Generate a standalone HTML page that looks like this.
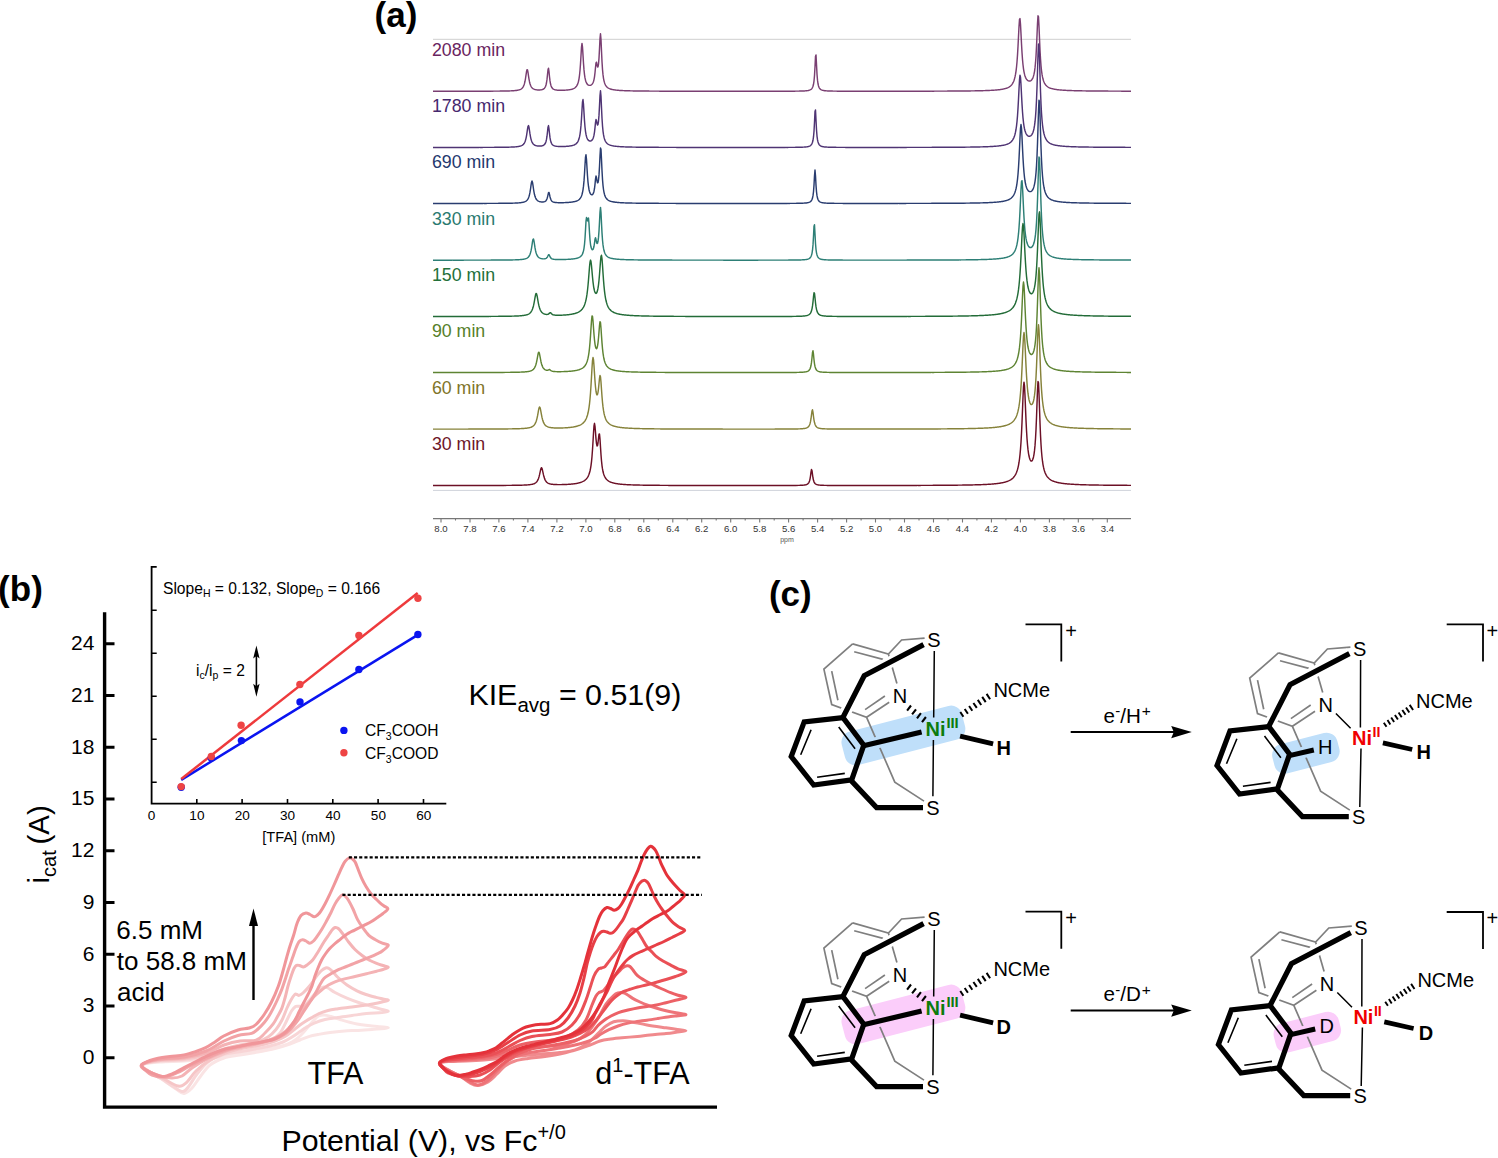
<!DOCTYPE html>
<html><head><meta charset="utf-8"><style>
html,body{margin:0;padding:0;background:#fff;}
svg{display:block;}
</style></head><body>
<svg width="1498" height="1158" viewBox="0 0 1498 1158">
<rect width="1498" height="1158" fill="#fff"/>
<text x="374.6" y="27.4" style="font-family:'Liberation Sans', sans-serif;font-weight:bold;font-size:35px">(a)</text>
<line x1="433" y1="39.3" x2="1131" y2="39.3" stroke="#cfcfcf" stroke-width="1"/>
<line x1="433" y1="490.4" x2="1131" y2="490.4" stroke="#cfd3da" stroke-width="1"/>
<path d="M433.0 91.26 L433.5 91.26 L434.0 91.26 L434.5 91.26 L435.0 91.26 L435.5 91.26 L436.0 91.26 L436.5 91.26 L437.0 91.26 L437.5 91.26 L438.0 91.26 L438.5 91.26 L439.0 91.26 L439.5 91.26 L440.0 91.26 L440.5 91.26 L441.0 91.26 L441.5 91.25 L442.0 91.25 L442.5 91.25 L443.0 91.25 L443.5 91.25 L444.0 91.25 L444.5 91.25 L445.0 91.25 L445.5 91.25 L446.0 91.25 L446.5 91.25 L447.0 91.25 L447.5 91.25 L448.0 91.25 L448.5 91.25 L449.0 91.25 L449.5 91.25 L450.0 91.25 L450.5 91.25 L451.0 91.25 L451.5 91.25 L452.0 91.25 L452.5 91.25 L453.0 91.25 L453.5 91.24 L454.0 91.24 L454.5 91.24 L455.0 91.24 L455.5 91.24 L456.0 91.24 L456.5 91.24 L457.0 91.24 L457.5 91.24 L458.0 91.24 L458.5 91.24 L459.0 91.24 L459.5 91.24 L460.0 91.24 L460.5 91.24 L461.0 91.24 L461.5 91.24 L462.0 91.24 L462.5 91.23 L463.0 91.23 L463.5 91.23 L464.0 91.23 L464.5 91.23 L465.0 91.23 L465.5 91.23 L466.0 91.23 L466.5 91.23 L467.0 91.23 L467.5 91.23 L468.0 91.23 L468.5 91.23 L469.0 91.22 L469.5 91.22 L470.0 91.22 L470.5 91.22 L471.0 91.22 L471.5 91.22 L472.0 91.22 L472.5 91.22 L473.0 91.22 L473.5 91.22 L474.0 91.22 L474.5 91.21 L475.0 91.21 L475.5 91.21 L476.0 91.21 L476.5 91.21 L477.0 91.21 L477.5 91.21 L478.0 91.21 L478.5 91.20 L479.0 91.20 L479.5 91.20 L480.0 91.20 L480.5 91.20 L481.0 91.20 L481.5 91.20 L482.0 91.20 L482.5 91.19 L483.0 91.19 L483.5 91.19 L484.0 91.19 L484.5 91.19 L485.0 91.19 L485.5 91.18 L486.0 91.18 L486.5 91.18 L487.0 91.18 L487.5 91.18 L488.0 91.17 L488.5 91.17 L489.0 91.17 L489.5 91.17 L490.0 91.16 L490.5 91.16 L491.0 91.16 L491.5 91.16 L492.0 91.15 L492.5 91.15 L493.0 91.15 L493.5 91.14 L494.0 91.14 L494.5 91.14 L495.0 91.13 L495.5 91.13 L496.0 91.13 L496.5 91.12 L497.0 91.12 L497.5 91.12 L498.0 91.11 L498.5 91.11 L499.0 91.10 L499.5 91.10 L500.0 91.09 L500.5 91.09 L501.0 91.08 L501.5 91.07 L502.0 91.07 L502.5 91.06 L503.0 91.05 L503.5 91.05 L504.0 91.04 L504.5 91.03 L505.0 91.02 L505.5 91.01 L506.0 91.00 L506.5 90.99 L507.0 90.98 L507.5 90.97 L508.0 90.95 L508.5 90.94 L509.0 90.92 L509.5 90.91 L510.0 90.89 L510.5 90.87 L511.0 90.85 L511.5 90.83 L512.0 90.80 L512.5 90.77 L513.0 90.75 L513.5 90.71 L514.0 90.68 L514.5 90.64 L515.0 90.59 L515.5 90.54 L516.0 90.48 L516.5 90.42 L517.0 90.34 L517.5 90.26 L518.0 90.16 L518.5 90.05 L519.0 89.92 L519.5 89.76 L520.0 89.58 L520.5 89.35 L521.0 89.08 L521.5 88.74 L522.0 88.32 L522.5 87.79 L523.0 87.10 L523.5 86.20 L524.0 85.01 L524.5 83.42 L525.0 81.28 L525.5 78.51 L526.0 75.15 L526.5 71.77 L527.0 69.62 L527.5 69.87 L528.0 72.38 L528.5 75.81 L529.0 79.06 L529.5 81.70 L530.0 83.70 L530.5 85.18 L531.0 86.29 L531.5 87.13 L532.0 87.76 L532.5 88.26 L533.0 88.64 L533.5 88.94 L534.0 89.18 L534.5 89.38 L535.0 89.53 L535.5 89.66 L536.0 89.76 L536.5 89.84 L537.0 89.90 L537.5 89.94 L538.0 89.97 L538.5 89.99 L539.0 89.99 L539.5 89.97 L540.0 89.95 L540.5 89.90 L541.0 89.84 L541.5 89.75 L542.0 89.63 L542.5 89.48 L543.0 89.27 L543.5 89.00 L544.0 88.64 L544.5 88.15 L545.0 87.45 L545.5 86.46 L546.0 84.99 L546.5 82.76 L547.0 79.39 L547.5 74.66 L548.0 69.72 L548.5 68.12 L549.0 71.54 L549.5 76.70 L550.0 80.91 L550.5 83.78 L551.0 85.67 L551.5 86.93 L552.0 87.79 L552.5 88.40 L553.0 88.84 L553.5 89.17 L554.0 89.42 L554.5 89.61 L555.0 89.76 L555.5 89.88 L556.0 89.98 L556.5 90.05 L557.0 90.11 L557.5 90.16 L558.0 90.20 L558.5 90.23 L559.0 90.26 L559.5 90.27 L560.0 90.29 L560.5 90.29 L561.0 90.29 L561.5 90.29 L562.0 90.29 L562.5 90.28 L563.0 90.27 L563.5 90.25 L564.0 90.23 L564.5 90.21 L565.0 90.18 L565.5 90.15 L566.0 90.12 L566.5 90.08 L567.0 90.04 L567.5 89.99 L568.0 89.94 L568.5 89.88 L569.0 89.81 L569.5 89.74 L570.0 89.65 L570.5 89.56 L571.0 89.45 L571.5 89.33 L572.0 89.19 L572.5 89.04 L573.0 88.86 L573.5 88.65 L574.0 88.40 L574.5 88.11 L575.0 87.77 L575.5 87.35 L576.0 86.84 L576.5 86.21 L577.0 85.42 L577.5 84.39 L578.0 83.05 L578.5 81.25 L579.0 78.79 L579.5 75.35 L580.0 70.52 L580.5 63.85 L581.0 55.43 L581.5 47.15 L582.0 43.40 L582.5 47.01 L583.0 55.14 L583.5 63.41 L584.0 69.93 L584.5 74.61 L585.0 77.89 L585.5 80.19 L586.0 81.82 L586.5 82.99 L587.0 83.83 L587.5 84.43 L588.0 84.85 L588.5 85.13 L589.0 85.30 L589.5 85.38 L590.0 85.36 L590.5 85.26 L591.0 85.06 L591.5 84.75 L592.0 84.30 L592.5 83.67 L593.0 82.77 L593.5 81.49 L594.0 79.62 L594.5 76.84 L595.0 72.76 L595.5 67.46 L596.0 62.84 L596.5 62.17 L597.0 64.75 L597.5 66.94 L598.0 66.89 L598.5 64.08 L599.0 58.11 L599.5 48.87 L600.0 38.49 L600.5 33.70 L601.0 39.50 L601.5 50.99 L602.0 61.58 L602.5 69.33 L603.0 74.64 L603.5 78.28 L604.0 80.84 L604.5 82.68 L605.0 84.05 L605.5 85.09 L606.0 85.90 L606.5 86.55 L607.0 87.08 L607.5 87.51 L608.0 87.87 L608.5 88.18 L609.0 88.44 L609.5 88.66 L610.0 88.86 L610.5 89.03 L611.0 89.19 L611.5 89.32 L612.0 89.45 L612.5 89.56 L613.0 89.65 L613.5 89.75 L614.0 89.83 L614.5 89.90 L615.0 89.97 L615.5 90.04 L616.0 90.10 L616.5 90.15 L617.0 90.20 L617.5 90.25 L618.0 90.29 L618.5 90.33 L619.0 90.37 L619.5 90.41 L620.0 90.44 L620.5 90.47 L621.0 90.50 L621.5 90.53 L622.0 90.56 L622.5 90.58 L623.0 90.61 L623.5 90.63 L624.0 90.65 L624.5 90.67 L625.0 90.69 L625.5 90.71 L626.0 90.73 L626.5 90.74 L627.0 90.76 L627.5 90.78 L628.0 90.79 L628.5 90.81 L629.0 90.82 L629.5 90.83 L630.0 90.84 L630.5 90.86 L631.0 90.87 L631.5 90.88 L632.0 90.89 L632.5 90.90 L633.0 90.91 L633.5 90.92 L634.0 90.93 L634.5 90.93 L635.0 90.94 L635.5 90.95 L636.0 90.96 L636.5 90.97 L637.0 90.97 L637.5 90.98 L638.0 90.99 L638.5 90.99 L639.0 91.00 L639.5 91.01 L640.0 91.01 L640.5 91.02 L641.0 91.02 L641.5 91.03 L642.0 91.03 L642.5 91.04 L643.0 91.04 L643.5 91.05 L644.0 91.05 L644.5 91.06 L645.0 91.06 L645.5 91.07 L646.0 91.07 L646.5 91.07 L647.0 91.08 L647.5 91.08 L648.0 91.09 L648.5 91.09 L649.0 91.09 L649.5 91.10 L650.0 91.10 L650.5 91.10 L651.0 91.11 L651.5 91.11 L652.0 91.11 L652.5 91.11 L653.0 91.12 L653.5 91.12 L654.0 91.12 L654.5 91.13 L655.0 91.13 L655.5 91.13 L656.0 91.13 L656.5 91.14 L657.0 91.14 L657.5 91.14 L658.0 91.14 L658.5 91.14 L659.0 91.15 L659.5 91.15 L660.0 91.15 L660.5 91.15 L661.0 91.15 L661.5 91.16 L662.0 91.16 L662.5 91.16 L663.0 91.16 L663.5 91.16 L664.0 91.16 L664.5 91.17 L665.0 91.17 L665.5 91.17 L666.0 91.17 L666.5 91.17 L667.0 91.17 L667.5 91.18 L668.0 91.18 L668.5 91.18 L669.0 91.18 L669.5 91.18 L670.0 91.18 L670.5 91.18 L671.0 91.18 L671.5 91.19 L672.0 91.19 L672.5 91.19 L673.0 91.19 L673.5 91.19 L674.0 91.19 L674.5 91.19 L675.0 91.19 L675.5 91.19 L676.0 91.20 L676.5 91.20 L677.0 91.20 L677.5 91.20 L678.0 91.20 L678.5 91.20 L679.0 91.20 L679.5 91.20 L680.0 91.20 L680.5 91.20 L681.0 91.21 L681.5 91.21 L682.0 91.21 L682.5 91.21 L683.0 91.21 L683.5 91.21 L684.0 91.21 L684.5 91.21 L685.0 91.21 L685.5 91.21 L686.0 91.21 L686.5 91.21 L687.0 91.21 L687.5 91.22 L688.0 91.22 L688.5 91.22 L689.0 91.22 L689.5 91.22 L690.0 91.22 L690.5 91.22 L691.0 91.22 L691.5 91.22 L692.0 91.22 L692.5 91.22 L693.0 91.22 L693.5 91.22 L694.0 91.22 L694.5 91.22 L695.0 91.22 L695.5 91.22 L696.0 91.23 L696.5 91.23 L697.0 91.23 L697.5 91.23 L698.0 91.23 L698.5 91.23 L699.0 91.23 L699.5 91.23 L700.0 91.23 L700.5 91.23 L701.0 91.23 L701.5 91.23 L702.0 91.23 L702.5 91.23 L703.0 91.23 L703.5 91.23 L704.0 91.23 L704.5 91.23 L705.0 91.23 L705.5 91.23 L706.0 91.23 L706.5 91.23 L707.0 91.23 L707.5 91.23 L708.0 91.24 L708.5 91.24 L709.0 91.24 L709.5 91.24 L710.0 91.24 L710.5 91.24 L711.0 91.24 L711.5 91.24 L712.0 91.24 L712.5 91.24 L713.0 91.24 L713.5 91.24 L714.0 91.24 L714.5 91.24 L715.0 91.24 L715.5 91.24 L716.0 91.24 L716.5 91.24 L717.0 91.24 L717.5 91.24 L718.0 91.24 L718.5 91.24 L719.0 91.24 L719.5 91.24 L720.0 91.24 L720.5 91.24 L721.0 91.24 L721.5 91.24 L722.0 91.24 L722.5 91.24 L723.0 91.24 L723.5 91.24 L724.0 91.24 L724.5 91.24 L725.0 91.24 L725.5 91.24 L726.0 91.24 L726.5 91.24 L727.0 91.24 L727.5 91.24 L728.0 91.24 L728.5 91.24 L729.0 91.24 L729.5 91.24 L730.0 91.24 L730.5 91.24 L731.0 91.25 L731.5 91.25 L732.0 91.25 L732.5 91.25 L733.0 91.25 L733.5 91.25 L734.0 91.25 L734.5 91.25 L735.0 91.25 L735.5 91.25 L736.0 91.25 L736.5 91.25 L737.0 91.25 L737.5 91.25 L738.0 91.25 L738.5 91.25 L739.0 91.25 L739.5 91.25 L740.0 91.25 L740.5 91.25 L741.0 91.25 L741.5 91.25 L742.0 91.25 L742.5 91.25 L743.0 91.25 L743.5 91.25 L744.0 91.25 L744.5 91.25 L745.0 91.25 L745.5 91.25 L746.0 91.25 L746.5 91.25 L747.0 91.25 L747.5 91.25 L748.0 91.25 L748.5 91.25 L749.0 91.25 L749.5 91.25 L750.0 91.25 L750.5 91.25 L751.0 91.25 L751.5 91.25 L752.0 91.25 L752.5 91.25 L753.0 91.25 L753.5 91.25 L754.0 91.25 L754.5 91.25 L755.0 91.25 L755.5 91.25 L756.0 91.25 L756.5 91.25 L757.0 91.25 L757.5 91.24 L758.0 91.24 L758.5 91.24 L759.0 91.24 L759.5 91.24 L760.0 91.24 L760.5 91.24 L761.0 91.24 L761.5 91.24 L762.0 91.24 L762.5 91.24 L763.0 91.24 L763.5 91.24 L764.0 91.24 L764.5 91.24 L765.0 91.24 L765.5 91.24 L766.0 91.24 L766.5 91.24 L767.0 91.24 L767.5 91.24 L768.0 91.24 L768.5 91.24 L769.0 91.24 L769.5 91.24 L770.0 91.24 L770.5 91.24 L771.0 91.24 L771.5 91.24 L772.0 91.24 L772.5 91.24 L773.0 91.24 L773.5 91.23 L774.0 91.23 L774.5 91.23 L775.0 91.23 L775.5 91.23 L776.0 91.23 L776.5 91.23 L777.0 91.23 L777.5 91.23 L778.0 91.23 L778.5 91.23 L779.0 91.23 L779.5 91.23 L780.0 91.22 L780.5 91.22 L781.0 91.22 L781.5 91.22 L782.0 91.22 L782.5 91.22 L783.0 91.22 L783.5 91.22 L784.0 91.22 L784.5 91.21 L785.0 91.21 L785.5 91.21 L786.0 91.21 L786.5 91.21 L787.0 91.21 L787.5 91.20 L788.0 91.20 L788.5 91.20 L789.0 91.20 L789.5 91.19 L790.0 91.19 L790.5 91.19 L791.0 91.19 L791.5 91.18 L792.0 91.18 L792.5 91.18 L793.0 91.17 L793.5 91.17 L794.0 91.16 L794.5 91.16 L795.0 91.16 L795.5 91.15 L796.0 91.14 L796.5 91.14 L797.0 91.13 L797.5 91.12 L798.0 91.12 L798.5 91.11 L799.0 91.10 L799.5 91.09 L800.0 91.08 L800.5 91.07 L801.0 91.05 L801.5 91.04 L802.0 91.02 L802.5 91.00 L803.0 90.98 L803.5 90.96 L804.0 90.94 L804.5 90.91 L805.0 90.87 L805.5 90.84 L806.0 90.79 L806.5 90.74 L807.0 90.68 L807.5 90.61 L808.0 90.53 L808.5 90.43 L809.0 90.30 L809.5 90.15 L810.0 89.95 L810.5 89.71 L811.0 89.38 L811.5 88.95 L812.0 88.35 L812.5 87.50 L813.0 86.24 L813.5 84.27 L814.0 81.05 L814.5 75.59 L815.0 66.69 L815.5 56.30 L816.0 54.90 L816.5 64.53 L817.0 74.11 L817.5 80.17 L818.0 83.75 L818.5 85.91 L819.0 87.29 L819.5 88.21 L820.0 88.85 L820.5 89.31 L821.0 89.65 L821.5 89.91 L822.0 90.11 L822.5 90.27 L823.0 90.40 L823.5 90.51 L824.0 90.59 L824.5 90.67 L825.0 90.73 L825.5 90.78 L826.0 90.82 L826.5 90.86 L827.0 90.90 L827.5 90.93 L828.0 90.95 L828.5 90.98 L829.0 91.00 L829.5 91.01 L830.0 91.03 L830.5 91.05 L831.0 91.06 L831.5 91.07 L832.0 91.08 L832.5 91.09 L833.0 91.10 L833.5 91.11 L834.0 91.12 L834.5 91.12 L835.0 91.13 L835.5 91.14 L836.0 91.14 L836.5 91.15 L837.0 91.15 L837.5 91.16 L838.0 91.16 L838.5 91.17 L839.0 91.17 L839.5 91.17 L840.0 91.18 L840.5 91.18 L841.0 91.18 L841.5 91.18 L842.0 91.19 L842.5 91.19 L843.0 91.19 L843.5 91.19 L844.0 91.19 L844.5 91.20 L845.0 91.20 L845.5 91.20 L846.0 91.20 L846.5 91.20 L847.0 91.20 L847.5 91.21 L848.0 91.21 L848.5 91.21 L849.0 91.21 L849.5 91.21 L850.0 91.21 L850.5 91.21 L851.0 91.21 L851.5 91.21 L852.0 91.21 L852.5 91.21 L853.0 91.22 L853.5 91.22 L854.0 91.22 L854.5 91.22 L855.0 91.22 L855.5 91.22 L856.0 91.22 L856.5 91.22 L857.0 91.22 L857.5 91.22 L858.0 91.22 L858.5 91.22 L859.0 91.22 L859.5 91.22 L860.0 91.22 L860.5 91.22 L861.0 91.22 L861.5 91.22 L862.0 91.22 L862.5 91.22 L863.0 91.22 L863.5 91.22 L864.0 91.22 L864.5 91.22 L865.0 91.22 L865.5 91.22 L866.0 91.22 L866.5 91.22 L867.0 91.22 L867.5 91.22 L868.0 91.22 L868.5 91.22 L869.0 91.22 L869.5 91.22 L870.0 91.22 L870.5 91.22 L871.0 91.22 L871.5 91.22 L872.0 91.22 L872.5 91.22 L873.0 91.22 L873.5 91.22 L874.0 91.22 L874.5 91.22 L875.0 91.22 L875.5 91.22 L876.0 91.22 L876.5 91.22 L877.0 91.22 L877.5 91.22 L878.0 91.22 L878.5 91.22 L879.0 91.22 L879.5 91.22 L880.0 91.22 L880.5 91.22 L881.0 91.22 L881.5 91.22 L882.0 91.22 L882.5 91.22 L883.0 91.22 L883.5 91.22 L884.0 91.22 L884.5 91.22 L885.0 91.22 L885.5 91.22 L886.0 91.22 L886.5 91.22 L887.0 91.22 L887.5 91.22 L888.0 91.22 L888.5 91.22 L889.0 91.22 L889.5 91.22 L890.0 91.22 L890.5 91.22 L891.0 91.22 L891.5 91.22 L892.0 91.22 L892.5 91.22 L893.0 91.21 L893.5 91.21 L894.0 91.21 L894.5 91.21 L895.0 91.21 L895.5 91.21 L896.0 91.21 L896.5 91.21 L897.0 91.21 L897.5 91.21 L898.0 91.21 L898.5 91.21 L899.0 91.21 L899.5 91.21 L900.0 91.21 L900.5 91.21 L901.0 91.21 L901.5 91.21 L902.0 91.21 L902.5 91.21 L903.0 91.21 L903.5 91.20 L904.0 91.20 L904.5 91.20 L905.0 91.20 L905.5 91.20 L906.0 91.20 L906.5 91.20 L907.0 91.20 L907.5 91.20 L908.0 91.20 L908.5 91.20 L909.0 91.20 L909.5 91.20 L910.0 91.20 L910.5 91.20 L911.0 91.19 L911.5 91.19 L912.0 91.19 L912.5 91.19 L913.0 91.19 L913.5 91.19 L914.0 91.19 L914.5 91.19 L915.0 91.19 L915.5 91.19 L916.0 91.19 L916.5 91.19 L917.0 91.19 L917.5 91.18 L918.0 91.18 L918.5 91.18 L919.0 91.18 L919.5 91.18 L920.0 91.18 L920.5 91.18 L921.0 91.18 L921.5 91.18 L922.0 91.18 L922.5 91.17 L923.0 91.17 L923.5 91.17 L924.0 91.17 L924.5 91.17 L925.0 91.17 L925.5 91.17 L926.0 91.17 L926.5 91.17 L927.0 91.16 L927.5 91.16 L928.0 91.16 L928.5 91.16 L929.0 91.16 L929.5 91.16 L930.0 91.16 L930.5 91.16 L931.0 91.15 L931.5 91.15 L932.0 91.15 L932.5 91.15 L933.0 91.15 L933.5 91.15 L934.0 91.15 L934.5 91.14 L935.0 91.14 L935.5 91.14 L936.0 91.14 L936.5 91.14 L937.0 91.14 L937.5 91.14 L938.0 91.13 L938.5 91.13 L939.0 91.13 L939.5 91.13 L940.0 91.13 L940.5 91.12 L941.0 91.12 L941.5 91.12 L942.0 91.12 L942.5 91.12 L943.0 91.11 L943.5 91.11 L944.0 91.11 L944.5 91.11 L945.0 91.11 L945.5 91.10 L946.0 91.10 L946.5 91.10 L947.0 91.10 L947.5 91.09 L948.0 91.09 L948.5 91.09 L949.0 91.09 L949.5 91.08 L950.0 91.08 L950.5 91.08 L951.0 91.08 L951.5 91.07 L952.0 91.07 L952.5 91.07 L953.0 91.07 L953.5 91.06 L954.0 91.06 L954.5 91.06 L955.0 91.05 L955.5 91.05 L956.0 91.05 L956.5 91.04 L957.0 91.04 L957.5 91.04 L958.0 91.03 L958.5 91.03 L959.0 91.02 L959.5 91.02 L960.0 91.02 L960.5 91.01 L961.0 91.01 L961.5 91.00 L962.0 91.00 L962.5 91.00 L963.0 90.99 L963.5 90.99 L964.0 90.98 L964.5 90.98 L965.0 90.97 L965.5 90.97 L966.0 90.96 L966.5 90.96 L967.0 90.95 L967.5 90.94 L968.0 90.94 L968.5 90.93 L969.0 90.93 L969.5 90.92 L970.0 90.91 L970.5 90.91 L971.0 90.90 L971.5 90.89 L972.0 90.89 L972.5 90.88 L973.0 90.87 L973.5 90.86 L974.0 90.86 L974.5 90.85 L975.0 90.84 L975.5 90.83 L976.0 90.82 L976.5 90.81 L977.0 90.80 L977.5 90.79 L978.0 90.78 L978.5 90.77 L979.0 90.76 L979.5 90.75 L980.0 90.74 L980.5 90.73 L981.0 90.71 L981.5 90.70 L982.0 90.69 L982.5 90.68 L983.0 90.66 L983.5 90.65 L984.0 90.63 L984.5 90.62 L985.0 90.60 L985.5 90.58 L986.0 90.57 L986.5 90.55 L987.0 90.53 L987.5 90.51 L988.0 90.49 L988.5 90.47 L989.0 90.45 L989.5 90.43 L990.0 90.40 L990.5 90.38 L991.0 90.35 L991.5 90.33 L992.0 90.30 L992.5 90.27 L993.0 90.24 L993.5 90.21 L994.0 90.17 L994.5 90.14 L995.0 90.10 L995.5 90.06 L996.0 90.02 L996.5 89.98 L997.0 89.93 L997.5 89.88 L998.0 89.83 L998.5 89.78 L999.0 89.72 L999.5 89.66 L1000.0 89.60 L1000.5 89.53 L1001.0 89.46 L1001.5 89.38 L1002.0 89.30 L1002.5 89.21 L1003.0 89.12 L1003.5 89.01 L1004.0 88.90 L1004.5 88.78 L1005.0 88.66 L1005.5 88.51 L1006.0 88.36 L1006.5 88.19 L1007.0 88.01 L1007.5 87.81 L1008.0 87.58 L1008.5 87.33 L1009.0 87.05 L1009.5 86.73 L1010.0 86.38 L1010.5 85.97 L1011.0 85.51 L1011.5 84.97 L1012.0 84.34 L1012.5 83.61 L1013.0 82.73 L1013.5 81.69 L1014.0 80.42 L1014.5 78.86 L1015.0 76.91 L1015.5 74.46 L1016.0 71.32 L1016.5 67.26 L1017.0 61.98 L1017.5 55.16 L1018.0 46.57 L1018.5 36.51 L1019.0 26.46 L1019.5 19.45 L1020.0 18.62 L1020.5 24.36 L1021.0 33.84 L1021.5 43.83 L1022.0 52.52 L1022.5 59.44 L1023.0 64.76 L1023.5 68.79 L1024.0 71.84 L1024.5 74.17 L1025.0 75.96 L1025.5 77.33 L1026.0 78.40 L1026.5 79.22 L1027.0 79.85 L1027.5 80.33 L1028.0 80.67 L1028.5 80.90 L1029.0 81.03 L1029.5 81.06 L1030.0 80.99 L1030.5 80.81 L1031.0 80.52 L1031.5 80.09 L1032.0 79.49 L1032.5 78.68 L1033.0 77.59 L1033.5 76.13 L1034.0 74.17 L1034.5 71.53 L1035.0 67.91 L1035.5 62.94 L1036.0 56.10 L1036.5 46.91 L1037.0 35.44 L1037.5 23.52 L1038.0 15.74 L1038.5 16.85 L1039.0 26.18 L1039.5 38.56 L1040.0 49.91 L1040.5 58.87 L1041.0 65.56 L1041.5 70.50 L1042.0 74.16 L1042.5 76.93 L1043.0 79.05 L1043.5 80.71 L1044.0 82.03 L1044.5 83.10 L1045.0 83.97 L1045.5 84.70 L1046.0 85.31 L1046.5 85.83 L1047.0 86.28 L1047.5 86.66 L1048.0 87.00 L1048.5 87.30 L1049.0 87.56 L1049.5 87.80 L1050.0 88.01 L1050.5 88.20 L1051.0 88.37 L1051.5 88.53 L1052.0 88.67 L1052.5 88.80 L1053.0 88.92 L1053.5 89.03 L1054.0 89.13 L1054.5 89.23 L1055.0 89.32 L1055.5 89.40 L1056.0 89.48 L1056.5 89.55 L1057.0 89.62 L1057.5 89.68 L1058.0 89.74 L1058.5 89.79 L1059.0 89.85 L1059.5 89.90 L1060.0 89.94 L1060.5 89.99 L1061.0 90.03 L1061.5 90.07 L1062.0 90.11 L1062.5 90.15 L1063.0 90.18 L1063.5 90.22 L1064.0 90.25 L1064.5 90.28 L1065.0 90.31 L1065.5 90.33 L1066.0 90.36 L1066.5 90.39 L1067.0 90.41 L1067.5 90.43 L1068.0 90.46 L1068.5 90.48 L1069.0 90.50 L1069.5 90.52 L1070.0 90.54 L1070.5 90.56 L1071.0 90.57 L1071.5 90.59 L1072.0 90.61 L1072.5 90.62 L1073.0 90.64 L1073.5 90.65 L1074.0 90.67 L1074.5 90.68 L1075.0 90.69 L1075.5 90.71 L1076.0 90.72 L1076.5 90.73 L1077.0 90.74 L1077.5 90.76 L1078.0 90.77 L1078.5 90.78 L1079.0 90.79 L1079.5 90.80 L1080.0 90.81 L1080.5 90.82 L1081.0 90.83 L1081.5 90.84 L1082.0 90.84 L1082.5 90.85 L1083.0 90.86 L1083.5 90.87 L1084.0 90.88 L1084.5 90.88 L1085.0 90.89 L1085.5 90.90 L1086.0 90.91 L1086.5 90.91 L1087.0 90.92 L1087.5 90.93 L1088.0 90.93 L1088.5 90.94 L1089.0 90.94 L1089.5 90.95 L1090.0 90.95 L1090.5 90.96 L1091.0 90.97 L1091.5 90.97 L1092.0 90.98 L1092.5 90.98 L1093.0 90.99 L1093.5 90.99 L1094.0 91.00 L1094.5 91.00 L1095.0 91.00 L1095.5 91.01 L1096.0 91.01 L1096.5 91.02 L1097.0 91.02 L1097.5 91.03 L1098.0 91.03 L1098.5 91.03 L1099.0 91.04 L1099.5 91.04 L1100.0 91.04 L1100.5 91.05 L1101.0 91.05 L1101.5 91.05 L1102.0 91.06 L1102.5 91.06 L1103.0 91.06 L1103.5 91.07 L1104.0 91.07 L1104.5 91.07 L1105.0 91.08 L1105.5 91.08 L1106.0 91.08 L1106.5 91.08 L1107.0 91.09 L1107.5 91.09 L1108.0 91.09 L1108.5 91.10 L1109.0 91.10 L1109.5 91.10 L1110.0 91.10 L1110.5 91.11 L1111.0 91.11 L1111.5 91.11 L1112.0 91.11 L1112.5 91.11 L1113.0 91.12 L1113.5 91.12 L1114.0 91.12 L1114.5 91.12 L1115.0 91.12 L1115.5 91.13 L1116.0 91.13 L1116.5 91.13 L1117.0 91.13 L1117.5 91.13 L1118.0 91.14 L1118.5 91.14 L1119.0 91.14 L1119.5 91.14 L1120.0 91.14 L1120.5 91.14 L1121.0 91.15 L1121.5 91.15 L1122.0 91.15 L1122.5 91.15 L1123.0 91.15 L1123.5 91.15 L1124.0 91.16 L1124.5 91.16 L1125.0 91.16 L1125.5 91.16 L1126.0 91.16 L1126.5 91.16 L1127.0 91.16 L1127.5 91.17 L1128.0 91.17 L1128.5 91.17 L1129.0 91.17 L1129.5 91.17 L1130.0 91.17 L1130.5 91.17 L1131.0 91.17" fill="none" stroke="#7a3f72" stroke-width="1.45" stroke-linejoin="round"/>
<text x="431.9" y="55.8" style="font-family:'Liberation Sans', sans-serif;font-size:17.8px" fill="#6a2560">2080 min</text>
<path d="M433.0 147.46 L433.5 147.46 L434.0 147.46 L434.5 147.46 L435.0 147.46 L435.5 147.46 L436.0 147.46 L436.5 147.46 L437.0 147.46 L437.5 147.46 L438.0 147.46 L438.5 147.46 L439.0 147.46 L439.5 147.46 L440.0 147.46 L440.5 147.46 L441.0 147.46 L441.5 147.46 L442.0 147.45 L442.5 147.45 L443.0 147.45 L443.5 147.45 L444.0 147.45 L444.5 147.45 L445.0 147.45 L445.5 147.45 L446.0 147.45 L446.5 147.45 L447.0 147.45 L447.5 147.45 L448.0 147.45 L448.5 147.45 L449.0 147.45 L449.5 147.45 L450.0 147.45 L450.5 147.45 L451.0 147.45 L451.5 147.45 L452.0 147.45 L452.5 147.45 L453.0 147.45 L453.5 147.45 L454.0 147.44 L454.5 147.44 L455.0 147.44 L455.5 147.44 L456.0 147.44 L456.5 147.44 L457.0 147.44 L457.5 147.44 L458.0 147.44 L458.5 147.44 L459.0 147.44 L459.5 147.44 L460.0 147.44 L460.5 147.44 L461.0 147.44 L461.5 147.44 L462.0 147.44 L462.5 147.44 L463.0 147.43 L463.5 147.43 L464.0 147.43 L464.5 147.43 L465.0 147.43 L465.5 147.43 L466.0 147.43 L466.5 147.43 L467.0 147.43 L467.5 147.43 L468.0 147.43 L468.5 147.43 L469.0 147.43 L469.5 147.43 L470.0 147.42 L470.5 147.42 L471.0 147.42 L471.5 147.42 L472.0 147.42 L472.5 147.42 L473.0 147.42 L473.5 147.42 L474.0 147.42 L474.5 147.42 L475.0 147.41 L475.5 147.41 L476.0 147.41 L476.5 147.41 L477.0 147.41 L477.5 147.41 L478.0 147.41 L478.5 147.41 L479.0 147.41 L479.5 147.40 L480.0 147.40 L480.5 147.40 L481.0 147.40 L481.5 147.40 L482.0 147.40 L482.5 147.40 L483.0 147.39 L483.5 147.39 L484.0 147.39 L484.5 147.39 L485.0 147.39 L485.5 147.39 L486.0 147.38 L486.5 147.38 L487.0 147.38 L487.5 147.38 L488.0 147.38 L488.5 147.38 L489.0 147.37 L489.5 147.37 L490.0 147.37 L490.5 147.37 L491.0 147.36 L491.5 147.36 L492.0 147.36 L492.5 147.36 L493.0 147.35 L493.5 147.35 L494.0 147.35 L494.5 147.34 L495.0 147.34 L495.5 147.34 L496.0 147.33 L496.5 147.33 L497.0 147.33 L497.5 147.32 L498.0 147.32 L498.5 147.32 L499.0 147.31 L499.5 147.31 L500.0 147.30 L500.5 147.30 L501.0 147.29 L501.5 147.29 L502.0 147.28 L502.5 147.27 L503.0 147.27 L503.5 147.26 L504.0 147.25 L504.5 147.25 L505.0 147.24 L505.5 147.23 L506.0 147.22 L506.5 147.21 L507.0 147.20 L507.5 147.19 L508.0 147.18 L508.5 147.17 L509.0 147.16 L509.5 147.14 L510.0 147.13 L510.5 147.11 L511.0 147.09 L511.5 147.07 L512.0 147.05 L512.5 147.03 L513.0 147.01 L513.5 146.98 L514.0 146.95 L514.5 146.92 L515.0 146.89 L515.5 146.85 L516.0 146.80 L516.5 146.76 L517.0 146.70 L517.5 146.64 L518.0 146.57 L518.5 146.49 L519.0 146.40 L519.5 146.29 L520.0 146.17 L520.5 146.02 L521.0 145.84 L521.5 145.64 L522.0 145.38 L522.5 145.07 L523.0 144.69 L523.5 144.20 L524.0 143.58 L524.5 142.77 L525.0 141.70 L525.5 140.27 L526.0 138.37 L526.5 135.84 L527.0 132.67 L527.5 129.18 L528.0 126.34 L528.5 125.55 L529.0 127.29 L529.5 130.53 L530.0 133.96 L530.5 136.87 L531.0 139.12 L531.5 140.80 L532.0 142.05 L532.5 142.99 L533.0 143.70 L533.5 144.24 L534.0 144.66 L534.5 144.99 L535.0 145.26 L535.5 145.47 L536.0 145.63 L536.5 145.77 L537.0 145.87 L537.5 145.95 L538.0 146.01 L538.5 146.05 L539.0 146.08 L539.5 146.08 L540.0 146.07 L540.5 146.05 L541.0 146.00 L541.5 145.92 L542.0 145.82 L542.5 145.69 L543.0 145.50 L543.5 145.25 L544.0 144.92 L544.5 144.46 L545.0 143.81 L545.5 142.88 L546.0 141.49 L546.5 139.40 L547.0 136.22 L547.5 131.77 L548.0 127.12 L548.5 125.61 L549.0 128.84 L549.5 133.70 L550.0 137.67 L550.5 140.37 L551.0 142.15 L551.5 143.34 L552.0 144.16 L552.5 144.73 L553.0 145.15 L553.5 145.46 L554.0 145.70 L554.5 145.88 L555.0 146.02 L555.5 146.13 L556.0 146.22 L556.5 146.30 L557.0 146.36 L557.5 146.40 L558.0 146.44 L558.5 146.47 L559.0 146.49 L559.5 146.51 L560.0 146.52 L560.5 146.53 L561.0 146.53 L561.5 146.53 L562.0 146.53 L562.5 146.52 L563.0 146.51 L563.5 146.49 L564.0 146.48 L564.5 146.46 L565.0 146.43 L565.5 146.41 L566.0 146.38 L566.5 146.34 L567.0 146.31 L567.5 146.27 L568.0 146.22 L568.5 146.17 L569.0 146.11 L569.5 146.05 L570.0 145.98 L570.5 145.90 L571.0 145.81 L571.5 145.71 L572.0 145.60 L572.5 145.47 L573.0 145.33 L573.5 145.17 L574.0 144.98 L574.5 144.76 L575.0 144.50 L575.5 144.20 L576.0 143.84 L576.5 143.40 L577.0 142.86 L577.5 142.20 L578.0 141.36 L578.5 140.27 L579.0 138.84 L579.5 136.92 L580.0 134.28 L580.5 130.60 L581.0 125.41 L581.5 118.34 L582.0 109.68 L582.5 101.89 L583.0 99.54 L583.5 104.43 L584.0 112.88 L584.5 120.88 L585.0 127.00 L585.5 131.35 L586.0 134.39 L586.5 136.52 L587.0 138.03 L587.5 139.10 L588.0 139.86 L588.5 140.39 L589.0 140.74 L589.5 140.96 L590.0 141.04 L590.5 141.01 L591.0 140.87 L591.5 140.60 L592.0 140.16 L592.5 139.52 L593.0 138.58 L593.5 137.20 L594.0 135.15 L594.5 132.08 L595.0 127.70 L595.5 122.59 L596.0 119.50 L596.5 120.60 L597.0 123.48 L597.5 125.11 L598.0 124.48 L598.5 121.31 L599.0 115.16 L599.5 105.86 L600.0 95.51 L600.5 90.70 L601.0 96.39 L601.5 107.72 L602.0 118.17 L602.5 125.81 L603.0 131.05 L603.5 134.64 L604.0 137.16 L604.5 138.98 L605.0 140.33 L605.5 141.36 L606.0 142.16 L606.5 142.80 L607.0 143.32 L607.5 143.74 L608.0 144.10 L608.5 144.40 L609.0 144.66 L609.5 144.88 L610.0 145.08 L610.5 145.25 L611.0 145.40 L611.5 145.54 L612.0 145.66 L612.5 145.77 L613.0 145.86 L613.5 145.95 L614.0 146.04 L614.5 146.11 L615.0 146.18 L615.5 146.24 L616.0 146.30 L616.5 146.35 L617.0 146.40 L617.5 146.45 L618.0 146.50 L618.5 146.54 L619.0 146.57 L619.5 146.61 L620.0 146.64 L620.5 146.68 L621.0 146.71 L621.5 146.73 L622.0 146.76 L622.5 146.79 L623.0 146.81 L623.5 146.83 L624.0 146.85 L624.5 146.87 L625.0 146.89 L625.5 146.91 L626.0 146.93 L626.5 146.95 L627.0 146.96 L627.5 146.98 L628.0 146.99 L628.5 147.01 L629.0 147.02 L629.5 147.03 L630.0 147.04 L630.5 147.06 L631.0 147.07 L631.5 147.08 L632.0 147.09 L632.5 147.10 L633.0 147.11 L633.5 147.12 L634.0 147.13 L634.5 147.14 L635.0 147.14 L635.5 147.15 L636.0 147.16 L636.5 147.17 L637.0 147.17 L637.5 147.18 L638.0 147.19 L638.5 147.19 L639.0 147.20 L639.5 147.21 L640.0 147.21 L640.5 147.22 L641.0 147.22 L641.5 147.23 L642.0 147.23 L642.5 147.24 L643.0 147.24 L643.5 147.25 L644.0 147.25 L644.5 147.26 L645.0 147.26 L645.5 147.27 L646.0 147.27 L646.5 147.27 L647.0 147.28 L647.5 147.28 L648.0 147.29 L648.5 147.29 L649.0 147.29 L649.5 147.30 L650.0 147.30 L650.5 147.30 L651.0 147.31 L651.5 147.31 L652.0 147.31 L652.5 147.31 L653.0 147.32 L653.5 147.32 L654.0 147.32 L654.5 147.33 L655.0 147.33 L655.5 147.33 L656.0 147.33 L656.5 147.33 L657.0 147.34 L657.5 147.34 L658.0 147.34 L658.5 147.34 L659.0 147.35 L659.5 147.35 L660.0 147.35 L660.5 147.35 L661.0 147.35 L661.5 147.36 L662.0 147.36 L662.5 147.36 L663.0 147.36 L663.5 147.36 L664.0 147.36 L664.5 147.37 L665.0 147.37 L665.5 147.37 L666.0 147.37 L666.5 147.37 L667.0 147.37 L667.5 147.37 L668.0 147.38 L668.5 147.38 L669.0 147.38 L669.5 147.38 L670.0 147.38 L670.5 147.38 L671.0 147.38 L671.5 147.39 L672.0 147.39 L672.5 147.39 L673.0 147.39 L673.5 147.39 L674.0 147.39 L674.5 147.39 L675.0 147.39 L675.5 147.39 L676.0 147.40 L676.5 147.40 L677.0 147.40 L677.5 147.40 L678.0 147.40 L678.5 147.40 L679.0 147.40 L679.5 147.40 L680.0 147.40 L680.5 147.40 L681.0 147.40 L681.5 147.41 L682.0 147.41 L682.5 147.41 L683.0 147.41 L683.5 147.41 L684.0 147.41 L684.5 147.41 L685.0 147.41 L685.5 147.41 L686.0 147.41 L686.5 147.41 L687.0 147.41 L687.5 147.41 L688.0 147.42 L688.5 147.42 L689.0 147.42 L689.5 147.42 L690.0 147.42 L690.5 147.42 L691.0 147.42 L691.5 147.42 L692.0 147.42 L692.5 147.42 L693.0 147.42 L693.5 147.42 L694.0 147.42 L694.5 147.42 L695.0 147.42 L695.5 147.42 L696.0 147.42 L696.5 147.42 L697.0 147.43 L697.5 147.43 L698.0 147.43 L698.5 147.43 L699.0 147.43 L699.5 147.43 L700.0 147.43 L700.5 147.43 L701.0 147.43 L701.5 147.43 L702.0 147.43 L702.5 147.43 L703.0 147.43 L703.5 147.43 L704.0 147.43 L704.5 147.43 L705.0 147.43 L705.5 147.43 L706.0 147.43 L706.5 147.43 L707.0 147.43 L707.5 147.43 L708.0 147.43 L708.5 147.43 L709.0 147.43 L709.5 147.44 L710.0 147.44 L710.5 147.44 L711.0 147.44 L711.5 147.44 L712.0 147.44 L712.5 147.44 L713.0 147.44 L713.5 147.44 L714.0 147.44 L714.5 147.44 L715.0 147.44 L715.5 147.44 L716.0 147.44 L716.5 147.44 L717.0 147.44 L717.5 147.44 L718.0 147.44 L718.5 147.44 L719.0 147.44 L719.5 147.44 L720.0 147.44 L720.5 147.44 L721.0 147.44 L721.5 147.44 L722.0 147.44 L722.5 147.44 L723.0 147.44 L723.5 147.44 L724.0 147.44 L724.5 147.44 L725.0 147.44 L725.5 147.44 L726.0 147.44 L726.5 147.44 L727.0 147.44 L727.5 147.44 L728.0 147.44 L728.5 147.44 L729.0 147.44 L729.5 147.44 L730.0 147.44 L730.5 147.44 L731.0 147.44 L731.5 147.44 L732.0 147.44 L732.5 147.44 L733.0 147.44 L733.5 147.44 L734.0 147.44 L734.5 147.44 L735.0 147.44 L735.5 147.44 L736.0 147.44 L736.5 147.44 L737.0 147.44 L737.5 147.45 L738.0 147.45 L738.5 147.45 L739.0 147.45 L739.5 147.45 L740.0 147.45 L740.5 147.45 L741.0 147.45 L741.5 147.45 L742.0 147.45 L742.5 147.45 L743.0 147.45 L743.5 147.45 L744.0 147.45 L744.5 147.45 L745.0 147.45 L745.5 147.45 L746.0 147.45 L746.5 147.45 L747.0 147.45 L747.5 147.45 L748.0 147.45 L748.5 147.45 L749.0 147.45 L749.5 147.44 L750.0 147.44 L750.5 147.44 L751.0 147.44 L751.5 147.44 L752.0 147.44 L752.5 147.44 L753.0 147.44 L753.5 147.44 L754.0 147.44 L754.5 147.44 L755.0 147.44 L755.5 147.44 L756.0 147.44 L756.5 147.44 L757.0 147.44 L757.5 147.44 L758.0 147.44 L758.5 147.44 L759.0 147.44 L759.5 147.44 L760.0 147.44 L760.5 147.44 L761.0 147.44 L761.5 147.44 L762.0 147.44 L762.5 147.44 L763.0 147.44 L763.5 147.44 L764.0 147.44 L764.5 147.44 L765.0 147.44 L765.5 147.44 L766.0 147.44 L766.5 147.44 L767.0 147.44 L767.5 147.44 L768.0 147.44 L768.5 147.44 L769.0 147.44 L769.5 147.44 L770.0 147.44 L770.5 147.44 L771.0 147.43 L771.5 147.43 L772.0 147.43 L772.5 147.43 L773.0 147.43 L773.5 147.43 L774.0 147.43 L774.5 147.43 L775.0 147.43 L775.5 147.43 L776.0 147.43 L776.5 147.43 L777.0 147.43 L777.5 147.43 L778.0 147.43 L778.5 147.42 L779.0 147.42 L779.5 147.42 L780.0 147.42 L780.5 147.42 L781.0 147.42 L781.5 147.42 L782.0 147.42 L782.5 147.42 L783.0 147.41 L783.5 147.41 L784.0 147.41 L784.5 147.41 L785.0 147.41 L785.5 147.41 L786.0 147.40 L786.5 147.40 L787.0 147.40 L787.5 147.40 L788.0 147.40 L788.5 147.39 L789.0 147.39 L789.5 147.39 L790.0 147.39 L790.5 147.38 L791.0 147.38 L791.5 147.38 L792.0 147.37 L792.5 147.37 L793.0 147.36 L793.5 147.36 L794.0 147.36 L794.5 147.35 L795.0 147.35 L795.5 147.34 L796.0 147.33 L796.5 147.33 L797.0 147.32 L797.5 147.31 L798.0 147.30 L798.5 147.29 L799.0 147.28 L799.5 147.27 L800.0 147.26 L800.5 147.25 L801.0 147.23 L801.5 147.21 L802.0 147.20 L802.5 147.17 L803.0 147.15 L803.5 147.12 L804.0 147.10 L804.5 147.06 L805.0 147.02 L805.5 146.98 L806.0 146.92 L806.5 146.86 L807.0 146.79 L807.5 146.70 L808.0 146.60 L808.5 146.47 L809.0 146.31 L809.5 146.12 L810.0 145.86 L810.5 145.53 L811.0 145.08 L811.5 144.47 L812.0 143.59 L812.5 142.29 L813.0 140.26 L813.5 136.95 L814.0 131.33 L814.5 122.17 L815.0 111.48 L815.5 110.04 L816.0 119.94 L816.5 129.81 L817.0 136.05 L817.5 139.72 L818.0 141.95 L818.5 143.37 L819.0 144.32 L819.5 144.97 L820.0 145.45 L820.5 145.80 L821.0 146.07 L821.5 146.28 L822.0 146.44 L822.5 146.57 L823.0 146.68 L823.5 146.77 L824.0 146.85 L824.5 146.91 L825.0 146.96 L825.5 147.01 L826.0 147.05 L826.5 147.08 L827.0 147.12 L827.5 147.14 L828.0 147.17 L828.5 147.19 L829.0 147.21 L829.5 147.22 L830.0 147.24 L830.5 147.25 L831.0 147.26 L831.5 147.28 L832.0 147.29 L832.5 147.30 L833.0 147.30 L833.5 147.31 L834.0 147.32 L834.5 147.33 L835.0 147.33 L835.5 147.34 L836.0 147.34 L836.5 147.35 L837.0 147.35 L837.5 147.36 L838.0 147.36 L838.5 147.36 L839.0 147.37 L839.5 147.37 L840.0 147.37 L840.5 147.38 L841.0 147.38 L841.5 147.38 L842.0 147.38 L842.5 147.39 L843.0 147.39 L843.5 147.39 L844.0 147.39 L844.5 147.39 L845.0 147.40 L845.5 147.40 L846.0 147.40 L846.5 147.40 L847.0 147.40 L847.5 147.40 L848.0 147.40 L848.5 147.41 L849.0 147.41 L849.5 147.41 L850.0 147.41 L850.5 147.41 L851.0 147.41 L851.5 147.41 L852.0 147.41 L852.5 147.41 L853.0 147.41 L853.5 147.41 L854.0 147.41 L854.5 147.41 L855.0 147.42 L855.5 147.42 L856.0 147.42 L856.5 147.42 L857.0 147.42 L857.5 147.42 L858.0 147.42 L858.5 147.42 L859.0 147.42 L859.5 147.42 L860.0 147.42 L860.5 147.42 L861.0 147.42 L861.5 147.42 L862.0 147.42 L862.5 147.42 L863.0 147.42 L863.5 147.42 L864.0 147.42 L864.5 147.42 L865.0 147.42 L865.5 147.42 L866.0 147.42 L866.5 147.42 L867.0 147.42 L867.5 147.42 L868.0 147.42 L868.5 147.42 L869.0 147.42 L869.5 147.42 L870.0 147.42 L870.5 147.42 L871.0 147.42 L871.5 147.42 L872.0 147.42 L872.5 147.42 L873.0 147.42 L873.5 147.42 L874.0 147.42 L874.5 147.42 L875.0 147.42 L875.5 147.42 L876.0 147.42 L876.5 147.42 L877.0 147.42 L877.5 147.42 L878.0 147.42 L878.5 147.42 L879.0 147.42 L879.5 147.42 L880.0 147.42 L880.5 147.42 L881.0 147.42 L881.5 147.42 L882.0 147.42 L882.5 147.42 L883.0 147.42 L883.5 147.42 L884.0 147.42 L884.5 147.42 L885.0 147.42 L885.5 147.42 L886.0 147.42 L886.5 147.42 L887.0 147.41 L887.5 147.41 L888.0 147.41 L888.5 147.41 L889.0 147.41 L889.5 147.41 L890.0 147.41 L890.5 147.41 L891.0 147.41 L891.5 147.41 L892.0 147.41 L892.5 147.41 L893.0 147.41 L893.5 147.41 L894.0 147.41 L894.5 147.41 L895.0 147.41 L895.5 147.41 L896.0 147.41 L896.5 147.41 L897.0 147.41 L897.5 147.41 L898.0 147.41 L898.5 147.41 L899.0 147.40 L899.5 147.40 L900.0 147.40 L900.5 147.40 L901.0 147.40 L901.5 147.40 L902.0 147.40 L902.5 147.40 L903.0 147.40 L903.5 147.40 L904.0 147.40 L904.5 147.40 L905.0 147.40 L905.5 147.40 L906.0 147.40 L906.5 147.40 L907.0 147.39 L907.5 147.39 L908.0 147.39 L908.5 147.39 L909.0 147.39 L909.5 147.39 L910.0 147.39 L910.5 147.39 L911.0 147.39 L911.5 147.39 L912.0 147.39 L912.5 147.39 L913.0 147.39 L913.5 147.39 L914.0 147.38 L914.5 147.38 L915.0 147.38 L915.5 147.38 L916.0 147.38 L916.5 147.38 L917.0 147.38 L917.5 147.38 L918.0 147.38 L918.5 147.38 L919.0 147.38 L919.5 147.37 L920.0 147.37 L920.5 147.37 L921.0 147.37 L921.5 147.37 L922.0 147.37 L922.5 147.37 L923.0 147.37 L923.5 147.37 L924.0 147.36 L924.5 147.36 L925.0 147.36 L925.5 147.36 L926.0 147.36 L926.5 147.36 L927.0 147.36 L927.5 147.36 L928.0 147.36 L928.5 147.35 L929.0 147.35 L929.5 147.35 L930.0 147.35 L930.5 147.35 L931.0 147.35 L931.5 147.35 L932.0 147.34 L932.5 147.34 L933.0 147.34 L933.5 147.34 L934.0 147.34 L934.5 147.34 L935.0 147.34 L935.5 147.33 L936.0 147.33 L936.5 147.33 L937.0 147.33 L937.5 147.33 L938.0 147.32 L938.5 147.32 L939.0 147.32 L939.5 147.32 L940.0 147.32 L940.5 147.32 L941.0 147.31 L941.5 147.31 L942.0 147.31 L942.5 147.31 L943.0 147.31 L943.5 147.30 L944.0 147.30 L944.5 147.30 L945.0 147.30 L945.5 147.29 L946.0 147.29 L946.5 147.29 L947.0 147.29 L947.5 147.28 L948.0 147.28 L948.5 147.28 L949.0 147.28 L949.5 147.27 L950.0 147.27 L950.5 147.27 L951.0 147.27 L951.5 147.26 L952.0 147.26 L952.5 147.26 L953.0 147.25 L953.5 147.25 L954.0 147.25 L954.5 147.24 L955.0 147.24 L955.5 147.24 L956.0 147.23 L956.5 147.23 L957.0 147.23 L957.5 147.22 L958.0 147.22 L958.5 147.22 L959.0 147.21 L959.5 147.21 L960.0 147.20 L960.5 147.20 L961.0 147.19 L961.5 147.19 L962.0 147.19 L962.5 147.18 L963.0 147.18 L963.5 147.17 L964.0 147.17 L964.5 147.16 L965.0 147.16 L965.5 147.15 L966.0 147.15 L966.5 147.14 L967.0 147.13 L967.5 147.13 L968.0 147.12 L968.5 147.12 L969.0 147.11 L969.5 147.10 L970.0 147.10 L970.5 147.09 L971.0 147.08 L971.5 147.08 L972.0 147.07 L972.5 147.06 L973.0 147.05 L973.5 147.04 L974.0 147.04 L974.5 147.03 L975.0 147.02 L975.5 147.01 L976.0 147.00 L976.5 146.99 L977.0 146.98 L977.5 146.97 L978.0 146.96 L978.5 146.95 L979.0 146.94 L979.5 146.93 L980.0 146.92 L980.5 146.90 L981.0 146.89 L981.5 146.88 L982.0 146.87 L982.5 146.85 L983.0 146.84 L983.5 146.82 L984.0 146.81 L984.5 146.79 L985.0 146.78 L985.5 146.76 L986.0 146.74 L986.5 146.72 L987.0 146.70 L987.5 146.68 L988.0 146.66 L988.5 146.64 L989.0 146.62 L989.5 146.60 L990.0 146.57 L990.5 146.55 L991.0 146.52 L991.5 146.50 L992.0 146.47 L992.5 146.44 L993.0 146.41 L993.5 146.38 L994.0 146.34 L994.5 146.31 L995.0 146.27 L995.5 146.23 L996.0 146.19 L996.5 146.15 L997.0 146.10 L997.5 146.06 L998.0 146.00 L998.5 145.95 L999.0 145.90 L999.5 145.84 L1000.0 145.77 L1000.5 145.71 L1001.0 145.64 L1001.5 145.56 L1002.0 145.48 L1002.5 145.39 L1003.0 145.30 L1003.5 145.20 L1004.0 145.09 L1004.5 144.98 L1005.0 144.85 L1005.5 144.72 L1006.0 144.57 L1006.5 144.41 L1007.0 144.23 L1007.5 144.04 L1008.0 143.83 L1008.5 143.59 L1009.0 143.32 L1009.5 143.03 L1010.0 142.70 L1010.5 142.32 L1011.0 141.89 L1011.5 141.40 L1012.0 140.83 L1012.5 140.17 L1013.0 139.39 L1013.5 138.45 L1014.0 137.33 L1014.5 135.97 L1015.0 134.28 L1015.5 132.17 L1016.0 129.50 L1016.5 126.06 L1017.0 121.61 L1017.5 115.83 L1018.0 108.40 L1018.5 99.27 L1019.0 89.08 L1019.5 79.93 L1020.0 75.17 L1020.5 77.10 L1021.0 84.63 L1021.5 94.47 L1022.0 103.90 L1022.5 111.76 L1023.0 117.89 L1023.5 122.56 L1024.0 126.08 L1024.5 128.75 L1025.0 130.78 L1025.5 132.33 L1026.0 133.52 L1026.5 134.42 L1027.0 135.10 L1027.5 135.60 L1028.0 135.96 L1028.5 136.18 L1029.0 136.29 L1029.5 136.28 L1030.0 136.16 L1030.5 135.93 L1031.0 135.56 L1031.5 135.04 L1032.0 134.34 L1032.5 133.41 L1033.0 132.19 L1033.5 130.60 L1034.0 128.49 L1034.5 125.70 L1035.0 121.95 L1035.5 116.86 L1036.0 109.89 L1036.5 100.33 L1037.0 87.51 L1037.5 71.52 L1038.0 54.91 L1038.5 44.06 L1039.0 45.54 L1039.5 58.44 L1040.0 75.58 L1040.5 91.29 L1041.0 103.68 L1041.5 112.93 L1042.0 119.74 L1042.5 124.79 L1043.0 128.59 L1043.5 131.50 L1044.0 133.76 L1044.5 135.56 L1045.0 137.01 L1045.5 138.19 L1046.0 139.17 L1046.5 139.99 L1047.0 140.68 L1047.5 141.27 L1048.0 141.78 L1048.5 142.23 L1049.0 142.62 L1049.5 142.96 L1050.0 143.27 L1050.5 143.54 L1051.0 143.78 L1051.5 144.00 L1052.0 144.20 L1052.5 144.38 L1053.0 144.55 L1053.5 144.70 L1054.0 144.83 L1054.5 144.96 L1055.0 145.08 L1055.5 145.19 L1056.0 145.29 L1056.5 145.38 L1057.0 145.47 L1057.5 145.55 L1058.0 145.63 L1058.5 145.70 L1059.0 145.77 L1059.5 145.84 L1060.0 145.90 L1060.5 145.95 L1061.0 146.01 L1061.5 146.06 L1062.0 146.10 L1062.5 146.15 L1063.0 146.19 L1063.5 146.23 L1064.0 146.27 L1064.5 146.31 L1065.0 146.35 L1065.5 146.38 L1066.0 146.41 L1066.5 146.44 L1067.0 146.47 L1067.5 146.50 L1068.0 146.53 L1068.5 146.55 L1069.0 146.58 L1069.5 146.60 L1070.0 146.63 L1070.5 146.65 L1071.0 146.67 L1071.5 146.69 L1072.0 146.71 L1072.5 146.73 L1073.0 146.75 L1073.5 146.76 L1074.0 146.78 L1074.5 146.80 L1075.0 146.81 L1075.5 146.83 L1076.0 146.84 L1076.5 146.86 L1077.0 146.87 L1077.5 146.88 L1078.0 146.90 L1078.5 146.91 L1079.0 146.92 L1079.5 146.93 L1080.0 146.94 L1080.5 146.96 L1081.0 146.97 L1081.5 146.98 L1082.0 146.99 L1082.5 147.00 L1083.0 147.01 L1083.5 147.02 L1084.0 147.02 L1084.5 147.03 L1085.0 147.04 L1085.5 147.05 L1086.0 147.06 L1086.5 147.07 L1087.0 147.07 L1087.5 147.08 L1088.0 147.09 L1088.5 147.09 L1089.0 147.10 L1089.5 147.11 L1090.0 147.11 L1090.5 147.12 L1091.0 147.13 L1091.5 147.13 L1092.0 147.14 L1092.5 147.14 L1093.0 147.15 L1093.5 147.16 L1094.0 147.16 L1094.5 147.17 L1095.0 147.17 L1095.5 147.18 L1096.0 147.18 L1096.5 147.19 L1097.0 147.19 L1097.5 147.20 L1098.0 147.20 L1098.5 147.20 L1099.0 147.21 L1099.5 147.21 L1100.0 147.22 L1100.5 147.22 L1101.0 147.22 L1101.5 147.23 L1102.0 147.23 L1102.5 147.24 L1103.0 147.24 L1103.5 147.24 L1104.0 147.25 L1104.5 147.25 L1105.0 147.25 L1105.5 147.26 L1106.0 147.26 L1106.5 147.26 L1107.0 147.27 L1107.5 147.27 L1108.0 147.27 L1108.5 147.27 L1109.0 147.28 L1109.5 147.28 L1110.0 147.28 L1110.5 147.28 L1111.0 147.29 L1111.5 147.29 L1112.0 147.29 L1112.5 147.30 L1113.0 147.30 L1113.5 147.30 L1114.0 147.30 L1114.5 147.30 L1115.0 147.31 L1115.5 147.31 L1116.0 147.31 L1116.5 147.31 L1117.0 147.32 L1117.5 147.32 L1118.0 147.32 L1118.5 147.32 L1119.0 147.32 L1119.5 147.33 L1120.0 147.33 L1120.5 147.33 L1121.0 147.33 L1121.5 147.33 L1122.0 147.33 L1122.5 147.34 L1123.0 147.34 L1123.5 147.34 L1124.0 147.34 L1124.5 147.34 L1125.0 147.34 L1125.5 147.35 L1126.0 147.35 L1126.5 147.35 L1127.0 147.35 L1127.5 147.35 L1128.0 147.35 L1128.5 147.36 L1129.0 147.36 L1129.5 147.36 L1130.0 147.36 L1130.5 147.36 L1131.0 147.36" fill="none" stroke="#4f3474" stroke-width="1.45" stroke-linejoin="round"/>
<text x="431.9" y="112.1" style="font-family:'Liberation Sans', sans-serif;font-size:17.8px" fill="#45286e">1780 min</text>
<path d="M433.0 203.46 L433.5 203.46 L434.0 203.46 L434.5 203.46 L435.0 203.46 L435.5 203.46 L436.0 203.46 L436.5 203.46 L437.0 203.46 L437.5 203.46 L438.0 203.46 L438.5 203.46 L439.0 203.46 L439.5 203.46 L440.0 203.46 L440.5 203.46 L441.0 203.46 L441.5 203.46 L442.0 203.46 L442.5 203.46 L443.0 203.46 L443.5 203.46 L444.0 203.46 L444.5 203.46 L445.0 203.46 L445.5 203.46 L446.0 203.46 L446.5 203.45 L447.0 203.45 L447.5 203.45 L448.0 203.45 L448.5 203.45 L449.0 203.45 L449.5 203.45 L450.0 203.45 L450.5 203.45 L451.0 203.45 L451.5 203.45 L452.0 203.45 L452.5 203.45 L453.0 203.45 L453.5 203.45 L454.0 203.45 L454.5 203.45 L455.0 203.45 L455.5 203.45 L456.0 203.45 L456.5 203.45 L457.0 203.45 L457.5 203.45 L458.0 203.45 L458.5 203.44 L459.0 203.44 L459.5 203.44 L460.0 203.44 L460.5 203.44 L461.0 203.44 L461.5 203.44 L462.0 203.44 L462.5 203.44 L463.0 203.44 L463.5 203.44 L464.0 203.44 L464.5 203.44 L465.0 203.44 L465.5 203.44 L466.0 203.44 L466.5 203.44 L467.0 203.44 L467.5 203.43 L468.0 203.43 L468.5 203.43 L469.0 203.43 L469.5 203.43 L470.0 203.43 L470.5 203.43 L471.0 203.43 L471.5 203.43 L472.0 203.43 L472.5 203.43 L473.0 203.43 L473.5 203.43 L474.0 203.42 L474.5 203.42 L475.0 203.42 L475.5 203.42 L476.0 203.42 L476.5 203.42 L477.0 203.42 L477.5 203.42 L478.0 203.42 L478.5 203.42 L479.0 203.42 L479.5 203.41 L480.0 203.41 L480.5 203.41 L481.0 203.41 L481.5 203.41 L482.0 203.41 L482.5 203.41 L483.0 203.41 L483.5 203.40 L484.0 203.40 L484.5 203.40 L485.0 203.40 L485.5 203.40 L486.0 203.40 L486.5 203.40 L487.0 203.39 L487.5 203.39 L488.0 203.39 L488.5 203.39 L489.0 203.39 L489.5 203.39 L490.0 203.38 L490.5 203.38 L491.0 203.38 L491.5 203.38 L492.0 203.38 L492.5 203.37 L493.0 203.37 L493.5 203.37 L494.0 203.37 L494.5 203.37 L495.0 203.36 L495.5 203.36 L496.0 203.36 L496.5 203.36 L497.0 203.35 L497.5 203.35 L498.0 203.35 L498.5 203.34 L499.0 203.34 L499.5 203.34 L500.0 203.33 L500.5 203.33 L501.0 203.33 L501.5 203.32 L502.0 203.32 L502.5 203.31 L503.0 203.31 L503.5 203.30 L504.0 203.30 L504.5 203.29 L505.0 203.29 L505.5 203.28 L506.0 203.28 L506.5 203.27 L507.0 203.26 L507.5 203.26 L508.0 203.25 L508.5 203.24 L509.0 203.23 L509.5 203.22 L510.0 203.22 L510.5 203.21 L511.0 203.20 L511.5 203.18 L512.0 203.17 L512.5 203.16 L513.0 203.15 L513.5 203.13 L514.0 203.11 L514.5 203.10 L515.0 203.08 L515.5 203.06 L516.0 203.04 L516.5 203.01 L517.0 202.99 L517.5 202.96 L518.0 202.93 L518.5 202.89 L519.0 202.85 L519.5 202.81 L520.0 202.76 L520.5 202.71 L521.0 202.65 L521.5 202.58 L522.0 202.50 L522.5 202.41 L523.0 202.30 L523.5 202.18 L524.0 202.03 L524.5 201.86 L525.0 201.65 L525.5 201.41 L526.0 201.10 L526.5 200.72 L527.0 200.25 L527.5 199.64 L528.0 198.86 L528.5 197.83 L529.0 196.45 L529.5 194.61 L530.0 192.16 L530.5 189.04 L531.0 185.47 L531.5 182.32 L532.0 181.00 L532.5 182.30 L533.0 185.44 L533.5 188.99 L534.0 192.10 L534.5 194.54 L535.0 196.37 L535.5 197.72 L536.0 198.74 L536.5 199.51 L537.0 200.09 L537.5 200.55 L538.0 200.90 L538.5 201.18 L539.0 201.41 L539.5 201.58 L540.0 201.72 L540.5 201.83 L541.0 201.90 L541.5 201.96 L542.0 201.99 L542.5 201.99 L543.0 201.97 L543.5 201.91 L544.0 201.82 L544.5 201.67 L545.0 201.46 L545.5 201.13 L546.0 200.65 L546.5 199.93 L547.0 198.81 L547.5 197.11 L548.0 194.81 L548.5 192.66 L549.0 192.42 L549.5 194.35 L550.0 196.75 L550.5 198.60 L551.0 199.85 L551.5 200.67 L552.0 201.22 L552.5 201.60 L553.0 201.87 L553.5 202.07 L554.0 202.22 L554.5 202.33 L555.0 202.42 L555.5 202.49 L556.0 202.54 L556.5 202.58 L557.0 202.61 L557.5 202.64 L558.0 202.66 L558.5 202.68 L559.0 202.69 L559.5 202.69 L560.0 202.70 L560.5 202.70 L561.0 202.70 L561.5 202.69 L562.0 202.69 L562.5 202.68 L563.0 202.67 L563.5 202.66 L564.0 202.64 L564.5 202.62 L565.0 202.61 L565.5 202.59 L566.0 202.56 L566.5 202.54 L567.0 202.51 L567.5 202.48 L568.0 202.45 L568.5 202.41 L569.0 202.37 L569.5 202.33 L570.0 202.28 L570.5 202.23 L571.0 202.18 L571.5 202.12 L572.0 202.05 L572.5 201.98 L573.0 201.90 L573.5 201.81 L574.0 201.71 L574.5 201.61 L575.0 201.48 L575.5 201.35 L576.0 201.19 L576.5 201.02 L577.0 200.82 L577.5 200.58 L578.0 200.31 L578.5 200.00 L579.0 199.62 L579.5 199.16 L580.0 198.61 L580.5 197.92 L581.0 197.06 L581.5 195.95 L582.0 194.49 L582.5 192.54 L583.0 189.86 L583.5 186.13 L584.0 180.89 L584.5 173.74 L585.0 165.01 L585.5 157.14 L586.0 154.74 L586.5 159.62 L587.0 168.07 L587.5 176.07 L588.0 182.17 L588.5 186.49 L589.0 189.47 L589.5 191.53 L590.0 192.93 L590.5 193.87 L591.0 194.45 L591.5 194.75 L592.0 194.78 L592.5 194.53 L593.0 193.96 L593.5 192.93 L594.0 191.23 L594.5 188.49 L595.0 184.33 L595.5 179.16 L596.0 176.00 L596.5 177.55 L597.0 180.91 L597.5 182.85 L598.0 182.59 L598.5 180.04 L599.0 174.88 L599.5 166.64 L600.0 156.11 L600.5 148.07 L601.0 149.53 L601.5 159.46 L602.0 170.63 L602.5 179.33 L603.0 185.37 L603.5 189.50 L604.0 192.36 L604.5 194.41 L605.0 195.91 L605.5 197.04 L606.0 197.91 L606.5 198.60 L607.0 199.16 L607.5 199.61 L608.0 199.99 L608.5 200.31 L609.0 200.58 L609.5 200.82 L610.0 201.02 L610.5 201.20 L611.0 201.36 L611.5 201.50 L612.0 201.62 L612.5 201.73 L613.0 201.83 L613.5 201.93 L614.0 202.01 L614.5 202.09 L615.0 202.16 L615.5 202.22 L616.0 202.28 L616.5 202.34 L617.0 202.39 L617.5 202.44 L618.0 202.48 L618.5 202.53 L619.0 202.56 L619.5 202.60 L620.0 202.64 L620.5 202.67 L621.0 202.70 L621.5 202.73 L622.0 202.75 L622.5 202.78 L623.0 202.80 L623.5 202.83 L624.0 202.85 L624.5 202.87 L625.0 202.89 L625.5 202.91 L626.0 202.93 L626.5 202.94 L627.0 202.96 L627.5 202.97 L628.0 202.99 L628.5 203.00 L629.0 203.02 L629.5 203.03 L630.0 203.04 L630.5 203.05 L631.0 203.07 L631.5 203.08 L632.0 203.09 L632.5 203.10 L633.0 203.11 L633.5 203.12 L634.0 203.13 L634.5 203.13 L635.0 203.14 L635.5 203.15 L636.0 203.16 L636.5 203.17 L637.0 203.17 L637.5 203.18 L638.0 203.19 L638.5 203.19 L639.0 203.20 L639.5 203.21 L640.0 203.21 L640.5 203.22 L641.0 203.22 L641.5 203.23 L642.0 203.23 L642.5 203.24 L643.0 203.24 L643.5 203.25 L644.0 203.25 L644.5 203.26 L645.0 203.26 L645.5 203.27 L646.0 203.27 L646.5 203.27 L647.0 203.28 L647.5 203.28 L648.0 203.29 L648.5 203.29 L649.0 203.29 L649.5 203.30 L650.0 203.30 L650.5 203.30 L651.0 203.31 L651.5 203.31 L652.0 203.31 L652.5 203.31 L653.0 203.32 L653.5 203.32 L654.0 203.32 L654.5 203.33 L655.0 203.33 L655.5 203.33 L656.0 203.33 L656.5 203.34 L657.0 203.34 L657.5 203.34 L658.0 203.34 L658.5 203.34 L659.0 203.35 L659.5 203.35 L660.0 203.35 L660.5 203.35 L661.0 203.35 L661.5 203.36 L662.0 203.36 L662.5 203.36 L663.0 203.36 L663.5 203.36 L664.0 203.37 L664.5 203.37 L665.0 203.37 L665.5 203.37 L666.0 203.37 L666.5 203.37 L667.0 203.37 L667.5 203.38 L668.0 203.38 L668.5 203.38 L669.0 203.38 L669.5 203.38 L670.0 203.38 L670.5 203.38 L671.0 203.39 L671.5 203.39 L672.0 203.39 L672.5 203.39 L673.0 203.39 L673.5 203.39 L674.0 203.39 L674.5 203.39 L675.0 203.39 L675.5 203.40 L676.0 203.40 L676.5 203.40 L677.0 203.40 L677.5 203.40 L678.0 203.40 L678.5 203.40 L679.0 203.40 L679.5 203.40 L680.0 203.40 L680.5 203.40 L681.0 203.41 L681.5 203.41 L682.0 203.41 L682.5 203.41 L683.0 203.41 L683.5 203.41 L684.0 203.41 L684.5 203.41 L685.0 203.41 L685.5 203.41 L686.0 203.41 L686.5 203.41 L687.0 203.41 L687.5 203.42 L688.0 203.42 L688.5 203.42 L689.0 203.42 L689.5 203.42 L690.0 203.42 L690.5 203.42 L691.0 203.42 L691.5 203.42 L692.0 203.42 L692.5 203.42 L693.0 203.42 L693.5 203.42 L694.0 203.42 L694.5 203.42 L695.0 203.42 L695.5 203.42 L696.0 203.43 L696.5 203.43 L697.0 203.43 L697.5 203.43 L698.0 203.43 L698.5 203.43 L699.0 203.43 L699.5 203.43 L700.0 203.43 L700.5 203.43 L701.0 203.43 L701.5 203.43 L702.0 203.43 L702.5 203.43 L703.0 203.43 L703.5 203.43 L704.0 203.43 L704.5 203.43 L705.0 203.43 L705.5 203.43 L706.0 203.43 L706.5 203.43 L707.0 203.43 L707.5 203.43 L708.0 203.44 L708.5 203.44 L709.0 203.44 L709.5 203.44 L710.0 203.44 L710.5 203.44 L711.0 203.44 L711.5 203.44 L712.0 203.44 L712.5 203.44 L713.0 203.44 L713.5 203.44 L714.0 203.44 L714.5 203.44 L715.0 203.44 L715.5 203.44 L716.0 203.44 L716.5 203.44 L717.0 203.44 L717.5 203.44 L718.0 203.44 L718.5 203.44 L719.0 203.44 L719.5 203.44 L720.0 203.44 L720.5 203.44 L721.0 203.44 L721.5 203.44 L722.0 203.44 L722.5 203.44 L723.0 203.44 L723.5 203.44 L724.0 203.44 L724.5 203.44 L725.0 203.44 L725.5 203.44 L726.0 203.44 L726.5 203.44 L727.0 203.44 L727.5 203.44 L728.0 203.44 L728.5 203.44 L729.0 203.44 L729.5 203.44 L730.0 203.44 L730.5 203.44 L731.0 203.45 L731.5 203.45 L732.0 203.45 L732.5 203.45 L733.0 203.45 L733.5 203.45 L734.0 203.45 L734.5 203.45 L735.0 203.45 L735.5 203.45 L736.0 203.45 L736.5 203.45 L737.0 203.45 L737.5 203.45 L738.0 203.45 L738.5 203.45 L739.0 203.45 L739.5 203.45 L740.0 203.45 L740.5 203.45 L741.0 203.45 L741.5 203.45 L742.0 203.45 L742.5 203.45 L743.0 203.45 L743.5 203.45 L744.0 203.45 L744.5 203.45 L745.0 203.45 L745.5 203.45 L746.0 203.45 L746.5 203.45 L747.0 203.45 L747.5 203.45 L748.0 203.45 L748.5 203.45 L749.0 203.45 L749.5 203.45 L750.0 203.45 L750.5 203.45 L751.0 203.45 L751.5 203.45 L752.0 203.45 L752.5 203.45 L753.0 203.45 L753.5 203.45 L754.0 203.45 L754.5 203.45 L755.0 203.45 L755.5 203.45 L756.0 203.45 L756.5 203.45 L757.0 203.45 L757.5 203.45 L758.0 203.44 L758.5 203.44 L759.0 203.44 L759.5 203.44 L760.0 203.44 L760.5 203.44 L761.0 203.44 L761.5 203.44 L762.0 203.44 L762.5 203.44 L763.0 203.44 L763.5 203.44 L764.0 203.44 L764.5 203.44 L765.0 203.44 L765.5 203.44 L766.0 203.44 L766.5 203.44 L767.0 203.44 L767.5 203.44 L768.0 203.44 L768.5 203.44 L769.0 203.44 L769.5 203.44 L770.0 203.44 L770.5 203.44 L771.0 203.44 L771.5 203.44 L772.0 203.44 L772.5 203.44 L773.0 203.44 L773.5 203.44 L774.0 203.43 L774.5 203.43 L775.0 203.43 L775.5 203.43 L776.0 203.43 L776.5 203.43 L777.0 203.43 L777.5 203.43 L778.0 203.43 L778.5 203.43 L779.0 203.43 L779.5 203.43 L780.0 203.43 L780.5 203.42 L781.0 203.42 L781.5 203.42 L782.0 203.42 L782.5 203.42 L783.0 203.42 L783.5 203.42 L784.0 203.42 L784.5 203.42 L785.0 203.41 L785.5 203.41 L786.0 203.41 L786.5 203.41 L787.0 203.41 L787.5 203.41 L788.0 203.40 L788.5 203.40 L789.0 203.40 L789.5 203.40 L790.0 203.39 L790.5 203.39 L791.0 203.39 L791.5 203.39 L792.0 203.38 L792.5 203.38 L793.0 203.38 L793.5 203.37 L794.0 203.37 L794.5 203.36 L795.0 203.36 L795.5 203.35 L796.0 203.35 L796.5 203.34 L797.0 203.33 L797.5 203.33 L798.0 203.32 L798.5 203.31 L799.0 203.30 L799.5 203.29 L800.0 203.28 L800.5 203.27 L801.0 203.25 L801.5 203.24 L802.0 203.22 L802.5 203.20 L803.0 203.18 L803.5 203.15 L804.0 203.13 L804.5 203.09 L805.0 203.06 L805.5 203.01 L806.0 202.97 L806.5 202.91 L807.0 202.84 L807.5 202.75 L808.0 202.65 L808.5 202.53 L809.0 202.37 L809.5 202.17 L810.0 201.91 L810.5 201.57 L811.0 201.10 L811.5 200.45 L812.0 199.49 L812.5 198.03 L813.0 195.69 L813.5 191.76 L814.0 185.14 L814.5 175.73 L815.0 170.00 L815.5 175.73 L816.0 185.14 L816.5 191.76 L817.0 195.69 L817.5 198.03 L818.0 199.49 L818.5 200.45 L819.0 201.10 L819.5 201.57 L820.0 201.91 L820.5 202.17 L821.0 202.37 L821.5 202.52 L822.0 202.65 L822.5 202.75 L823.0 202.83 L823.5 202.90 L824.0 202.96 L824.5 203.01 L825.0 203.05 L825.5 203.09 L826.0 203.12 L826.5 203.15 L827.0 203.17 L827.5 203.20 L828.0 203.22 L828.5 203.23 L829.0 203.25 L829.5 203.26 L830.0 203.27 L830.5 203.29 L831.0 203.30 L831.5 203.30 L832.0 203.31 L832.5 203.32 L833.0 203.33 L833.5 203.33 L834.0 203.34 L834.5 203.35 L835.0 203.35 L835.5 203.36 L836.0 203.36 L836.5 203.36 L837.0 203.37 L837.5 203.37 L838.0 203.37 L838.5 203.38 L839.0 203.38 L839.5 203.38 L840.0 203.39 L840.5 203.39 L841.0 203.39 L841.5 203.39 L842.0 203.39 L842.5 203.40 L843.0 203.40 L843.5 203.40 L844.0 203.40 L844.5 203.40 L845.0 203.40 L845.5 203.40 L846.0 203.41 L846.5 203.41 L847.0 203.41 L847.5 203.41 L848.0 203.41 L848.5 203.41 L849.0 203.41 L849.5 203.41 L850.0 203.41 L850.5 203.41 L851.0 203.41 L851.5 203.42 L852.0 203.42 L852.5 203.42 L853.0 203.42 L853.5 203.42 L854.0 203.42 L854.5 203.42 L855.0 203.42 L855.5 203.42 L856.0 203.42 L856.5 203.42 L857.0 203.42 L857.5 203.42 L858.0 203.42 L858.5 203.42 L859.0 203.42 L859.5 203.42 L860.0 203.42 L860.5 203.42 L861.0 203.42 L861.5 203.42 L862.0 203.42 L862.5 203.42 L863.0 203.42 L863.5 203.42 L864.0 203.42 L864.5 203.42 L865.0 203.42 L865.5 203.42 L866.0 203.42 L866.5 203.42 L867.0 203.42 L867.5 203.42 L868.0 203.42 L868.5 203.42 L869.0 203.42 L869.5 203.42 L870.0 203.42 L870.5 203.42 L871.0 203.42 L871.5 203.42 L872.0 203.42 L872.5 203.42 L873.0 203.42 L873.5 203.42 L874.0 203.42 L874.5 203.42 L875.0 203.42 L875.5 203.42 L876.0 203.42 L876.5 203.42 L877.0 203.42 L877.5 203.42 L878.0 203.42 L878.5 203.42 L879.0 203.42 L879.5 203.42 L880.0 203.42 L880.5 203.42 L881.0 203.42 L881.5 203.42 L882.0 203.42 L882.5 203.42 L883.0 203.42 L883.5 203.42 L884.0 203.42 L884.5 203.42 L885.0 203.42 L885.5 203.42 L886.0 203.42 L886.5 203.42 L887.0 203.41 L887.5 203.41 L888.0 203.41 L888.5 203.41 L889.0 203.41 L889.5 203.41 L890.0 203.41 L890.5 203.41 L891.0 203.41 L891.5 203.41 L892.0 203.41 L892.5 203.41 L893.0 203.41 L893.5 203.41 L894.0 203.41 L894.5 203.41 L895.0 203.41 L895.5 203.41 L896.0 203.41 L896.5 203.41 L897.0 203.41 L897.5 203.41 L898.0 203.41 L898.5 203.40 L899.0 203.40 L899.5 203.40 L900.0 203.40 L900.5 203.40 L901.0 203.40 L901.5 203.40 L902.0 203.40 L902.5 203.40 L903.0 203.40 L903.5 203.40 L904.0 203.40 L904.5 203.40 L905.0 203.40 L905.5 203.40 L906.0 203.40 L906.5 203.39 L907.0 203.39 L907.5 203.39 L908.0 203.39 L908.5 203.39 L909.0 203.39 L909.5 203.39 L910.0 203.39 L910.5 203.39 L911.0 203.39 L911.5 203.39 L912.0 203.39 L912.5 203.39 L913.0 203.39 L913.5 203.38 L914.0 203.38 L914.5 203.38 L915.0 203.38 L915.5 203.38 L916.0 203.38 L916.5 203.38 L917.0 203.38 L917.5 203.38 L918.0 203.38 L918.5 203.38 L919.0 203.37 L919.5 203.37 L920.0 203.37 L920.5 203.37 L921.0 203.37 L921.5 203.37 L922.0 203.37 L922.5 203.37 L923.0 203.37 L923.5 203.36 L924.0 203.36 L924.5 203.36 L925.0 203.36 L925.5 203.36 L926.0 203.36 L926.5 203.36 L927.0 203.36 L927.5 203.35 L928.0 203.35 L928.5 203.35 L929.0 203.35 L929.5 203.35 L930.0 203.35 L930.5 203.35 L931.0 203.35 L931.5 203.34 L932.0 203.34 L932.5 203.34 L933.0 203.34 L933.5 203.34 L934.0 203.34 L934.5 203.33 L935.0 203.33 L935.5 203.33 L936.0 203.33 L936.5 203.33 L937.0 203.33 L937.5 203.32 L938.0 203.32 L938.5 203.32 L939.0 203.32 L939.5 203.32 L940.0 203.31 L940.5 203.31 L941.0 203.31 L941.5 203.31 L942.0 203.31 L942.5 203.30 L943.0 203.30 L943.5 203.30 L944.0 203.30 L944.5 203.30 L945.0 203.29 L945.5 203.29 L946.0 203.29 L946.5 203.29 L947.0 203.28 L947.5 203.28 L948.0 203.28 L948.5 203.28 L949.0 203.27 L949.5 203.27 L950.0 203.27 L950.5 203.27 L951.0 203.26 L951.5 203.26 L952.0 203.26 L952.5 203.25 L953.0 203.25 L953.5 203.25 L954.0 203.24 L954.5 203.24 L955.0 203.24 L955.5 203.23 L956.0 203.23 L956.5 203.23 L957.0 203.22 L957.5 203.22 L958.0 203.22 L958.5 203.21 L959.0 203.21 L959.5 203.20 L960.0 203.20 L960.5 203.19 L961.0 203.19 L961.5 203.19 L962.0 203.18 L962.5 203.18 L963.0 203.17 L963.5 203.17 L964.0 203.16 L964.5 203.16 L965.0 203.15 L965.5 203.15 L966.0 203.14 L966.5 203.13 L967.0 203.13 L967.5 203.12 L968.0 203.12 L968.5 203.11 L969.0 203.10 L969.5 203.10 L970.0 203.09 L970.5 203.08 L971.0 203.08 L971.5 203.07 L972.0 203.06 L972.5 203.05 L973.0 203.05 L973.5 203.04 L974.0 203.03 L974.5 203.02 L975.0 203.01 L975.5 203.00 L976.0 202.99 L976.5 202.99 L977.0 202.98 L977.5 202.97 L978.0 202.95 L978.5 202.94 L979.0 202.93 L979.5 202.92 L980.0 202.91 L980.5 202.90 L981.0 202.89 L981.5 202.87 L982.0 202.86 L982.5 202.85 L983.0 202.83 L983.5 202.82 L984.0 202.80 L984.5 202.78 L985.0 202.77 L985.5 202.75 L986.0 202.73 L986.5 202.72 L987.0 202.70 L987.5 202.68 L988.0 202.66 L988.5 202.64 L989.0 202.61 L989.5 202.59 L990.0 202.57 L990.5 202.54 L991.0 202.52 L991.5 202.49 L992.0 202.46 L992.5 202.43 L993.0 202.40 L993.5 202.37 L994.0 202.34 L994.5 202.30 L995.0 202.27 L995.5 202.23 L996.0 202.19 L996.5 202.15 L997.0 202.10 L997.5 202.05 L998.0 202.01 L998.5 201.95 L999.0 201.90 L999.5 201.84 L1000.0 201.78 L1000.5 201.71 L1001.0 201.65 L1001.5 201.57 L1002.0 201.49 L1002.5 201.41 L1003.0 201.32 L1003.5 201.23 L1004.0 201.13 L1004.5 201.02 L1005.0 200.90 L1005.5 200.77 L1006.0 200.63 L1006.5 200.48 L1007.0 200.32 L1007.5 200.14 L1008.0 199.95 L1008.5 199.73 L1009.0 199.50 L1009.5 199.24 L1010.0 198.94 L1010.5 198.61 L1011.0 198.24 L1011.5 197.83 L1012.0 197.35 L1012.5 196.80 L1013.0 196.16 L1013.5 195.41 L1014.0 194.53 L1014.5 193.48 L1015.0 192.21 L1015.5 190.65 L1016.0 188.73 L1016.5 186.33 L1017.0 183.26 L1017.5 179.32 L1018.0 174.20 L1018.5 167.56 L1019.0 159.08 L1019.5 148.79 L1020.0 137.66 L1020.5 128.33 L1021.0 124.50 L1021.5 128.05 L1022.0 137.10 L1022.5 147.94 L1023.0 157.96 L1023.5 166.16 L1024.0 172.52 L1024.5 177.35 L1025.0 181.00 L1025.5 183.78 L1026.0 185.89 L1026.5 187.51 L1027.0 188.75 L1027.5 189.70 L1028.0 190.42 L1028.5 190.95 L1029.0 191.32 L1029.5 191.54 L1030.0 191.64 L1030.5 191.61 L1031.0 191.44 L1031.5 191.14 L1032.0 190.68 L1032.5 190.02 L1033.0 189.14 L1033.5 187.96 L1034.0 186.40 L1034.5 184.33 L1035.0 181.56 L1035.5 177.84 L1036.0 172.78 L1036.5 165.83 L1037.0 156.30 L1037.5 143.52 L1038.0 127.56 L1038.5 110.98 L1039.0 100.15 L1039.5 101.64 L1040.0 114.52 L1040.5 131.65 L1041.0 147.34 L1041.5 159.71 L1042.0 168.95 L1042.5 175.75 L1043.0 180.80 L1043.5 184.59 L1044.0 187.50 L1044.5 189.76 L1045.0 191.56 L1045.5 193.01 L1046.0 194.19 L1046.5 195.16 L1047.0 195.98 L1047.5 196.68 L1048.0 197.27 L1048.5 197.78 L1049.0 198.22 L1049.5 198.61 L1050.0 198.96 L1050.5 199.26 L1051.0 199.53 L1051.5 199.78 L1052.0 199.99 L1052.5 200.19 L1053.0 200.37 L1053.5 200.54 L1054.0 200.69 L1054.5 200.83 L1055.0 200.96 L1055.5 201.07 L1056.0 201.18 L1056.5 201.28 L1057.0 201.38 L1057.5 201.47 L1058.0 201.55 L1058.5 201.63 L1059.0 201.70 L1059.5 201.76 L1060.0 201.83 L1060.5 201.89 L1061.0 201.95 L1061.5 202.00 L1062.0 202.05 L1062.5 202.10 L1063.0 202.14 L1063.5 202.19 L1064.0 202.23 L1064.5 202.27 L1065.0 202.30 L1065.5 202.34 L1066.0 202.37 L1066.5 202.41 L1067.0 202.44 L1067.5 202.47 L1068.0 202.49 L1068.5 202.52 L1069.0 202.55 L1069.5 202.57 L1070.0 202.60 L1070.5 202.62 L1071.0 202.64 L1071.5 202.66 L1072.0 202.68 L1072.5 202.70 L1073.0 202.72 L1073.5 202.74 L1074.0 202.76 L1074.5 202.77 L1075.0 202.79 L1075.5 202.81 L1076.0 202.82 L1076.5 202.84 L1077.0 202.85 L1077.5 202.87 L1078.0 202.88 L1078.5 202.89 L1079.0 202.90 L1079.5 202.92 L1080.0 202.93 L1080.5 202.94 L1081.0 202.95 L1081.5 202.96 L1082.0 202.97 L1082.5 202.98 L1083.0 202.99 L1083.5 203.00 L1084.0 203.01 L1084.5 203.02 L1085.0 203.03 L1085.5 203.04 L1086.0 203.05 L1086.5 203.05 L1087.0 203.06 L1087.5 203.07 L1088.0 203.08 L1088.5 203.08 L1089.0 203.09 L1089.5 203.10 L1090.0 203.10 L1090.5 203.11 L1091.0 203.12 L1091.5 203.12 L1092.0 203.13 L1092.5 203.14 L1093.0 203.14 L1093.5 203.15 L1094.0 203.15 L1094.5 203.16 L1095.0 203.16 L1095.5 203.17 L1096.0 203.17 L1096.5 203.18 L1097.0 203.18 L1097.5 203.19 L1098.0 203.19 L1098.5 203.20 L1099.0 203.20 L1099.5 203.20 L1100.0 203.21 L1100.5 203.21 L1101.0 203.22 L1101.5 203.22 L1102.0 203.22 L1102.5 203.23 L1103.0 203.23 L1103.5 203.24 L1104.0 203.24 L1104.5 203.24 L1105.0 203.25 L1105.5 203.25 L1106.0 203.25 L1106.5 203.26 L1107.0 203.26 L1107.5 203.26 L1108.0 203.27 L1108.5 203.27 L1109.0 203.27 L1109.5 203.27 L1110.0 203.28 L1110.5 203.28 L1111.0 203.28 L1111.5 203.28 L1112.0 203.29 L1112.5 203.29 L1113.0 203.29 L1113.5 203.30 L1114.0 203.30 L1114.5 203.30 L1115.0 203.30 L1115.5 203.30 L1116.0 203.31 L1116.5 203.31 L1117.0 203.31 L1117.5 203.31 L1118.0 203.32 L1118.5 203.32 L1119.0 203.32 L1119.5 203.32 L1120.0 203.32 L1120.5 203.33 L1121.0 203.33 L1121.5 203.33 L1122.0 203.33 L1122.5 203.33 L1123.0 203.33 L1123.5 203.34 L1124.0 203.34 L1124.5 203.34 L1125.0 203.34 L1125.5 203.34 L1126.0 203.34 L1126.5 203.35 L1127.0 203.35 L1127.5 203.35 L1128.0 203.35 L1128.5 203.35 L1129.0 203.35 L1129.5 203.36 L1130.0 203.36 L1130.5 203.36 L1131.0 203.36" fill="none" stroke="#2a3d70" stroke-width="1.45" stroke-linejoin="round"/>
<text x="431.9" y="168.4" style="font-family:'Liberation Sans', sans-serif;font-size:17.8px" fill="#24386e">690 min</text>
<path d="M433.0 260.17 L433.5 260.17 L434.0 260.17 L434.5 260.17 L435.0 260.17 L435.5 260.16 L436.0 260.16 L436.5 260.16 L437.0 260.16 L437.5 260.16 L438.0 260.16 L438.5 260.16 L439.0 260.16 L439.5 260.16 L440.0 260.16 L440.5 260.16 L441.0 260.16 L441.5 260.16 L442.0 260.16 L442.5 260.16 L443.0 260.16 L443.5 260.16 L444.0 260.16 L444.5 260.16 L445.0 260.16 L445.5 260.16 L446.0 260.16 L446.5 260.16 L447.0 260.16 L447.5 260.16 L448.0 260.16 L448.5 260.16 L449.0 260.16 L449.5 260.16 L450.0 260.16 L450.5 260.16 L451.0 260.16 L451.5 260.16 L452.0 260.16 L452.5 260.15 L453.0 260.15 L453.5 260.15 L454.0 260.15 L454.5 260.15 L455.0 260.15 L455.5 260.15 L456.0 260.15 L456.5 260.15 L457.0 260.15 L457.5 260.15 L458.0 260.15 L458.5 260.15 L459.0 260.15 L459.5 260.15 L460.0 260.15 L460.5 260.15 L461.0 260.15 L461.5 260.15 L462.0 260.15 L462.5 260.15 L463.0 260.15 L463.5 260.15 L464.0 260.14 L464.5 260.14 L465.0 260.14 L465.5 260.14 L466.0 260.14 L466.5 260.14 L467.0 260.14 L467.5 260.14 L468.0 260.14 L468.5 260.14 L469.0 260.14 L469.5 260.14 L470.0 260.14 L470.5 260.14 L471.0 260.14 L471.5 260.14 L472.0 260.14 L472.5 260.13 L473.0 260.13 L473.5 260.13 L474.0 260.13 L474.5 260.13 L475.0 260.13 L475.5 260.13 L476.0 260.13 L476.5 260.13 L477.0 260.13 L477.5 260.13 L478.0 260.13 L478.5 260.13 L479.0 260.12 L479.5 260.12 L480.0 260.12 L480.5 260.12 L481.0 260.12 L481.5 260.12 L482.0 260.12 L482.5 260.12 L483.0 260.12 L483.5 260.12 L484.0 260.11 L484.5 260.11 L485.0 260.11 L485.5 260.11 L486.0 260.11 L486.5 260.11 L487.0 260.11 L487.5 260.11 L488.0 260.10 L488.5 260.10 L489.0 260.10 L489.5 260.10 L490.0 260.10 L490.5 260.10 L491.0 260.09 L491.5 260.09 L492.0 260.09 L492.5 260.09 L493.0 260.09 L493.5 260.09 L494.0 260.08 L494.5 260.08 L495.0 260.08 L495.5 260.08 L496.0 260.08 L496.5 260.07 L497.0 260.07 L497.5 260.07 L498.0 260.07 L498.5 260.06 L499.0 260.06 L499.5 260.06 L500.0 260.05 L500.5 260.05 L501.0 260.05 L501.5 260.04 L502.0 260.04 L502.5 260.04 L503.0 260.03 L503.5 260.03 L504.0 260.03 L504.5 260.02 L505.0 260.02 L505.5 260.01 L506.0 260.01 L506.5 260.00 L507.0 260.00 L507.5 259.99 L508.0 259.99 L508.5 259.98 L509.0 259.97 L509.5 259.97 L510.0 259.96 L510.5 259.95 L511.0 259.94 L511.5 259.93 L512.0 259.92 L512.5 259.91 L513.0 259.90 L513.5 259.89 L514.0 259.88 L514.5 259.86 L515.0 259.85 L515.5 259.84 L516.0 259.82 L516.5 259.80 L517.0 259.78 L517.5 259.76 L518.0 259.74 L518.5 259.71 L519.0 259.68 L519.5 259.65 L520.0 259.62 L520.5 259.58 L521.0 259.54 L521.5 259.49 L522.0 259.43 L522.5 259.37 L523.0 259.30 L523.5 259.22 L524.0 259.13 L524.5 259.03 L525.0 258.90 L525.5 258.75 L526.0 258.58 L526.5 258.37 L527.0 258.11 L527.5 257.80 L528.0 257.41 L528.5 256.91 L529.0 256.27 L529.5 255.44 L530.0 254.34 L530.5 252.87 L531.0 250.90 L531.5 248.31 L532.0 245.11 L532.5 241.73 L533.0 239.27 L533.5 239.01 L534.0 241.11 L534.5 244.40 L535.0 247.68 L535.5 250.39 L536.0 252.46 L536.5 254.01 L537.0 255.17 L537.5 256.03 L538.0 256.69 L538.5 257.20 L539.0 257.59 L539.5 257.90 L540.0 258.15 L540.5 258.35 L541.0 258.51 L541.5 258.63 L542.0 258.73 L542.5 258.80 L543.0 258.85 L543.5 258.87 L544.0 258.87 L544.5 258.84 L545.0 258.76 L545.5 258.64 L546.0 258.43 L546.5 258.11 L547.0 257.60 L547.5 256.81 L548.0 255.72 L548.5 254.71 L549.0 254.61 L549.5 255.54 L550.0 256.69 L550.5 257.58 L551.0 258.18 L551.5 258.57 L552.0 258.84 L552.5 259.02 L553.0 259.16 L553.5 259.25 L554.0 259.33 L554.5 259.38 L555.0 259.42 L555.5 259.46 L556.0 259.48 L556.5 259.50 L557.0 259.52 L557.5 259.53 L558.0 259.54 L558.5 259.54 L559.0 259.54 L559.5 259.55 L560.0 259.54 L560.5 259.54 L561.0 259.54 L561.5 259.53 L562.0 259.52 L562.5 259.52 L563.0 259.50 L563.5 259.49 L564.0 259.48 L564.5 259.47 L565.0 259.45 L565.5 259.43 L566.0 259.41 L566.5 259.39 L567.0 259.37 L567.5 259.35 L568.0 259.32 L568.5 259.29 L569.0 259.26 L569.5 259.23 L570.0 259.20 L570.5 259.16 L571.0 259.12 L571.5 259.07 L572.0 259.02 L572.5 258.97 L573.0 258.91 L573.5 258.85 L574.0 258.78 L574.5 258.71 L575.0 258.63 L575.5 258.54 L576.0 258.43 L576.5 258.32 L577.0 258.19 L577.5 258.05 L578.0 257.89 L578.5 257.70 L579.0 257.48 L579.5 257.22 L580.0 256.92 L580.5 256.55 L581.0 256.10 L581.5 255.54 L582.0 254.82 L582.5 253.89 L583.0 252.62 L583.5 250.84 L584.0 248.27 L584.5 244.39 L585.0 238.49 L585.5 230.06 L586.0 221.11 L586.5 217.50 L587.0 219.71 L587.5 220.89 L588.0 218.66 L588.5 218.00 L589.0 224.05 L589.5 232.83 L590.0 239.76 L590.5 244.26 L591.0 247.02 L591.5 248.64 L592.0 249.49 L592.5 249.72 L593.0 249.36 L593.5 248.29 L594.0 246.26 L594.5 243.04 L595.0 239.30 L595.5 237.69 L596.0 239.55 L596.5 242.17 L597.0 243.50 L597.5 243.22 L598.0 241.29 L598.5 237.43 L599.0 231.11 L599.5 222.02 L600.0 212.07 L600.5 207.40 L601.0 212.62 L601.5 223.15 L602.0 232.88 L602.5 240.00 L603.0 244.88 L603.5 248.22 L604.0 250.56 L604.5 252.25 L605.0 253.50 L605.5 254.46 L606.0 255.20 L606.5 255.80 L607.0 256.28 L607.5 256.68 L608.0 257.01 L608.5 257.29 L609.0 257.53 L609.5 257.74 L610.0 257.92 L610.5 258.08 L611.0 258.22 L611.5 258.35 L612.0 258.46 L612.5 258.56 L613.0 258.66 L613.5 258.74 L614.0 258.82 L614.5 258.89 L615.0 258.95 L615.5 259.01 L616.0 259.07 L616.5 259.12 L617.0 259.17 L617.5 259.21 L618.0 259.25 L618.5 259.29 L619.0 259.33 L619.5 259.36 L620.0 259.39 L620.5 259.42 L621.0 259.45 L621.5 259.48 L622.0 259.50 L622.5 259.53 L623.0 259.55 L623.5 259.57 L624.0 259.59 L624.5 259.61 L625.0 259.63 L625.5 259.65 L626.0 259.66 L626.5 259.68 L627.0 259.69 L627.5 259.71 L628.0 259.72 L628.5 259.74 L629.0 259.75 L629.5 259.76 L630.0 259.77 L630.5 259.78 L631.0 259.79 L631.5 259.80 L632.0 259.81 L632.5 259.82 L633.0 259.83 L633.5 259.84 L634.0 259.85 L634.5 259.86 L635.0 259.87 L635.5 259.87 L636.0 259.88 L636.5 259.89 L637.0 259.89 L637.5 259.90 L638.0 259.91 L638.5 259.91 L639.0 259.92 L639.5 259.93 L640.0 259.93 L640.5 259.94 L641.0 259.94 L641.5 259.95 L642.0 259.95 L642.5 259.96 L643.0 259.96 L643.5 259.96 L644.0 259.97 L644.5 259.97 L645.0 259.98 L645.5 259.98 L646.0 259.99 L646.5 259.99 L647.0 259.99 L647.5 260.00 L648.0 260.00 L648.5 260.00 L649.0 260.01 L649.5 260.01 L650.0 260.01 L650.5 260.02 L651.0 260.02 L651.5 260.02 L652.0 260.02 L652.5 260.03 L653.0 260.03 L653.5 260.03 L654.0 260.03 L654.5 260.04 L655.0 260.04 L655.5 260.04 L656.0 260.04 L656.5 260.05 L657.0 260.05 L657.5 260.05 L658.0 260.05 L658.5 260.05 L659.0 260.06 L659.5 260.06 L660.0 260.06 L660.5 260.06 L661.0 260.06 L661.5 260.07 L662.0 260.07 L662.5 260.07 L663.0 260.07 L663.5 260.07 L664.0 260.07 L664.5 260.08 L665.0 260.08 L665.5 260.08 L666.0 260.08 L666.5 260.08 L667.0 260.08 L667.5 260.08 L668.0 260.08 L668.5 260.09 L669.0 260.09 L669.5 260.09 L670.0 260.09 L670.5 260.09 L671.0 260.09 L671.5 260.09 L672.0 260.09 L672.5 260.10 L673.0 260.10 L673.5 260.10 L674.0 260.10 L674.5 260.10 L675.0 260.10 L675.5 260.10 L676.0 260.10 L676.5 260.10 L677.0 260.10 L677.5 260.11 L678.0 260.11 L678.5 260.11 L679.0 260.11 L679.5 260.11 L680.0 260.11 L680.5 260.11 L681.0 260.11 L681.5 260.11 L682.0 260.11 L682.5 260.11 L683.0 260.11 L683.5 260.11 L684.0 260.12 L684.5 260.12 L685.0 260.12 L685.5 260.12 L686.0 260.12 L686.5 260.12 L687.0 260.12 L687.5 260.12 L688.0 260.12 L688.5 260.12 L689.0 260.12 L689.5 260.12 L690.0 260.12 L690.5 260.12 L691.0 260.12 L691.5 260.12 L692.0 260.13 L692.5 260.13 L693.0 260.13 L693.5 260.13 L694.0 260.13 L694.5 260.13 L695.0 260.13 L695.5 260.13 L696.0 260.13 L696.5 260.13 L697.0 260.13 L697.5 260.13 L698.0 260.13 L698.5 260.13 L699.0 260.13 L699.5 260.13 L700.0 260.13 L700.5 260.13 L701.0 260.13 L701.5 260.13 L702.0 260.13 L702.5 260.13 L703.0 260.14 L703.5 260.14 L704.0 260.14 L704.5 260.14 L705.0 260.14 L705.5 260.14 L706.0 260.14 L706.5 260.14 L707.0 260.14 L707.5 260.14 L708.0 260.14 L708.5 260.14 L709.0 260.14 L709.5 260.14 L710.0 260.14 L710.5 260.14 L711.0 260.14 L711.5 260.14 L712.0 260.14 L712.5 260.14 L713.0 260.14 L713.5 260.14 L714.0 260.14 L714.5 260.14 L715.0 260.14 L715.5 260.14 L716.0 260.14 L716.5 260.14 L717.0 260.14 L717.5 260.14 L718.0 260.14 L718.5 260.14 L719.0 260.14 L719.5 260.14 L720.0 260.14 L720.5 260.14 L721.0 260.14 L721.5 260.14 L722.0 260.14 L722.5 260.14 L723.0 260.15 L723.5 260.15 L724.0 260.15 L724.5 260.15 L725.0 260.15 L725.5 260.15 L726.0 260.15 L726.5 260.15 L727.0 260.15 L727.5 260.15 L728.0 260.15 L728.5 260.15 L729.0 260.15 L729.5 260.15 L730.0 260.15 L730.5 260.15 L731.0 260.15 L731.5 260.15 L732.0 260.15 L732.5 260.15 L733.0 260.15 L733.5 260.15 L734.0 260.15 L734.5 260.15 L735.0 260.15 L735.5 260.15 L736.0 260.15 L736.5 260.15 L737.0 260.15 L737.5 260.15 L738.0 260.15 L738.5 260.15 L739.0 260.15 L739.5 260.15 L740.0 260.15 L740.5 260.15 L741.0 260.15 L741.5 260.15 L742.0 260.15 L742.5 260.15 L743.0 260.15 L743.5 260.15 L744.0 260.15 L744.5 260.15 L745.0 260.15 L745.5 260.15 L746.0 260.15 L746.5 260.15 L747.0 260.15 L747.5 260.15 L748.0 260.15 L748.5 260.15 L749.0 260.15 L749.5 260.15 L750.0 260.15 L750.5 260.15 L751.0 260.15 L751.5 260.15 L752.0 260.15 L752.5 260.15 L753.0 260.15 L753.5 260.15 L754.0 260.15 L754.5 260.15 L755.0 260.15 L755.5 260.15 L756.0 260.15 L756.5 260.15 L757.0 260.15 L757.5 260.15 L758.0 260.15 L758.5 260.14 L759.0 260.14 L759.5 260.14 L760.0 260.14 L760.5 260.14 L761.0 260.14 L761.5 260.14 L762.0 260.14 L762.5 260.14 L763.0 260.14 L763.5 260.14 L764.0 260.14 L764.5 260.14 L765.0 260.14 L765.5 260.14 L766.0 260.14 L766.5 260.14 L767.0 260.14 L767.5 260.14 L768.0 260.14 L768.5 260.14 L769.0 260.14 L769.5 260.14 L770.0 260.14 L770.5 260.14 L771.0 260.14 L771.5 260.14 L772.0 260.14 L772.5 260.13 L773.0 260.13 L773.5 260.13 L774.0 260.13 L774.5 260.13 L775.0 260.13 L775.5 260.13 L776.0 260.13 L776.5 260.13 L777.0 260.13 L777.5 260.13 L778.0 260.13 L778.5 260.13 L779.0 260.12 L779.5 260.12 L780.0 260.12 L780.5 260.12 L781.0 260.12 L781.5 260.12 L782.0 260.12 L782.5 260.12 L783.0 260.12 L783.5 260.11 L784.0 260.11 L784.5 260.11 L785.0 260.11 L785.5 260.11 L786.0 260.11 L786.5 260.10 L787.0 260.10 L787.5 260.10 L788.0 260.10 L788.5 260.09 L789.0 260.09 L789.5 260.09 L790.0 260.09 L790.5 260.08 L791.0 260.08 L791.5 260.08 L792.0 260.07 L792.5 260.07 L793.0 260.06 L793.5 260.06 L794.0 260.05 L794.5 260.05 L795.0 260.04 L795.5 260.03 L796.0 260.03 L796.5 260.02 L797.0 260.01 L797.5 260.00 L798.0 259.99 L798.5 259.98 L799.0 259.97 L799.5 259.96 L800.0 259.94 L800.5 259.93 L801.0 259.91 L801.5 259.89 L802.0 259.87 L802.5 259.84 L803.0 259.82 L803.5 259.78 L804.0 259.75 L804.5 259.70 L805.0 259.65 L805.5 259.60 L806.0 259.53 L806.5 259.45 L807.0 259.35 L807.5 259.23 L808.0 259.08 L808.5 258.89 L809.0 258.65 L809.5 258.33 L810.0 257.91 L810.5 257.33 L811.0 256.50 L811.5 255.27 L812.0 253.35 L812.5 250.22 L813.0 244.90 L813.5 236.25 L814.0 226.13 L814.5 224.77 L815.0 234.14 L815.5 243.46 L816.0 249.37 L816.5 252.85 L817.0 254.95 L817.5 256.29 L818.0 257.19 L818.5 257.81 L819.0 258.26 L819.5 258.59 L820.0 258.84 L820.5 259.04 L821.0 259.20 L821.5 259.32 L822.0 259.42 L822.5 259.51 L823.0 259.58 L823.5 259.64 L824.0 259.69 L824.5 259.73 L825.0 259.77 L825.5 259.81 L826.0 259.83 L826.5 259.86 L827.0 259.88 L827.5 259.90 L828.0 259.92 L828.5 259.94 L829.0 259.95 L829.5 259.96 L830.0 259.98 L830.5 259.99 L831.0 260.00 L831.5 260.00 L832.0 260.01 L832.5 260.02 L833.0 260.03 L833.5 260.03 L834.0 260.04 L834.5 260.04 L835.0 260.05 L835.5 260.05 L836.0 260.06 L836.5 260.06 L837.0 260.07 L837.5 260.07 L838.0 260.07 L838.5 260.08 L839.0 260.08 L839.5 260.08 L840.0 260.08 L840.5 260.09 L841.0 260.09 L841.5 260.09 L842.0 260.09 L842.5 260.09 L843.0 260.10 L843.5 260.10 L844.0 260.10 L844.5 260.10 L845.0 260.10 L845.5 260.10 L846.0 260.10 L846.5 260.11 L847.0 260.11 L847.5 260.11 L848.0 260.11 L848.5 260.11 L849.0 260.11 L849.5 260.11 L850.0 260.11 L850.5 260.11 L851.0 260.11 L851.5 260.11 L852.0 260.12 L852.5 260.12 L853.0 260.12 L853.5 260.12 L854.0 260.12 L854.5 260.12 L855.0 260.12 L855.5 260.12 L856.0 260.12 L856.5 260.12 L857.0 260.12 L857.5 260.12 L858.0 260.12 L858.5 260.12 L859.0 260.12 L859.5 260.12 L860.0 260.12 L860.5 260.12 L861.0 260.12 L861.5 260.12 L862.0 260.12 L862.5 260.12 L863.0 260.12 L863.5 260.12 L864.0 260.12 L864.5 260.12 L865.0 260.12 L865.5 260.12 L866.0 260.12 L866.5 260.12 L867.0 260.12 L867.5 260.12 L868.0 260.12 L868.5 260.12 L869.0 260.12 L869.5 260.12 L870.0 260.12 L870.5 260.12 L871.0 260.12 L871.5 260.12 L872.0 260.12 L872.5 260.12 L873.0 260.12 L873.5 260.12 L874.0 260.12 L874.5 260.12 L875.0 260.12 L875.5 260.12 L876.0 260.12 L876.5 260.12 L877.0 260.12 L877.5 260.12 L878.0 260.12 L878.5 260.12 L879.0 260.12 L879.5 260.12 L880.0 260.12 L880.5 260.12 L881.0 260.12 L881.5 260.12 L882.0 260.12 L882.5 260.12 L883.0 260.12 L883.5 260.12 L884.0 260.12 L884.5 260.12 L885.0 260.12 L885.5 260.12 L886.0 260.12 L886.5 260.12 L887.0 260.12 L887.5 260.11 L888.0 260.11 L888.5 260.11 L889.0 260.11 L889.5 260.11 L890.0 260.11 L890.5 260.11 L891.0 260.11 L891.5 260.11 L892.0 260.11 L892.5 260.11 L893.0 260.11 L893.5 260.11 L894.0 260.11 L894.5 260.11 L895.0 260.11 L895.5 260.11 L896.0 260.11 L896.5 260.11 L897.0 260.11 L897.5 260.11 L898.0 260.11 L898.5 260.10 L899.0 260.10 L899.5 260.10 L900.0 260.10 L900.5 260.10 L901.0 260.10 L901.5 260.10 L902.0 260.10 L902.5 260.10 L903.0 260.10 L903.5 260.10 L904.0 260.10 L904.5 260.10 L905.0 260.10 L905.5 260.10 L906.0 260.10 L906.5 260.10 L907.0 260.09 L907.5 260.09 L908.0 260.09 L908.5 260.09 L909.0 260.09 L909.5 260.09 L910.0 260.09 L910.5 260.09 L911.0 260.09 L911.5 260.09 L912.0 260.09 L912.5 260.09 L913.0 260.09 L913.5 260.08 L914.0 260.08 L914.5 260.08 L915.0 260.08 L915.5 260.08 L916.0 260.08 L916.5 260.08 L917.0 260.08 L917.5 260.08 L918.0 260.08 L918.5 260.08 L919.0 260.07 L919.5 260.07 L920.0 260.07 L920.5 260.07 L921.0 260.07 L921.5 260.07 L922.0 260.07 L922.5 260.07 L923.0 260.07 L923.5 260.06 L924.0 260.06 L924.5 260.06 L925.0 260.06 L925.5 260.06 L926.0 260.06 L926.5 260.06 L927.0 260.06 L927.5 260.06 L928.0 260.05 L928.5 260.05 L929.0 260.05 L929.5 260.05 L930.0 260.05 L930.5 260.05 L931.0 260.05 L931.5 260.04 L932.0 260.04 L932.5 260.04 L933.0 260.04 L933.5 260.04 L934.0 260.04 L934.5 260.04 L935.0 260.03 L935.5 260.03 L936.0 260.03 L936.5 260.03 L937.0 260.03 L937.5 260.02 L938.0 260.02 L938.5 260.02 L939.0 260.02 L939.5 260.02 L940.0 260.02 L940.5 260.01 L941.0 260.01 L941.5 260.01 L942.0 260.01 L942.5 260.01 L943.0 260.00 L943.5 260.00 L944.0 260.00 L944.5 260.00 L945.0 259.99 L945.5 259.99 L946.0 259.99 L946.5 259.99 L947.0 259.98 L947.5 259.98 L948.0 259.98 L948.5 259.98 L949.0 259.97 L949.5 259.97 L950.0 259.97 L950.5 259.97 L951.0 259.96 L951.5 259.96 L952.0 259.96 L952.5 259.95 L953.0 259.95 L953.5 259.95 L954.0 259.95 L954.5 259.94 L955.0 259.94 L955.5 259.94 L956.0 259.93 L956.5 259.93 L957.0 259.92 L957.5 259.92 L958.0 259.92 L958.5 259.91 L959.0 259.91 L959.5 259.90 L960.0 259.90 L960.5 259.90 L961.0 259.89 L961.5 259.89 L962.0 259.88 L962.5 259.88 L963.0 259.87 L963.5 259.87 L964.0 259.86 L964.5 259.86 L965.0 259.85 L965.5 259.85 L966.0 259.84 L966.5 259.84 L967.0 259.83 L967.5 259.83 L968.0 259.82 L968.5 259.81 L969.0 259.81 L969.5 259.80 L970.0 259.79 L970.5 259.79 L971.0 259.78 L971.5 259.77 L972.0 259.77 L972.5 259.76 L973.0 259.75 L973.5 259.74 L974.0 259.73 L974.5 259.73 L975.0 259.72 L975.5 259.71 L976.0 259.70 L976.5 259.69 L977.0 259.68 L977.5 259.67 L978.0 259.66 L978.5 259.65 L979.0 259.64 L979.5 259.63 L980.0 259.62 L980.5 259.60 L981.0 259.59 L981.5 259.58 L982.0 259.57 L982.5 259.55 L983.0 259.54 L983.5 259.52 L984.0 259.51 L984.5 259.49 L985.0 259.48 L985.5 259.46 L986.0 259.44 L986.5 259.43 L987.0 259.41 L987.5 259.39 L988.0 259.37 L988.5 259.35 L989.0 259.33 L989.5 259.31 L990.0 259.28 L990.5 259.26 L991.0 259.23 L991.5 259.21 L992.0 259.18 L992.5 259.15 L993.0 259.12 L993.5 259.09 L994.0 259.06 L994.5 259.03 L995.0 258.99 L995.5 258.96 L996.0 258.92 L996.5 258.88 L997.0 258.83 L997.5 258.79 L998.0 258.74 L998.5 258.69 L999.0 258.64 L999.5 258.59 L1000.0 258.53 L1000.5 258.47 L1001.0 258.40 L1001.5 258.34 L1002.0 258.26 L1002.5 258.19 L1003.0 258.10 L1003.5 258.02 L1004.0 257.92 L1004.5 257.82 L1005.0 257.71 L1005.5 257.60 L1006.0 257.47 L1006.5 257.34 L1007.0 257.19 L1007.5 257.03 L1008.0 256.86 L1008.5 256.67 L1009.0 256.46 L1009.5 256.23 L1010.0 255.98 L1010.5 255.70 L1011.0 255.39 L1011.5 255.04 L1012.0 254.64 L1012.5 254.19 L1013.0 253.67 L1013.5 253.08 L1014.0 252.39 L1014.5 251.57 L1015.0 250.61 L1015.5 249.46 L1016.0 248.07 L1016.5 246.36 L1017.0 244.23 L1017.5 241.54 L1018.0 238.11 L1018.5 233.69 L1019.0 227.93 L1019.5 220.49 L1020.0 211.13 L1020.5 200.17 L1021.0 189.22 L1021.5 181.58 L1022.0 180.66 L1022.5 186.89 L1023.0 197.19 L1023.5 208.04 L1024.0 217.47 L1024.5 224.99 L1025.0 230.75 L1025.5 235.11 L1026.0 238.41 L1026.5 240.91 L1027.0 242.82 L1027.5 244.28 L1028.0 245.38 L1028.5 246.21 L1029.0 246.82 L1029.5 247.23 L1030.0 247.48 L1030.5 247.57 L1031.0 247.52 L1031.5 247.30 L1032.0 246.91 L1032.5 246.32 L1033.0 245.49 L1033.5 244.35 L1034.0 242.83 L1034.5 240.80 L1035.0 238.07 L1035.5 234.39 L1036.0 229.36 L1036.5 222.45 L1037.0 212.97 L1037.5 200.24 L1038.0 184.35 L1038.5 167.83 L1039.0 157.04 L1039.5 158.54 L1040.0 171.39 L1040.5 188.47 L1041.0 204.12 L1041.5 216.46 L1042.0 225.67 L1042.5 232.46 L1043.0 237.49 L1043.5 241.28 L1044.0 244.18 L1044.5 246.45 L1045.0 248.24 L1045.5 249.68 L1046.0 250.86 L1046.5 251.84 L1047.0 252.66 L1047.5 253.35 L1048.0 253.95 L1048.5 254.46 L1049.0 254.90 L1049.5 255.29 L1050.0 255.64 L1050.5 255.94 L1051.0 256.21 L1051.5 256.46 L1052.0 256.68 L1052.5 256.88 L1053.0 257.06 L1053.5 257.22 L1054.0 257.37 L1054.5 257.51 L1055.0 257.64 L1055.5 257.76 L1056.0 257.87 L1056.5 257.97 L1057.0 258.07 L1057.5 258.15 L1058.0 258.24 L1058.5 258.31 L1059.0 258.39 L1059.5 258.45 L1060.0 258.52 L1060.5 258.58 L1061.0 258.64 L1061.5 258.69 L1062.0 258.74 L1062.5 258.79 L1063.0 258.83 L1063.5 258.88 L1064.0 258.92 L1064.5 258.96 L1065.0 259.00 L1065.5 259.03 L1066.0 259.07 L1066.5 259.10 L1067.0 259.13 L1067.5 259.16 L1068.0 259.19 L1068.5 259.22 L1069.0 259.24 L1069.5 259.27 L1070.0 259.29 L1070.5 259.31 L1071.0 259.34 L1071.5 259.36 L1072.0 259.38 L1072.5 259.40 L1073.0 259.42 L1073.5 259.44 L1074.0 259.45 L1074.5 259.47 L1075.0 259.49 L1075.5 259.50 L1076.0 259.52 L1076.5 259.53 L1077.0 259.55 L1077.5 259.56 L1078.0 259.58 L1078.5 259.59 L1079.0 259.60 L1079.5 259.61 L1080.0 259.62 L1080.5 259.64 L1081.0 259.65 L1081.5 259.66 L1082.0 259.67 L1082.5 259.68 L1083.0 259.69 L1083.5 259.70 L1084.0 259.71 L1084.5 259.72 L1085.0 259.73 L1085.5 259.73 L1086.0 259.74 L1086.5 259.75 L1087.0 259.76 L1087.5 259.77 L1088.0 259.77 L1088.5 259.78 L1089.0 259.79 L1089.5 259.80 L1090.0 259.80 L1090.5 259.81 L1091.0 259.81 L1091.5 259.82 L1092.0 259.83 L1092.5 259.83 L1093.0 259.84 L1093.5 259.84 L1094.0 259.85 L1094.5 259.86 L1095.0 259.86 L1095.5 259.87 L1096.0 259.87 L1096.5 259.88 L1097.0 259.88 L1097.5 259.89 L1098.0 259.89 L1098.5 259.89 L1099.0 259.90 L1099.5 259.90 L1100.0 259.91 L1100.5 259.91 L1101.0 259.92 L1101.5 259.92 L1102.0 259.92 L1102.5 259.93 L1103.0 259.93 L1103.5 259.93 L1104.0 259.94 L1104.5 259.94 L1105.0 259.95 L1105.5 259.95 L1106.0 259.95 L1106.5 259.96 L1107.0 259.96 L1107.5 259.96 L1108.0 259.96 L1108.5 259.97 L1109.0 259.97 L1109.5 259.97 L1110.0 259.98 L1110.5 259.98 L1111.0 259.98 L1111.5 259.98 L1112.0 259.99 L1112.5 259.99 L1113.0 259.99 L1113.5 259.99 L1114.0 260.00 L1114.5 260.00 L1115.0 260.00 L1115.5 260.00 L1116.0 260.01 L1116.5 260.01 L1117.0 260.01 L1117.5 260.01 L1118.0 260.01 L1118.5 260.02 L1119.0 260.02 L1119.5 260.02 L1120.0 260.02 L1120.5 260.02 L1121.0 260.03 L1121.5 260.03 L1122.0 260.03 L1122.5 260.03 L1123.0 260.03 L1123.5 260.04 L1124.0 260.04 L1124.5 260.04 L1125.0 260.04 L1125.5 260.04 L1126.0 260.04 L1126.5 260.05 L1127.0 260.05 L1127.5 260.05 L1128.0 260.05 L1128.5 260.05 L1129.0 260.05 L1129.5 260.05 L1130.0 260.06 L1130.5 260.06 L1131.0 260.06" fill="none" stroke="#2d7f76" stroke-width="1.45" stroke-linejoin="round"/>
<text x="431.9" y="224.7" style="font-family:'Liberation Sans', sans-serif;font-size:17.8px" fill="#2a7a70">330 min</text>
<path d="M433.0 316.53 L433.5 316.53 L434.0 316.53 L434.5 316.53 L435.0 316.52 L435.5 316.52 L436.0 316.52 L436.5 316.52 L437.0 316.52 L437.5 316.52 L438.0 316.52 L438.5 316.52 L439.0 316.52 L439.5 316.52 L440.0 316.52 L440.5 316.52 L441.0 316.52 L441.5 316.52 L442.0 316.52 L442.5 316.52 L443.0 316.52 L443.5 316.52 L444.0 316.52 L444.5 316.51 L445.0 316.51 L445.5 316.51 L446.0 316.51 L446.5 316.51 L447.0 316.51 L447.5 316.51 L448.0 316.51 L448.5 316.51 L449.0 316.51 L449.5 316.51 L450.0 316.51 L450.5 316.51 L451.0 316.51 L451.5 316.51 L452.0 316.50 L452.5 316.50 L453.0 316.50 L453.5 316.50 L454.0 316.50 L454.5 316.50 L455.0 316.50 L455.5 316.50 L456.0 316.50 L456.5 316.50 L457.0 316.50 L457.5 316.50 L458.0 316.50 L458.5 316.49 L459.0 316.49 L459.5 316.49 L460.0 316.49 L460.5 316.49 L461.0 316.49 L461.5 316.49 L462.0 316.49 L462.5 316.49 L463.0 316.49 L463.5 316.49 L464.0 316.48 L464.5 316.48 L465.0 316.48 L465.5 316.48 L466.0 316.48 L466.5 316.48 L467.0 316.48 L467.5 316.48 L468.0 316.48 L468.5 316.47 L469.0 316.47 L469.5 316.47 L470.0 316.47 L470.5 316.47 L471.0 316.47 L471.5 316.47 L472.0 316.47 L472.5 316.47 L473.0 316.46 L473.5 316.46 L474.0 316.46 L474.5 316.46 L475.0 316.46 L475.5 316.46 L476.0 316.46 L476.5 316.45 L477.0 316.45 L477.5 316.45 L478.0 316.45 L478.5 316.45 L479.0 316.45 L479.5 316.44 L480.0 316.44 L480.5 316.44 L481.0 316.44 L481.5 316.44 L482.0 316.44 L482.5 316.43 L483.0 316.43 L483.5 316.43 L484.0 316.43 L484.5 316.43 L485.0 316.42 L485.5 316.42 L486.0 316.42 L486.5 316.42 L487.0 316.42 L487.5 316.41 L488.0 316.41 L488.5 316.41 L489.0 316.41 L489.5 316.40 L490.0 316.40 L490.5 316.40 L491.0 316.39 L491.5 316.39 L492.0 316.39 L492.5 316.39 L493.0 316.38 L493.5 316.38 L494.0 316.38 L494.5 316.37 L495.0 316.37 L495.5 316.37 L496.0 316.36 L496.5 316.36 L497.0 316.36 L497.5 316.35 L498.0 316.35 L498.5 316.34 L499.0 316.34 L499.5 316.34 L500.0 316.33 L500.5 316.33 L501.0 316.32 L501.5 316.32 L502.0 316.31 L502.5 316.31 L503.0 316.30 L503.5 316.29 L504.0 316.29 L504.5 316.28 L505.0 316.28 L505.5 316.27 L506.0 316.26 L506.5 316.26 L507.0 316.25 L507.5 316.24 L508.0 316.23 L508.5 316.22 L509.0 316.21 L509.5 316.21 L510.0 316.20 L510.5 316.19 L511.0 316.17 L511.5 316.16 L512.0 316.15 L512.5 316.14 L513.0 316.13 L513.5 316.11 L514.0 316.10 L514.5 316.08 L515.0 316.06 L515.5 316.05 L516.0 316.03 L516.5 316.01 L517.0 315.99 L517.5 315.96 L518.0 315.94 L518.5 315.91 L519.0 315.88 L519.5 315.85 L520.0 315.82 L520.5 315.78 L521.0 315.74 L521.5 315.70 L522.0 315.65 L522.5 315.59 L523.0 315.54 L523.5 315.47 L524.0 315.40 L524.5 315.32 L525.0 315.23 L525.5 315.13 L526.0 315.01 L526.5 314.88 L527.0 314.72 L527.5 314.55 L528.0 314.34 L528.5 314.10 L529.0 313.82 L529.5 313.48 L530.0 313.08 L530.5 312.58 L531.0 311.97 L531.5 311.22 L532.0 310.28 L532.5 309.09 L533.0 307.59 L533.5 305.70 L534.0 303.37 L534.5 300.63 L535.0 297.68 L535.5 295.07 L536.0 293.55 L536.5 293.72 L537.0 295.50 L537.5 298.22 L538.0 301.14 L538.5 303.80 L539.0 306.02 L539.5 307.81 L540.0 309.22 L540.5 310.33 L541.0 311.21 L541.5 311.91 L542.0 312.47 L542.5 312.92 L543.0 313.28 L543.5 313.58 L544.0 313.82 L544.5 314.01 L545.0 314.17 L545.5 314.28 L546.0 314.37 L546.5 314.41 L547.0 314.41 L547.5 314.36 L548.0 314.23 L548.5 314.00 L549.0 313.63 L549.5 313.12 L550.0 312.68 L550.5 312.66 L551.0 313.11 L551.5 313.70 L552.0 314.17 L552.5 314.51 L553.0 314.74 L553.5 314.89 L554.0 315.01 L554.5 315.08 L555.0 315.14 L555.5 315.18 L556.0 315.21 L556.5 315.23 L557.0 315.25 L557.5 315.26 L558.0 315.26 L558.5 315.26 L559.0 315.25 L559.5 315.25 L560.0 315.23 L560.5 315.22 L561.0 315.21 L561.5 315.19 L562.0 315.17 L562.5 315.14 L563.0 315.12 L563.5 315.09 L564.0 315.06 L564.5 315.02 L565.0 314.99 L565.5 314.95 L566.0 314.91 L566.5 314.87 L567.0 314.82 L567.5 314.77 L568.0 314.72 L568.5 314.66 L569.0 314.60 L569.5 314.53 L570.0 314.46 L570.5 314.39 L571.0 314.31 L571.5 314.23 L572.0 314.14 L572.5 314.04 L573.0 313.94 L573.5 313.83 L574.0 313.71 L574.5 313.58 L575.0 313.44 L575.5 313.29 L576.0 313.13 L576.5 312.95 L577.0 312.76 L577.5 312.55 L578.0 312.33 L578.5 312.07 L579.0 311.80 L579.5 311.49 L580.0 311.15 L580.5 310.77 L581.0 310.34 L581.5 309.86 L582.0 309.31 L582.5 308.68 L583.0 307.96 L583.5 307.12 L584.0 306.13 L584.5 304.96 L585.0 303.57 L585.5 301.88 L586.0 299.82 L586.5 297.29 L587.0 294.15 L587.5 290.27 L588.0 285.51 L588.5 279.83 L589.0 273.48 L589.5 267.17 L590.0 262.21 L590.5 260.10 L591.0 261.51 L591.5 265.76 L592.0 271.35 L592.5 276.95 L593.0 281.85 L593.5 285.78 L594.0 288.78 L594.5 290.94 L595.0 292.38 L595.5 293.20 L596.0 293.44 L596.5 293.12 L597.0 292.19 L597.5 290.59 L598.0 288.18 L598.5 284.80 L599.0 280.28 L599.5 274.53 L600.0 267.83 L600.5 261.13 L601.0 256.28 L601.5 255.27 L602.0 258.73 L602.5 265.32 L603.0 272.95 L603.5 280.11 L604.0 286.18 L604.5 291.10 L605.0 295.00 L605.5 298.09 L606.0 300.55 L606.5 302.54 L607.0 304.16 L607.5 305.49 L608.0 306.60 L608.5 307.54 L609.0 308.34 L609.5 309.03 L610.0 309.62 L610.5 310.15 L611.0 310.60 L611.5 311.01 L612.0 311.38 L612.5 311.70 L613.0 312.00 L613.5 312.26 L614.0 312.51 L614.5 312.73 L615.0 312.93 L615.5 313.12 L616.0 313.29 L616.5 313.45 L617.0 313.59 L617.5 313.73 L618.0 313.85 L618.5 313.97 L619.0 314.08 L619.5 314.19 L620.0 314.28 L620.5 314.37 L621.0 314.46 L621.5 314.54 L622.0 314.62 L622.5 314.69 L623.0 314.76 L623.5 314.82 L624.0 314.88 L624.5 314.94 L625.0 314.99 L625.5 315.04 L626.0 315.09 L626.5 315.14 L627.0 315.19 L627.5 315.23 L628.0 315.27 L628.5 315.31 L629.0 315.34 L629.5 315.38 L630.0 315.41 L630.5 315.45 L631.0 315.48 L631.5 315.51 L632.0 315.54 L632.5 315.56 L633.0 315.59 L633.5 315.62 L634.0 315.64 L634.5 315.66 L635.0 315.69 L635.5 315.71 L636.0 315.73 L636.5 315.75 L637.0 315.77 L637.5 315.79 L638.0 315.81 L638.5 315.82 L639.0 315.84 L639.5 315.86 L640.0 315.87 L640.5 315.89 L641.0 315.90 L641.5 315.92 L642.0 315.93 L642.5 315.95 L643.0 315.96 L643.5 315.97 L644.0 315.98 L644.5 316.00 L645.0 316.01 L645.5 316.02 L646.0 316.03 L646.5 316.04 L647.0 316.05 L647.5 316.06 L648.0 316.07 L648.5 316.08 L649.0 316.09 L649.5 316.10 L650.0 316.11 L650.5 316.11 L651.0 316.12 L651.5 316.13 L652.0 316.14 L652.5 316.14 L653.0 316.15 L653.5 316.16 L654.0 316.17 L654.5 316.17 L655.0 316.18 L655.5 316.19 L656.0 316.19 L656.5 316.20 L657.0 316.20 L657.5 316.21 L658.0 316.22 L658.5 316.22 L659.0 316.23 L659.5 316.23 L660.0 316.24 L660.5 316.24 L661.0 316.25 L661.5 316.25 L662.0 316.26 L662.5 316.26 L663.0 316.27 L663.5 316.27 L664.0 316.28 L664.5 316.28 L665.0 316.28 L665.5 316.29 L666.0 316.29 L666.5 316.30 L667.0 316.30 L667.5 316.30 L668.0 316.31 L668.5 316.31 L669.0 316.31 L669.5 316.32 L670.0 316.32 L670.5 316.32 L671.0 316.33 L671.5 316.33 L672.0 316.33 L672.5 316.34 L673.0 316.34 L673.5 316.34 L674.0 316.35 L674.5 316.35 L675.0 316.35 L675.5 316.35 L676.0 316.36 L676.5 316.36 L677.0 316.36 L677.5 316.36 L678.0 316.37 L678.5 316.37 L679.0 316.37 L679.5 316.37 L680.0 316.38 L680.5 316.38 L681.0 316.38 L681.5 316.38 L682.0 316.38 L682.5 316.39 L683.0 316.39 L683.5 316.39 L684.0 316.39 L684.5 316.39 L685.0 316.40 L685.5 316.40 L686.0 316.40 L686.5 316.40 L687.0 316.40 L687.5 316.40 L688.0 316.41 L688.5 316.41 L689.0 316.41 L689.5 316.41 L690.0 316.41 L690.5 316.41 L691.0 316.42 L691.5 316.42 L692.0 316.42 L692.5 316.42 L693.0 316.42 L693.5 316.42 L694.0 316.42 L694.5 316.43 L695.0 316.43 L695.5 316.43 L696.0 316.43 L696.5 316.43 L697.0 316.43 L697.5 316.43 L698.0 316.44 L698.5 316.44 L699.0 316.44 L699.5 316.44 L700.0 316.44 L700.5 316.44 L701.0 316.44 L701.5 316.44 L702.0 316.44 L702.5 316.45 L703.0 316.45 L703.5 316.45 L704.0 316.45 L704.5 316.45 L705.0 316.45 L705.5 316.45 L706.0 316.45 L706.5 316.45 L707.0 316.45 L707.5 316.46 L708.0 316.46 L708.5 316.46 L709.0 316.46 L709.5 316.46 L710.0 316.46 L710.5 316.46 L711.0 316.46 L711.5 316.46 L712.0 316.46 L712.5 316.46 L713.0 316.46 L713.5 316.46 L714.0 316.47 L714.5 316.47 L715.0 316.47 L715.5 316.47 L716.0 316.47 L716.5 316.47 L717.0 316.47 L717.5 316.47 L718.0 316.47 L718.5 316.47 L719.0 316.47 L719.5 316.47 L720.0 316.47 L720.5 316.47 L721.0 316.47 L721.5 316.47 L722.0 316.48 L722.5 316.48 L723.0 316.48 L723.5 316.48 L724.0 316.48 L724.5 316.48 L725.0 316.48 L725.5 316.48 L726.0 316.48 L726.5 316.48 L727.0 316.48 L727.5 316.48 L728.0 316.48 L728.5 316.48 L729.0 316.48 L729.5 316.48 L730.0 316.48 L730.5 316.48 L731.0 316.48 L731.5 316.48 L732.0 316.48 L732.5 316.48 L733.0 316.49 L733.5 316.49 L734.0 316.49 L734.5 316.49 L735.0 316.49 L735.5 316.49 L736.0 316.49 L736.5 316.49 L737.0 316.49 L737.5 316.49 L738.0 316.49 L738.5 316.49 L739.0 316.49 L739.5 316.49 L740.0 316.49 L740.5 316.49 L741.0 316.49 L741.5 316.49 L742.0 316.49 L742.5 316.49 L743.0 316.49 L743.5 316.49 L744.0 316.49 L744.5 316.49 L745.0 316.49 L745.5 316.49 L746.0 316.49 L746.5 316.49 L747.0 316.49 L747.5 316.49 L748.0 316.49 L748.5 316.49 L749.0 316.49 L749.5 316.49 L750.0 316.49 L750.5 316.49 L751.0 316.49 L751.5 316.49 L752.0 316.49 L752.5 316.49 L753.0 316.49 L753.5 316.49 L754.0 316.49 L754.5 316.49 L755.0 316.49 L755.5 316.49 L756.0 316.49 L756.5 316.49 L757.0 316.49 L757.5 316.49 L758.0 316.49 L758.5 316.49 L759.0 316.49 L759.5 316.49 L760.0 316.49 L760.5 316.49 L761.0 316.49 L761.5 316.49 L762.0 316.49 L762.5 316.49 L763.0 316.49 L763.5 316.49 L764.0 316.49 L764.5 316.49 L765.0 316.49 L765.5 316.49 L766.0 316.49 L766.5 316.49 L767.0 316.49 L767.5 316.49 L768.0 316.49 L768.5 316.49 L769.0 316.49 L769.5 316.49 L770.0 316.49 L770.5 316.48 L771.0 316.48 L771.5 316.48 L772.0 316.48 L772.5 316.48 L773.0 316.48 L773.5 316.48 L774.0 316.48 L774.5 316.48 L775.0 316.48 L775.5 316.48 L776.0 316.48 L776.5 316.48 L777.0 316.48 L777.5 316.47 L778.0 316.47 L778.5 316.47 L779.0 316.47 L779.5 316.47 L780.0 316.47 L780.5 316.47 L781.0 316.47 L781.5 316.46 L782.0 316.46 L782.5 316.46 L783.0 316.46 L783.5 316.46 L784.0 316.46 L784.5 316.45 L785.0 316.45 L785.5 316.45 L786.0 316.45 L786.5 316.44 L787.0 316.44 L787.5 316.44 L788.0 316.44 L788.5 316.43 L789.0 316.43 L789.5 316.43 L790.0 316.42 L790.5 316.42 L791.0 316.42 L791.5 316.41 L792.0 316.41 L792.5 316.40 L793.0 316.40 L793.5 316.39 L794.0 316.38 L794.5 316.38 L795.0 316.37 L795.5 316.36 L796.0 316.35 L796.5 316.34 L797.0 316.33 L797.5 316.32 L798.0 316.31 L798.5 316.30 L799.0 316.28 L799.5 316.27 L800.0 316.25 L800.5 316.23 L801.0 316.21 L801.5 316.18 L802.0 316.16 L802.5 316.12 L803.0 316.09 L803.5 316.05 L804.0 316.00 L804.5 315.95 L805.0 315.89 L805.5 315.82 L806.0 315.73 L806.5 315.63 L807.0 315.51 L807.5 315.36 L808.0 315.18 L808.5 314.95 L809.0 314.66 L809.5 314.28 L810.0 313.79 L810.5 313.11 L811.0 312.17 L811.5 310.83 L812.0 308.86 L812.5 305.96 L813.0 301.81 L813.5 296.71 L814.0 292.82 L814.5 293.33 L815.0 297.74 L815.5 302.74 L816.0 306.63 L816.5 309.32 L817.0 311.14 L817.5 312.38 L818.0 313.26 L818.5 313.90 L819.0 314.37 L819.5 314.72 L820.0 315.00 L820.5 315.22 L821.0 315.39 L821.5 315.53 L822.0 315.65 L822.5 315.75 L823.0 315.83 L823.5 315.90 L824.0 315.96 L824.5 316.01 L825.0 316.05 L825.5 316.09 L826.0 316.13 L826.5 316.16 L827.0 316.18 L827.5 316.21 L828.0 316.23 L828.5 316.25 L829.0 316.26 L829.5 316.28 L830.0 316.29 L830.5 316.30 L831.0 316.32 L831.5 316.33 L832.0 316.34 L832.5 316.35 L833.0 316.35 L833.5 316.36 L834.0 316.37 L834.5 316.37 L835.0 316.38 L835.5 316.39 L836.0 316.39 L836.5 316.40 L837.0 316.40 L837.5 316.40 L838.0 316.41 L838.5 316.41 L839.0 316.42 L839.5 316.42 L840.0 316.42 L840.5 316.42 L841.0 316.43 L841.5 316.43 L842.0 316.43 L842.5 316.43 L843.0 316.44 L843.5 316.44 L844.0 316.44 L844.5 316.44 L845.0 316.44 L845.5 316.44 L846.0 316.45 L846.5 316.45 L847.0 316.45 L847.5 316.45 L848.0 316.45 L848.5 316.45 L849.0 316.45 L849.5 316.45 L850.0 316.45 L850.5 316.45 L851.0 316.46 L851.5 316.46 L852.0 316.46 L852.5 316.46 L853.0 316.46 L853.5 316.46 L854.0 316.46 L854.5 316.46 L855.0 316.46 L855.5 316.46 L856.0 316.46 L856.5 316.46 L857.0 316.46 L857.5 316.46 L858.0 316.46 L858.5 316.46 L859.0 316.46 L859.5 316.46 L860.0 316.46 L860.5 316.46 L861.0 316.46 L861.5 316.46 L862.0 316.46 L862.5 316.46 L863.0 316.46 L863.5 316.46 L864.0 316.46 L864.5 316.46 L865.0 316.46 L865.5 316.46 L866.0 316.46 L866.5 316.46 L867.0 316.46 L867.5 316.46 L868.0 316.46 L868.5 316.46 L869.0 316.46 L869.5 316.46 L870.0 316.46 L870.5 316.46 L871.0 316.46 L871.5 316.46 L872.0 316.46 L872.5 316.46 L873.0 316.46 L873.5 316.46 L874.0 316.46 L874.5 316.46 L875.0 316.46 L875.5 316.46 L876.0 316.46 L876.5 316.46 L877.0 316.46 L877.5 316.46 L878.0 316.45 L878.5 316.45 L879.0 316.45 L879.5 316.45 L880.0 316.45 L880.5 316.45 L881.0 316.45 L881.5 316.45 L882.0 316.45 L882.5 316.45 L883.0 316.45 L883.5 316.45 L884.0 316.45 L884.5 316.45 L885.0 316.45 L885.5 316.45 L886.0 316.45 L886.5 316.44 L887.0 316.44 L887.5 316.44 L888.0 316.44 L888.5 316.44 L889.0 316.44 L889.5 316.44 L890.0 316.44 L890.5 316.44 L891.0 316.44 L891.5 316.44 L892.0 316.44 L892.5 316.44 L893.0 316.44 L893.5 316.43 L894.0 316.43 L894.5 316.43 L895.0 316.43 L895.5 316.43 L896.0 316.43 L896.5 316.43 L897.0 316.43 L897.5 316.43 L898.0 316.43 L898.5 316.43 L899.0 316.42 L899.5 316.42 L900.0 316.42 L900.5 316.42 L901.0 316.42 L901.5 316.42 L902.0 316.42 L902.5 316.42 L903.0 316.42 L903.5 316.41 L904.0 316.41 L904.5 316.41 L905.0 316.41 L905.5 316.41 L906.0 316.41 L906.5 316.41 L907.0 316.41 L907.5 316.40 L908.0 316.40 L908.5 316.40 L909.0 316.40 L909.5 316.40 L910.0 316.40 L910.5 316.40 L911.0 316.39 L911.5 316.39 L912.0 316.39 L912.5 316.39 L913.0 316.39 L913.5 316.39 L914.0 316.39 L914.5 316.38 L915.0 316.38 L915.5 316.38 L916.0 316.38 L916.5 316.38 L917.0 316.38 L917.5 316.37 L918.0 316.37 L918.5 316.37 L919.0 316.37 L919.5 316.37 L920.0 316.37 L920.5 316.36 L921.0 316.36 L921.5 316.36 L922.0 316.36 L922.5 316.36 L923.0 316.35 L923.5 316.35 L924.0 316.35 L924.5 316.35 L925.0 316.35 L925.5 316.34 L926.0 316.34 L926.5 316.34 L927.0 316.34 L927.5 316.33 L928.0 316.33 L928.5 316.33 L929.0 316.33 L929.5 316.33 L930.0 316.32 L930.5 316.32 L931.0 316.32 L931.5 316.31 L932.0 316.31 L932.5 316.31 L933.0 316.31 L933.5 316.30 L934.0 316.30 L934.5 316.30 L935.0 316.30 L935.5 316.29 L936.0 316.29 L936.5 316.29 L937.0 316.28 L937.5 316.28 L938.0 316.28 L938.5 316.27 L939.0 316.27 L939.5 316.27 L940.0 316.26 L940.5 316.26 L941.0 316.26 L941.5 316.25 L942.0 316.25 L942.5 316.25 L943.0 316.24 L943.5 316.24 L944.0 316.23 L944.5 316.23 L945.0 316.23 L945.5 316.22 L946.0 316.22 L946.5 316.21 L947.0 316.21 L947.5 316.20 L948.0 316.20 L948.5 316.20 L949.0 316.19 L949.5 316.19 L950.0 316.18 L950.5 316.18 L951.0 316.17 L951.5 316.17 L952.0 316.16 L952.5 316.16 L953.0 316.15 L953.5 316.14 L954.0 316.14 L954.5 316.13 L955.0 316.13 L955.5 316.12 L956.0 316.11 L956.5 316.11 L957.0 316.10 L957.5 316.10 L958.0 316.09 L958.5 316.08 L959.0 316.08 L959.5 316.07 L960.0 316.06 L960.5 316.05 L961.0 316.05 L961.5 316.04 L962.0 316.03 L962.5 316.02 L963.0 316.01 L963.5 316.01 L964.0 316.00 L964.5 315.99 L965.0 315.98 L965.5 315.97 L966.0 315.96 L966.5 315.95 L967.0 315.94 L967.5 315.93 L968.0 315.92 L968.5 315.91 L969.0 315.90 L969.5 315.89 L970.0 315.88 L970.5 315.86 L971.0 315.85 L971.5 315.84 L972.0 315.83 L972.5 315.81 L973.0 315.80 L973.5 315.79 L974.0 315.77 L974.5 315.76 L975.0 315.74 L975.5 315.73 L976.0 315.71 L976.5 315.70 L977.0 315.68 L977.5 315.66 L978.0 315.65 L978.5 315.63 L979.0 315.61 L979.5 315.59 L980.0 315.57 L980.5 315.55 L981.0 315.53 L981.5 315.51 L982.0 315.49 L982.5 315.47 L983.0 315.44 L983.5 315.42 L984.0 315.39 L984.5 315.37 L985.0 315.34 L985.5 315.31 L986.0 315.28 L986.5 315.26 L987.0 315.22 L987.5 315.19 L988.0 315.16 L988.5 315.13 L989.0 315.09 L989.5 315.06 L990.0 315.02 L990.5 314.98 L991.0 314.94 L991.5 314.90 L992.0 314.85 L992.5 314.81 L993.0 314.76 L993.5 314.71 L994.0 314.66 L994.5 314.61 L995.0 314.55 L995.5 314.49 L996.0 314.43 L996.5 314.37 L997.0 314.30 L997.5 314.23 L998.0 314.16 L998.5 314.08 L999.0 314.00 L999.5 313.92 L1000.0 313.83 L1000.5 313.74 L1001.0 313.64 L1001.5 313.54 L1002.0 313.43 L1002.5 313.31 L1003.0 313.19 L1003.5 313.06 L1004.0 312.92 L1004.5 312.78 L1005.0 312.62 L1005.5 312.45 L1006.0 312.28 L1006.5 312.09 L1007.0 311.88 L1007.5 311.66 L1008.0 311.43 L1008.5 311.17 L1009.0 310.89 L1009.5 310.59 L1010.0 310.27 L1010.5 309.91 L1011.0 309.51 L1011.5 309.08 L1012.0 308.59 L1012.5 308.06 L1013.0 307.46 L1013.5 306.78 L1014.0 306.01 L1014.5 305.14 L1015.0 304.14 L1015.5 302.98 L1016.0 301.62 L1016.5 300.03 L1017.0 298.13 L1017.5 295.84 L1018.0 293.08 L1018.5 289.68 L1019.0 285.49 L1019.5 280.28 L1020.0 273.80 L1020.5 265.84 L1021.0 256.34 L1021.5 245.70 L1022.0 235.14 L1022.5 226.93 L1023.0 223.60 L1023.5 226.33 L1024.0 233.95 L1024.5 243.91 L1025.0 253.96 L1025.5 262.86 L1026.0 270.22 L1026.5 276.09 L1027.0 280.70 L1027.5 284.27 L1028.0 287.04 L1028.5 289.16 L1029.0 290.78 L1029.5 291.98 L1030.0 292.84 L1030.5 293.40 L1031.0 293.70 L1031.5 293.74 L1032.0 293.53 L1032.5 293.05 L1033.0 292.27 L1033.5 291.12 L1034.0 289.54 L1034.5 287.41 L1035.0 284.56 L1035.5 280.78 L1036.0 275.76 L1036.5 269.15 L1037.0 260.55 L1037.5 249.69 L1038.0 236.92 L1038.5 223.91 L1039.0 214.20 L1039.5 211.84 L1040.0 218.15 L1040.5 230.31 L1041.0 244.17 L1041.5 256.91 L1042.0 267.49 L1042.5 275.88 L1043.0 282.44 L1043.5 287.57 L1044.0 291.61 L1044.5 294.82 L1045.0 297.42 L1045.5 299.53 L1046.0 301.29 L1046.5 302.75 L1047.0 304.00 L1047.5 305.06 L1048.0 305.97 L1048.5 306.77 L1049.0 307.47 L1049.5 308.08 L1050.0 308.63 L1050.5 309.12 L1051.0 309.56 L1051.5 309.96 L1052.0 310.32 L1052.5 310.65 L1053.0 310.95 L1053.5 311.23 L1054.0 311.49 L1054.5 311.72 L1055.0 311.94 L1055.5 312.14 L1056.0 312.33 L1056.5 312.51 L1057.0 312.67 L1057.5 312.82 L1058.0 312.97 L1058.5 313.10 L1059.0 313.23 L1059.5 313.35 L1060.0 313.47 L1060.5 313.58 L1061.0 313.68 L1061.5 313.77 L1062.0 313.87 L1062.5 313.95 L1063.0 314.04 L1063.5 314.12 L1064.0 314.19 L1064.5 314.26 L1065.0 314.33 L1065.5 314.40 L1066.0 314.46 L1066.5 314.52 L1067.0 314.58 L1067.5 314.63 L1068.0 314.68 L1068.5 314.73 L1069.0 314.78 L1069.5 314.83 L1070.0 314.87 L1070.5 314.92 L1071.0 314.96 L1071.5 315.00 L1072.0 315.04 L1072.5 315.07 L1073.0 315.11 L1073.5 315.15 L1074.0 315.18 L1074.5 315.21 L1075.0 315.24 L1075.5 315.27 L1076.0 315.30 L1076.5 315.33 L1077.0 315.36 L1077.5 315.38 L1078.0 315.41 L1078.5 315.43 L1079.0 315.46 L1079.5 315.48 L1080.0 315.50 L1080.5 315.52 L1081.0 315.54 L1081.5 315.57 L1082.0 315.59 L1082.5 315.60 L1083.0 315.62 L1083.5 315.64 L1084.0 315.66 L1084.5 315.68 L1085.0 315.69 L1085.5 315.71 L1086.0 315.73 L1086.5 315.74 L1087.0 315.76 L1087.5 315.77 L1088.0 315.79 L1088.5 315.80 L1089.0 315.81 L1089.5 315.83 L1090.0 315.84 L1090.5 315.85 L1091.0 315.86 L1091.5 315.88 L1092.0 315.89 L1092.5 315.90 L1093.0 315.91 L1093.5 315.92 L1094.0 315.93 L1094.5 315.94 L1095.0 315.95 L1095.5 315.96 L1096.0 315.97 L1096.5 315.98 L1097.0 315.99 L1097.5 316.00 L1098.0 316.01 L1098.5 316.02 L1099.0 316.02 L1099.5 316.03 L1100.0 316.04 L1100.5 316.05 L1101.0 316.06 L1101.5 316.06 L1102.0 316.07 L1102.5 316.08 L1103.0 316.09 L1103.5 316.09 L1104.0 316.10 L1104.5 316.11 L1105.0 316.11 L1105.5 316.12 L1106.0 316.13 L1106.5 316.13 L1107.0 316.14 L1107.5 316.14 L1108.0 316.15 L1108.5 316.15 L1109.0 316.16 L1109.5 316.17 L1110.0 316.17 L1110.5 316.18 L1111.0 316.18 L1111.5 316.19 L1112.0 316.19 L1112.5 316.20 L1113.0 316.20 L1113.5 316.21 L1114.0 316.21 L1114.5 316.22 L1115.0 316.22 L1115.5 316.22 L1116.0 316.23 L1116.5 316.23 L1117.0 316.24 L1117.5 316.24 L1118.0 316.25 L1118.5 316.25 L1119.0 316.25 L1119.5 316.26 L1120.0 316.26 L1120.5 316.26 L1121.0 316.27 L1121.5 316.27 L1122.0 316.28 L1122.5 316.28 L1123.0 316.28 L1123.5 316.29 L1124.0 316.29 L1124.5 316.29 L1125.0 316.30 L1125.5 316.30 L1126.0 316.30 L1126.5 316.30 L1127.0 316.31 L1127.5 316.31 L1128.0 316.31 L1128.5 316.32 L1129.0 316.32 L1129.5 316.32 L1130.0 316.32 L1130.5 316.33 L1131.0 316.33" fill="none" stroke="#236c38" stroke-width="1.45" stroke-linejoin="round"/>
<text x="431.9" y="281.0" style="font-family:'Liberation Sans', sans-serif;font-size:17.8px" fill="#23703a">150 min</text>
<path d="M433.0 372.55 L433.5 372.55 L434.0 372.55 L434.5 372.55 L435.0 372.55 L435.5 372.55 L436.0 372.55 L436.5 372.55 L437.0 372.55 L437.5 372.55 L438.0 372.55 L438.5 372.55 L439.0 372.55 L439.5 372.55 L440.0 372.55 L440.5 372.55 L441.0 372.55 L441.5 372.55 L442.0 372.55 L442.5 372.55 L443.0 372.55 L443.5 372.55 L444.0 372.54 L444.5 372.54 L445.0 372.54 L445.5 372.54 L446.0 372.54 L446.5 372.54 L447.0 372.54 L447.5 372.54 L448.0 372.54 L448.5 372.54 L449.0 372.54 L449.5 372.54 L450.0 372.54 L450.5 372.54 L451.0 372.54 L451.5 372.54 L452.0 372.54 L452.5 372.54 L453.0 372.54 L453.5 372.54 L454.0 372.54 L454.5 372.54 L455.0 372.54 L455.5 372.53 L456.0 372.53 L456.5 372.53 L457.0 372.53 L457.5 372.53 L458.0 372.53 L458.5 372.53 L459.0 372.53 L459.5 372.53 L460.0 372.53 L460.5 372.53 L461.0 372.53 L461.5 372.53 L462.0 372.53 L462.5 372.53 L463.0 372.53 L463.5 372.53 L464.0 372.52 L464.5 372.52 L465.0 372.52 L465.5 372.52 L466.0 372.52 L466.5 372.52 L467.0 372.52 L467.5 372.52 L468.0 372.52 L468.5 372.52 L469.0 372.52 L469.5 372.52 L470.0 372.52 L470.5 372.52 L471.0 372.51 L471.5 372.51 L472.0 372.51 L472.5 372.51 L473.0 372.51 L473.5 372.51 L474.0 372.51 L474.5 372.51 L475.0 372.51 L475.5 372.51 L476.0 372.51 L476.5 372.51 L477.0 372.50 L477.5 372.50 L478.0 372.50 L478.5 372.50 L479.0 372.50 L479.5 372.50 L480.0 372.50 L480.5 372.50 L481.0 372.50 L481.5 372.49 L482.0 372.49 L482.5 372.49 L483.0 372.49 L483.5 372.49 L484.0 372.49 L484.5 372.49 L485.0 372.49 L485.5 372.48 L486.0 372.48 L486.5 372.48 L487.0 372.48 L487.5 372.48 L488.0 372.48 L488.5 372.48 L489.0 372.47 L489.5 372.47 L490.0 372.47 L490.5 372.47 L491.0 372.47 L491.5 372.47 L492.0 372.46 L492.5 372.46 L493.0 372.46 L493.5 372.46 L494.0 372.46 L494.5 372.45 L495.0 372.45 L495.5 372.45 L496.0 372.45 L496.5 372.45 L497.0 372.44 L497.5 372.44 L498.0 372.44 L498.5 372.44 L499.0 372.43 L499.5 372.43 L500.0 372.43 L500.5 372.42 L501.0 372.42 L501.5 372.42 L502.0 372.42 L502.5 372.41 L503.0 372.41 L503.5 372.41 L504.0 372.40 L504.5 372.40 L505.0 372.39 L505.5 372.39 L506.0 372.39 L506.5 372.38 L507.0 372.38 L507.5 372.37 L508.0 372.37 L508.5 372.36 L509.0 372.36 L509.5 372.35 L510.0 372.35 L510.5 372.34 L511.0 372.33 L511.5 372.33 L512.0 372.32 L512.5 372.31 L513.0 372.31 L513.5 372.30 L514.0 372.29 L514.5 372.28 L515.0 372.27 L515.5 372.26 L516.0 372.25 L516.5 372.24 L517.0 372.23 L517.5 372.22 L518.0 372.20 L518.5 372.19 L519.0 372.17 L519.5 372.16 L520.0 372.14 L520.5 372.12 L521.0 372.10 L521.5 372.08 L522.0 372.06 L522.5 372.03 L523.0 372.01 L523.5 371.98 L524.0 371.94 L524.5 371.91 L525.0 371.87 L525.5 371.83 L526.0 371.78 L526.5 371.73 L527.0 371.67 L527.5 371.60 L528.0 371.52 L528.5 371.44 L529.0 371.34 L529.5 371.23 L530.0 371.09 L530.5 370.94 L531.0 370.76 L531.5 370.55 L532.0 370.30 L532.5 369.99 L533.0 369.62 L533.5 369.16 L534.0 368.58 L534.5 367.86 L535.0 366.93 L535.5 365.74 L536.0 364.20 L536.5 362.23 L537.0 359.80 L537.5 357.01 L538.0 354.29 L538.5 352.44 L539.0 352.25 L539.5 353.80 L540.0 356.40 L540.5 359.21 L541.0 361.71 L541.5 363.76 L542.0 365.36 L542.5 366.59 L543.0 367.55 L543.5 368.29 L544.0 368.86 L544.5 369.31 L545.0 369.66 L545.5 369.93 L546.0 370.13 L546.5 370.27 L547.0 370.33 L547.5 370.32 L548.0 370.19 L548.5 369.94 L549.0 369.63 L549.5 369.50 L550.0 369.77 L550.5 370.23 L551.0 370.64 L551.5 370.93 L552.0 371.13 L552.5 371.27 L553.0 371.37 L553.5 371.44 L554.0 371.50 L554.5 371.54 L555.0 371.58 L555.5 371.61 L556.0 371.63 L556.5 371.64 L557.0 371.66 L557.5 371.67 L558.0 371.67 L558.5 371.68 L559.0 371.68 L559.5 371.68 L560.0 371.67 L560.5 371.67 L561.0 371.66 L561.5 371.65 L562.0 371.64 L562.5 371.63 L563.0 371.62 L563.5 371.60 L564.0 371.59 L564.5 371.57 L565.0 371.55 L565.5 371.53 L566.0 371.51 L566.5 371.48 L567.0 371.45 L567.5 371.43 L568.0 371.39 L568.5 371.36 L569.0 371.33 L569.5 371.29 L570.0 371.25 L570.5 371.20 L571.0 371.16 L571.5 371.11 L572.0 371.06 L572.5 371.00 L573.0 370.94 L573.5 370.88 L574.0 370.81 L574.5 370.73 L575.0 370.65 L575.5 370.57 L576.0 370.47 L576.5 370.37 L577.0 370.27 L577.5 370.15 L578.0 370.02 L578.5 369.88 L579.0 369.73 L579.5 369.56 L580.0 369.38 L580.5 369.18 L581.0 368.95 L581.5 368.71 L582.0 368.43 L582.5 368.11 L583.0 367.76 L583.5 367.35 L584.0 366.89 L584.5 366.36 L585.0 365.73 L585.5 364.99 L586.0 364.12 L586.5 363.06 L587.0 361.77 L587.5 360.17 L588.0 358.16 L588.5 355.61 L589.0 352.33 L589.5 348.09 L590.0 342.64 L590.5 335.88 L591.0 328.13 L591.5 320.73 L592.0 316.07 L592.5 316.21 L593.0 320.87 L593.5 327.70 L594.0 334.45 L594.5 339.99 L595.0 344.07 L595.5 346.78 L596.0 348.29 L596.5 348.70 L597.0 348.01 L597.5 346.12 L598.0 342.84 L598.5 338.03 L599.0 331.86 L599.5 325.53 L600.0 321.64 L600.5 322.67 L601.0 328.30 L601.5 335.81 L602.0 342.90 L602.5 348.67 L603.0 353.11 L603.5 356.47 L604.0 359.02 L604.5 360.99 L605.0 362.53 L605.5 363.75 L606.0 364.75 L606.5 365.56 L607.0 366.25 L607.5 366.82 L608.0 367.32 L608.5 367.74 L609.0 368.11 L609.5 368.44 L610.0 368.73 L610.5 368.98 L611.0 369.21 L611.5 369.42 L612.0 369.61 L612.5 369.77 L613.0 369.93 L613.5 370.07 L614.0 370.20 L614.5 370.32 L615.0 370.43 L615.5 370.54 L616.0 370.63 L616.5 370.72 L617.0 370.80 L617.5 370.88 L618.0 370.95 L618.5 371.02 L619.0 371.08 L619.5 371.14 L620.0 371.20 L620.5 371.25 L621.0 371.30 L621.5 371.35 L622.0 371.39 L622.5 371.43 L623.0 371.47 L623.5 371.51 L624.0 371.55 L624.5 371.58 L625.0 371.61 L625.5 371.64 L626.0 371.67 L626.5 371.70 L627.0 371.73 L627.5 371.75 L628.0 371.78 L628.5 371.80 L629.0 371.82 L629.5 371.85 L630.0 371.87 L630.5 371.89 L631.0 371.90 L631.5 371.92 L632.0 371.94 L632.5 371.96 L633.0 371.97 L633.5 371.99 L634.0 372.00 L634.5 372.02 L635.0 372.03 L635.5 372.05 L636.0 372.06 L636.5 372.07 L637.0 372.08 L637.5 372.09 L638.0 372.11 L638.5 372.12 L639.0 372.13 L639.5 372.14 L640.0 372.15 L640.5 372.16 L641.0 372.16 L641.5 372.17 L642.0 372.18 L642.5 372.19 L643.0 372.20 L643.5 372.21 L644.0 372.21 L644.5 372.22 L645.0 372.23 L645.5 372.23 L646.0 372.24 L646.5 372.25 L647.0 372.25 L647.5 372.26 L648.0 372.27 L648.5 372.27 L649.0 372.28 L649.5 372.28 L650.0 372.29 L650.5 372.29 L651.0 372.30 L651.5 372.30 L652.0 372.31 L652.5 372.31 L653.0 372.32 L653.5 372.32 L654.0 372.33 L654.5 372.33 L655.0 372.34 L655.5 372.34 L656.0 372.34 L656.5 372.35 L657.0 372.35 L657.5 372.35 L658.0 372.36 L658.5 372.36 L659.0 372.36 L659.5 372.37 L660.0 372.37 L660.5 372.37 L661.0 372.38 L661.5 372.38 L662.0 372.38 L662.5 372.39 L663.0 372.39 L663.5 372.39 L664.0 372.39 L664.5 372.40 L665.0 372.40 L665.5 372.40 L666.0 372.40 L666.5 372.41 L667.0 372.41 L667.5 372.41 L668.0 372.41 L668.5 372.42 L669.0 372.42 L669.5 372.42 L670.0 372.42 L670.5 372.42 L671.0 372.43 L671.5 372.43 L672.0 372.43 L672.5 372.43 L673.0 372.43 L673.5 372.44 L674.0 372.44 L674.5 372.44 L675.0 372.44 L675.5 372.44 L676.0 372.44 L676.5 372.45 L677.0 372.45 L677.5 372.45 L678.0 372.45 L678.5 372.45 L679.0 372.45 L679.5 372.46 L680.0 372.46 L680.5 372.46 L681.0 372.46 L681.5 372.46 L682.0 372.46 L682.5 372.46 L683.0 372.46 L683.5 372.47 L684.0 372.47 L684.5 372.47 L685.0 372.47 L685.5 372.47 L686.0 372.47 L686.5 372.47 L687.0 372.47 L687.5 372.48 L688.0 372.48 L688.5 372.48 L689.0 372.48 L689.5 372.48 L690.0 372.48 L690.5 372.48 L691.0 372.48 L691.5 372.48 L692.0 372.48 L692.5 372.49 L693.0 372.49 L693.5 372.49 L694.0 372.49 L694.5 372.49 L695.0 372.49 L695.5 372.49 L696.0 372.49 L696.5 372.49 L697.0 372.49 L697.5 372.49 L698.0 372.49 L698.5 372.50 L699.0 372.50 L699.5 372.50 L700.0 372.50 L700.5 372.50 L701.0 372.50 L701.5 372.50 L702.0 372.50 L702.5 372.50 L703.0 372.50 L703.5 372.50 L704.0 372.50 L704.5 372.50 L705.0 372.50 L705.5 372.50 L706.0 372.50 L706.5 372.51 L707.0 372.51 L707.5 372.51 L708.0 372.51 L708.5 372.51 L709.0 372.51 L709.5 372.51 L710.0 372.51 L710.5 372.51 L711.0 372.51 L711.5 372.51 L712.0 372.51 L712.5 372.51 L713.0 372.51 L713.5 372.51 L714.0 372.51 L714.5 372.51 L715.0 372.51 L715.5 372.51 L716.0 372.51 L716.5 372.52 L717.0 372.52 L717.5 372.52 L718.0 372.52 L718.5 372.52 L719.0 372.52 L719.5 372.52 L720.0 372.52 L720.5 372.52 L721.0 372.52 L721.5 372.52 L722.0 372.52 L722.5 372.52 L723.0 372.52 L723.5 372.52 L724.0 372.52 L724.5 372.52 L725.0 372.52 L725.5 372.52 L726.0 372.52 L726.5 372.52 L727.0 372.52 L727.5 372.52 L728.0 372.52 L728.5 372.52 L729.0 372.52 L729.5 372.52 L730.0 372.52 L730.5 372.52 L731.0 372.52 L731.5 372.52 L732.0 372.52 L732.5 372.52 L733.0 372.53 L733.5 372.53 L734.0 372.53 L734.5 372.53 L735.0 372.53 L735.5 372.53 L736.0 372.53 L736.5 372.53 L737.0 372.53 L737.5 372.53 L738.0 372.53 L738.5 372.53 L739.0 372.53 L739.5 372.53 L740.0 372.53 L740.5 372.53 L741.0 372.53 L741.5 372.53 L742.0 372.53 L742.5 372.53 L743.0 372.53 L743.5 372.53 L744.0 372.53 L744.5 372.53 L745.0 372.53 L745.5 372.53 L746.0 372.53 L746.5 372.53 L747.0 372.53 L747.5 372.53 L748.0 372.53 L748.5 372.53 L749.0 372.53 L749.5 372.53 L750.0 372.53 L750.5 372.53 L751.0 372.53 L751.5 372.53 L752.0 372.53 L752.5 372.53 L753.0 372.53 L753.5 372.53 L754.0 372.53 L754.5 372.53 L755.0 372.53 L755.5 372.53 L756.0 372.53 L756.5 372.53 L757.0 372.53 L757.5 372.53 L758.0 372.53 L758.5 372.53 L759.0 372.53 L759.5 372.53 L760.0 372.53 L760.5 372.53 L761.0 372.53 L761.5 372.53 L762.0 372.53 L762.5 372.53 L763.0 372.53 L763.5 372.53 L764.0 372.53 L764.5 372.53 L765.0 372.53 L765.5 372.53 L766.0 372.53 L766.5 372.53 L767.0 372.52 L767.5 372.52 L768.0 372.52 L768.5 372.52 L769.0 372.52 L769.5 372.52 L770.0 372.52 L770.5 372.52 L771.0 372.52 L771.5 372.52 L772.0 372.52 L772.5 372.52 L773.0 372.52 L773.5 372.52 L774.0 372.52 L774.5 372.52 L775.0 372.52 L775.5 372.52 L776.0 372.52 L776.5 372.52 L777.0 372.51 L777.5 372.51 L778.0 372.51 L778.5 372.51 L779.0 372.51 L779.5 372.51 L780.0 372.51 L780.5 372.51 L781.0 372.51 L781.5 372.51 L782.0 372.51 L782.5 372.50 L783.0 372.50 L783.5 372.50 L784.0 372.50 L784.5 372.50 L785.0 372.50 L785.5 372.49 L786.0 372.49 L786.5 372.49 L787.0 372.49 L787.5 372.49 L788.0 372.48 L788.5 372.48 L789.0 372.48 L789.5 372.48 L790.0 372.47 L790.5 372.47 L791.0 372.47 L791.5 372.46 L792.0 372.46 L792.5 372.46 L793.0 372.45 L793.5 372.45 L794.0 372.44 L794.5 372.43 L795.0 372.43 L795.5 372.42 L796.0 372.41 L796.5 372.41 L797.0 372.40 L797.5 372.39 L798.0 372.38 L798.5 372.37 L799.0 372.35 L799.5 372.34 L800.0 372.32 L800.5 372.30 L801.0 372.28 L801.5 372.26 L802.0 372.24 L802.5 372.21 L803.0 372.17 L803.5 372.13 L804.0 372.08 L804.5 372.03 L805.0 371.96 L805.5 371.89 L806.0 371.79 L806.5 371.67 L807.0 371.53 L807.5 371.34 L808.0 371.10 L808.5 370.78 L809.0 370.35 L809.5 369.74 L810.0 368.87 L810.5 367.56 L811.0 365.55 L811.5 362.38 L812.0 357.71 L812.5 352.50 L813.0 350.73 L813.5 354.45 L814.0 359.75 L814.5 363.82 L815.0 366.46 L815.5 368.15 L816.0 369.26 L816.5 370.01 L817.0 370.54 L817.5 370.92 L818.0 371.20 L818.5 371.42 L819.0 371.59 L819.5 371.72 L820.0 371.83 L820.5 371.92 L821.0 371.99 L821.5 372.05 L822.0 372.10 L822.5 372.14 L823.0 372.18 L823.5 372.21 L824.0 372.24 L824.5 372.27 L825.0 372.29 L825.5 372.31 L826.0 372.32 L826.5 372.34 L827.0 372.35 L827.5 372.37 L828.0 372.38 L828.5 372.39 L829.0 372.40 L829.5 372.40 L830.0 372.41 L830.5 372.42 L831.0 372.42 L831.5 372.43 L832.0 372.44 L832.5 372.44 L833.0 372.45 L833.5 372.45 L834.0 372.45 L834.5 372.46 L835.0 372.46 L835.5 372.46 L836.0 372.47 L836.5 372.47 L837.0 372.47 L837.5 372.47 L838.0 372.48 L838.5 372.48 L839.0 372.48 L839.5 372.48 L840.0 372.48 L840.5 372.49 L841.0 372.49 L841.5 372.49 L842.0 372.49 L842.5 372.49 L843.0 372.49 L843.5 372.49 L844.0 372.49 L844.5 372.50 L845.0 372.50 L845.5 372.50 L846.0 372.50 L846.5 372.50 L847.0 372.50 L847.5 372.50 L848.0 372.50 L848.5 372.50 L849.0 372.50 L849.5 372.50 L850.0 372.50 L850.5 372.50 L851.0 372.50 L851.5 372.50 L852.0 372.50 L852.5 372.50 L853.0 372.51 L853.5 372.51 L854.0 372.51 L854.5 372.51 L855.0 372.51 L855.5 372.51 L856.0 372.51 L856.5 372.51 L857.0 372.51 L857.5 372.51 L858.0 372.51 L858.5 372.51 L859.0 372.51 L859.5 372.51 L860.0 372.51 L860.5 372.51 L861.0 372.51 L861.5 372.51 L862.0 372.51 L862.5 372.51 L863.0 372.51 L863.5 372.51 L864.0 372.51 L864.5 372.51 L865.0 372.51 L865.5 372.51 L866.0 372.51 L866.5 372.51 L867.0 372.51 L867.5 372.51 L868.0 372.51 L868.5 372.51 L869.0 372.51 L869.5 372.51 L870.0 372.51 L870.5 372.51 L871.0 372.51 L871.5 372.51 L872.0 372.50 L872.5 372.50 L873.0 372.50 L873.5 372.50 L874.0 372.50 L874.5 372.50 L875.0 372.50 L875.5 372.50 L876.0 372.50 L876.5 372.50 L877.0 372.50 L877.5 372.50 L878.0 372.50 L878.5 372.50 L879.0 372.50 L879.5 372.50 L880.0 372.50 L880.5 372.50 L881.0 372.50 L881.5 372.50 L882.0 372.50 L882.5 372.50 L883.0 372.50 L883.5 372.50 L884.0 372.50 L884.5 372.50 L885.0 372.50 L885.5 372.50 L886.0 372.49 L886.5 372.49 L887.0 372.49 L887.5 372.49 L888.0 372.49 L888.5 372.49 L889.0 372.49 L889.5 372.49 L890.0 372.49 L890.5 372.49 L891.0 372.49 L891.5 372.49 L892.0 372.49 L892.5 372.49 L893.0 372.49 L893.5 372.49 L894.0 372.49 L894.5 372.49 L895.0 372.49 L895.5 372.48 L896.0 372.48 L896.5 372.48 L897.0 372.48 L897.5 372.48 L898.0 372.48 L898.5 372.48 L899.0 372.48 L899.5 372.48 L900.0 372.48 L900.5 372.48 L901.0 372.48 L901.5 372.48 L902.0 372.48 L902.5 372.47 L903.0 372.47 L903.5 372.47 L904.0 372.47 L904.5 372.47 L905.0 372.47 L905.5 372.47 L906.0 372.47 L906.5 372.47 L907.0 372.47 L907.5 372.47 L908.0 372.47 L908.5 372.46 L909.0 372.46 L909.5 372.46 L910.0 372.46 L910.5 372.46 L911.0 372.46 L911.5 372.46 L912.0 372.46 L912.5 372.46 L913.0 372.46 L913.5 372.45 L914.0 372.45 L914.5 372.45 L915.0 372.45 L915.5 372.45 L916.0 372.45 L916.5 372.45 L917.0 372.45 L917.5 372.45 L918.0 372.44 L918.5 372.44 L919.0 372.44 L919.5 372.44 L920.0 372.44 L920.5 372.44 L921.0 372.44 L921.5 372.44 L922.0 372.43 L922.5 372.43 L923.0 372.43 L923.5 372.43 L924.0 372.43 L924.5 372.43 L925.0 372.43 L925.5 372.42 L926.0 372.42 L926.5 372.42 L927.0 372.42 L927.5 372.42 L928.0 372.42 L928.5 372.41 L929.0 372.41 L929.5 372.41 L930.0 372.41 L930.5 372.41 L931.0 372.41 L931.5 372.40 L932.0 372.40 L932.5 372.40 L933.0 372.40 L933.5 372.40 L934.0 372.40 L934.5 372.39 L935.0 372.39 L935.5 372.39 L936.0 372.39 L936.5 372.38 L937.0 372.38 L937.5 372.38 L938.0 372.38 L938.5 372.38 L939.0 372.37 L939.5 372.37 L940.0 372.37 L940.5 372.37 L941.0 372.36 L941.5 372.36 L942.0 372.36 L942.5 372.36 L943.0 372.35 L943.5 372.35 L944.0 372.35 L944.5 372.35 L945.0 372.34 L945.5 372.34 L946.0 372.34 L946.5 372.33 L947.0 372.33 L947.5 372.33 L948.0 372.33 L948.5 372.32 L949.0 372.32 L949.5 372.32 L950.0 372.31 L950.5 372.31 L951.0 372.31 L951.5 372.30 L952.0 372.30 L952.5 372.29 L953.0 372.29 L953.5 372.29 L954.0 372.28 L954.5 372.28 L955.0 372.27 L955.5 372.27 L956.0 372.27 L956.5 372.26 L957.0 372.26 L957.5 372.25 L958.0 372.25 L958.5 372.24 L959.0 372.24 L959.5 372.23 L960.0 372.23 L960.5 372.22 L961.0 372.22 L961.5 372.21 L962.0 372.21 L962.5 372.20 L963.0 372.20 L963.5 372.19 L964.0 372.18 L964.5 372.18 L965.0 372.17 L965.5 372.17 L966.0 372.16 L966.5 372.15 L967.0 372.15 L967.5 372.14 L968.0 372.13 L968.5 372.12 L969.0 372.12 L969.5 372.11 L970.0 372.10 L970.5 372.09 L971.0 372.08 L971.5 372.08 L972.0 372.07 L972.5 372.06 L973.0 372.05 L973.5 372.04 L974.0 372.03 L974.5 372.02 L975.0 372.01 L975.5 372.00 L976.0 371.99 L976.5 371.98 L977.0 371.97 L977.5 371.95 L978.0 371.94 L978.5 371.93 L979.0 371.92 L979.5 371.90 L980.0 371.89 L980.5 371.88 L981.0 371.86 L981.5 371.85 L982.0 371.83 L982.5 371.82 L983.0 371.80 L983.5 371.78 L984.0 371.77 L984.5 371.75 L985.0 371.73 L985.5 371.71 L986.0 371.69 L986.5 371.67 L987.0 371.65 L987.5 371.63 L988.0 371.61 L988.5 371.58 L989.0 371.56 L989.5 371.53 L990.0 371.51 L990.5 371.48 L991.0 371.45 L991.5 371.42 L992.0 371.39 L992.5 371.36 L993.0 371.33 L993.5 371.29 L994.0 371.26 L994.5 371.22 L995.0 371.18 L995.5 371.14 L996.0 371.10 L996.5 371.05 L997.0 371.01 L997.5 370.96 L998.0 370.91 L998.5 370.86 L999.0 370.80 L999.5 370.74 L1000.0 370.68 L1000.5 370.61 L1001.0 370.55 L1001.5 370.47 L1002.0 370.40 L1002.5 370.32 L1003.0 370.23 L1003.5 370.14 L1004.0 370.04 L1004.5 369.94 L1005.0 369.83 L1005.5 369.72 L1006.0 369.59 L1006.5 369.46 L1007.0 369.32 L1007.5 369.16 L1008.0 369.00 L1008.5 368.82 L1009.0 368.63 L1009.5 368.41 L1010.0 368.19 L1010.5 367.93 L1011.0 367.66 L1011.5 367.36 L1012.0 367.02 L1012.5 366.65 L1013.0 366.23 L1013.5 365.76 L1014.0 365.23 L1014.5 364.63 L1015.0 363.94 L1015.5 363.14 L1016.0 362.21 L1016.5 361.11 L1017.0 359.81 L1017.5 358.25 L1018.0 356.35 L1018.5 354.02 L1019.0 351.11 L1019.5 347.43 L1020.0 342.75 L1020.5 336.75 L1021.0 329.07 L1021.5 319.44 L1022.0 308.01 L1022.5 295.95 L1023.0 286.05 L1023.5 282.00 L1024.0 285.62 L1024.5 295.07 L1025.0 306.69 L1025.5 317.68 L1026.0 326.86 L1026.5 334.09 L1027.0 339.63 L1027.5 343.83 L1028.0 347.02 L1028.5 349.42 L1029.0 351.21 L1029.5 352.54 L1030.0 353.48 L1030.5 354.11 L1031.0 354.45 L1031.5 354.52 L1032.0 354.33 L1032.5 353.86 L1033.0 353.06 L1033.5 351.89 L1034.0 350.24 L1034.5 347.96 L1035.0 344.86 L1035.5 340.63 L1036.0 334.85 L1036.5 326.97 L1037.0 316.37 L1037.5 302.76 L1038.0 287.15 L1038.5 273.40 L1039.0 267.80 L1039.5 273.86 L1040.0 288.08 L1040.5 304.16 L1041.0 318.24 L1041.5 329.32 L1042.0 337.69 L1042.5 343.96 L1043.0 348.71 L1043.5 352.34 L1044.0 355.17 L1044.5 357.41 L1045.0 359.21 L1045.5 360.68 L1046.0 361.90 L1046.5 362.92 L1047.0 363.78 L1047.5 364.52 L1048.0 365.16 L1048.5 365.72 L1049.0 366.21 L1049.5 366.64 L1050.0 367.03 L1050.5 367.37 L1051.0 367.68 L1051.5 367.96 L1052.0 368.21 L1052.5 368.44 L1053.0 368.66 L1053.5 368.85 L1054.0 369.03 L1054.5 369.19 L1055.0 369.35 L1055.5 369.49 L1056.0 369.62 L1056.5 369.75 L1057.0 369.86 L1057.5 369.97 L1058.0 370.07 L1058.5 370.17 L1059.0 370.26 L1059.5 370.34 L1060.0 370.42 L1060.5 370.50 L1061.0 370.57 L1061.5 370.64 L1062.0 370.70 L1062.5 370.76 L1063.0 370.82 L1063.5 370.88 L1064.0 370.93 L1064.5 370.98 L1065.0 371.03 L1065.5 371.07 L1066.0 371.12 L1066.5 371.16 L1067.0 371.20 L1067.5 371.24 L1068.0 371.27 L1068.5 371.31 L1069.0 371.34 L1069.5 371.37 L1070.0 371.41 L1070.5 371.44 L1071.0 371.46 L1071.5 371.49 L1072.0 371.52 L1072.5 371.55 L1073.0 371.57 L1073.5 371.59 L1074.0 371.62 L1074.5 371.64 L1075.0 371.66 L1075.5 371.68 L1076.0 371.70 L1076.5 371.72 L1077.0 371.74 L1077.5 371.76 L1078.0 371.78 L1078.5 371.79 L1079.0 371.81 L1079.5 371.83 L1080.0 371.84 L1080.5 371.86 L1081.0 371.87 L1081.5 371.89 L1082.0 371.90 L1082.5 371.91 L1083.0 371.93 L1083.5 371.94 L1084.0 371.95 L1084.5 371.96 L1085.0 371.97 L1085.5 371.99 L1086.0 372.00 L1086.5 372.01 L1087.0 372.02 L1087.5 372.03 L1088.0 372.04 L1088.5 372.05 L1089.0 372.06 L1089.5 372.07 L1090.0 372.08 L1090.5 372.08 L1091.0 372.09 L1091.5 372.10 L1092.0 372.11 L1092.5 372.12 L1093.0 372.12 L1093.5 372.13 L1094.0 372.14 L1094.5 372.15 L1095.0 372.15 L1095.5 372.16 L1096.0 372.17 L1096.5 372.17 L1097.0 372.18 L1097.5 372.19 L1098.0 372.19 L1098.5 372.20 L1099.0 372.20 L1099.5 372.21 L1100.0 372.21 L1100.5 372.22 L1101.0 372.23 L1101.5 372.23 L1102.0 372.24 L1102.5 372.24 L1103.0 372.25 L1103.5 372.25 L1104.0 372.26 L1104.5 372.26 L1105.0 372.26 L1105.5 372.27 L1106.0 372.27 L1106.5 372.28 L1107.0 372.28 L1107.5 372.29 L1108.0 372.29 L1108.5 372.29 L1109.0 372.30 L1109.5 372.30 L1110.0 372.30 L1110.5 372.31 L1111.0 372.31 L1111.5 372.32 L1112.0 372.32 L1112.5 372.32 L1113.0 372.33 L1113.5 372.33 L1114.0 372.33 L1114.5 372.34 L1115.0 372.34 L1115.5 372.34 L1116.0 372.34 L1116.5 372.35 L1117.0 372.35 L1117.5 372.35 L1118.0 372.36 L1118.5 372.36 L1119.0 372.36 L1119.5 372.36 L1120.0 372.37 L1120.5 372.37 L1121.0 372.37 L1121.5 372.37 L1122.0 372.38 L1122.5 372.38 L1123.0 372.38 L1123.5 372.38 L1124.0 372.39 L1124.5 372.39 L1125.0 372.39 L1125.5 372.39 L1126.0 372.39 L1126.5 372.40 L1127.0 372.40 L1127.5 372.40 L1128.0 372.40 L1128.5 372.40 L1129.0 372.41 L1129.5 372.41 L1130.0 372.41 L1130.5 372.41 L1131.0 372.41" fill="none" stroke="#5e8433" stroke-width="1.45" stroke-linejoin="round"/>
<text x="431.9" y="337.3" style="font-family:'Liberation Sans', sans-serif;font-size:17.8px" fill="#56802a">90 min</text>
<path d="M433.0 429.14 L433.5 429.14 L434.0 429.14 L434.5 429.14 L435.0 429.14 L435.5 429.14 L436.0 429.14 L436.5 429.14 L437.0 429.13 L437.5 429.13 L438.0 429.13 L438.5 429.13 L439.0 429.13 L439.5 429.13 L440.0 429.13 L440.5 429.13 L441.0 429.13 L441.5 429.13 L442.0 429.13 L442.5 429.13 L443.0 429.13 L443.5 429.13 L444.0 429.13 L444.5 429.13 L445.0 429.13 L445.5 429.13 L446.0 429.13 L446.5 429.13 L447.0 429.13 L447.5 429.12 L448.0 429.12 L448.5 429.12 L449.0 429.12 L449.5 429.12 L450.0 429.12 L450.5 429.12 L451.0 429.12 L451.5 429.12 L452.0 429.12 L452.5 429.12 L453.0 429.12 L453.5 429.12 L454.0 429.12 L454.5 429.12 L455.0 429.12 L455.5 429.12 L456.0 429.11 L456.5 429.11 L457.0 429.11 L457.5 429.11 L458.0 429.11 L458.5 429.11 L459.0 429.11 L459.5 429.11 L460.0 429.11 L460.5 429.11 L461.0 429.11 L461.5 429.11 L462.0 429.11 L462.5 429.11 L463.0 429.10 L463.5 429.10 L464.0 429.10 L464.5 429.10 L465.0 429.10 L465.5 429.10 L466.0 429.10 L466.5 429.10 L467.0 429.10 L467.5 429.10 L468.0 429.10 L468.5 429.09 L469.0 429.09 L469.5 429.09 L470.0 429.09 L470.5 429.09 L471.0 429.09 L471.5 429.09 L472.0 429.09 L472.5 429.09 L473.0 429.09 L473.5 429.08 L474.0 429.08 L474.5 429.08 L475.0 429.08 L475.5 429.08 L476.0 429.08 L476.5 429.08 L477.0 429.08 L477.5 429.08 L478.0 429.07 L478.5 429.07 L479.0 429.07 L479.5 429.07 L480.0 429.07 L480.5 429.07 L481.0 429.07 L481.5 429.06 L482.0 429.06 L482.5 429.06 L483.0 429.06 L483.5 429.06 L484.0 429.06 L484.5 429.05 L485.0 429.05 L485.5 429.05 L486.0 429.05 L486.5 429.05 L487.0 429.05 L487.5 429.04 L488.0 429.04 L488.5 429.04 L489.0 429.04 L489.5 429.04 L490.0 429.03 L490.5 429.03 L491.0 429.03 L491.5 429.03 L492.0 429.03 L492.5 429.02 L493.0 429.02 L493.5 429.02 L494.0 429.02 L494.5 429.01 L495.0 429.01 L495.5 429.01 L496.0 429.01 L496.5 429.00 L497.0 429.00 L497.5 429.00 L498.0 428.99 L498.5 428.99 L499.0 428.99 L499.5 428.98 L500.0 428.98 L500.5 428.98 L501.0 428.97 L501.5 428.97 L502.0 428.97 L502.5 428.96 L503.0 428.96 L503.5 428.95 L504.0 428.95 L504.5 428.94 L505.0 428.94 L505.5 428.93 L506.0 428.93 L506.5 428.92 L507.0 428.92 L507.5 428.91 L508.0 428.91 L508.5 428.90 L509.0 428.89 L509.5 428.89 L510.0 428.88 L510.5 428.87 L511.0 428.87 L511.5 428.86 L512.0 428.85 L512.5 428.84 L513.0 428.83 L513.5 428.82 L514.0 428.81 L514.5 428.80 L515.0 428.79 L515.5 428.78 L516.0 428.77 L516.5 428.76 L517.0 428.74 L517.5 428.73 L518.0 428.71 L518.5 428.70 L519.0 428.68 L519.5 428.66 L520.0 428.64 L520.5 428.62 L521.0 428.60 L521.5 428.57 L522.0 428.55 L522.5 428.52 L523.0 428.49 L523.5 428.46 L524.0 428.42 L524.5 428.38 L525.0 428.34 L525.5 428.29 L526.0 428.24 L526.5 428.18 L527.0 428.12 L527.5 428.05 L528.0 427.97 L528.5 427.88 L529.0 427.78 L529.5 427.67 L530.0 427.54 L530.5 427.39 L531.0 427.21 L531.5 427.01 L532.0 426.77 L532.5 426.49 L533.0 426.15 L533.5 425.75 L534.0 425.25 L534.5 424.64 L535.0 423.88 L535.5 422.94 L536.0 421.74 L536.5 420.23 L537.0 418.33 L537.5 416.00 L538.0 413.29 L538.5 410.47 L539.0 408.10 L539.5 406.94 L540.0 407.44 L540.5 409.40 L541.0 412.12 L541.5 414.91 L542.0 417.39 L542.5 419.44 L543.0 421.09 L543.5 422.39 L544.0 423.42 L544.5 424.23 L545.0 424.88 L545.5 425.41 L546.0 425.83 L546.5 426.18 L547.0 426.47 L547.5 426.71 L548.0 426.92 L548.5 427.09 L549.0 427.23 L549.5 427.35 L550.0 427.46 L550.5 427.55 L551.0 427.63 L551.5 427.69 L552.0 427.75 L552.5 427.80 L553.0 427.84 L553.5 427.88 L554.0 427.91 L554.5 427.94 L555.0 427.96 L555.5 427.98 L556.0 427.99 L556.5 428.00 L557.0 428.01 L557.5 428.02 L558.0 428.02 L558.5 428.02 L559.0 428.02 L559.5 428.01 L560.0 428.01 L560.5 428.00 L561.0 427.99 L561.5 427.97 L562.0 427.96 L562.5 427.94 L563.0 427.92 L563.5 427.90 L564.0 427.88 L564.5 427.86 L565.0 427.83 L565.5 427.80 L566.0 427.77 L566.5 427.74 L567.0 427.70 L567.5 427.67 L568.0 427.62 L568.5 427.58 L569.0 427.54 L569.5 427.49 L570.0 427.43 L570.5 427.38 L571.0 427.32 L571.5 427.25 L572.0 427.19 L572.5 427.11 L573.0 427.04 L573.5 426.95 L574.0 426.86 L574.5 426.77 L575.0 426.67 L575.5 426.56 L576.0 426.44 L576.5 426.31 L577.0 426.18 L577.5 426.03 L578.0 425.87 L578.5 425.69 L579.0 425.50 L579.5 425.30 L580.0 425.07 L580.5 424.82 L581.0 424.55 L581.5 424.25 L582.0 423.91 L582.5 423.54 L583.0 423.12 L583.5 422.65 L584.0 422.12 L584.5 421.51 L585.0 420.81 L585.5 420.00 L586.0 419.05 L586.5 417.93 L587.0 416.60 L587.5 414.99 L588.0 413.03 L588.5 410.62 L589.0 407.60 L589.5 403.81 L590.0 399.01 L590.5 392.96 L591.0 385.53 L591.5 376.88 L592.0 367.93 L592.5 360.66 L593.0 357.50 L593.5 359.63 L594.0 365.84 L594.5 373.63 L595.0 381.00 L595.5 386.96 L596.0 391.25 L596.5 393.88 L597.0 394.95 L597.5 394.45 L598.0 392.33 L598.5 388.58 L599.0 383.52 L599.5 378.36 L600.0 375.42 L600.5 376.79 L601.0 382.22 L601.5 389.46 L602.0 396.46 L602.5 402.31 L603.0 406.91 L603.5 410.47 L604.0 413.22 L604.5 415.38 L605.0 417.09 L605.5 418.47 L606.0 419.60 L606.5 420.54 L607.0 421.33 L607.5 422.01 L608.0 422.59 L608.5 423.10 L609.0 423.54 L609.5 423.93 L610.0 424.28 L610.5 424.60 L611.0 424.88 L611.5 425.13 L612.0 425.36 L612.5 425.58 L613.0 425.77 L613.5 425.95 L614.0 426.11 L614.5 426.26 L615.0 426.40 L615.5 426.53 L616.0 426.65 L616.5 426.76 L617.0 426.87 L617.5 426.96 L618.0 427.06 L618.5 427.14 L619.0 427.22 L619.5 427.30 L620.0 427.37 L620.5 427.44 L621.0 427.50 L621.5 427.56 L622.0 427.62 L622.5 427.68 L623.0 427.73 L623.5 427.78 L624.0 427.82 L624.5 427.87 L625.0 427.91 L625.5 427.95 L626.0 427.99 L626.5 428.02 L627.0 428.06 L627.5 428.09 L628.0 428.12 L628.5 428.15 L629.0 428.18 L629.5 428.21 L630.0 428.24 L630.5 428.26 L631.0 428.29 L631.5 428.31 L632.0 428.33 L632.5 428.36 L633.0 428.38 L633.5 428.40 L634.0 428.42 L634.5 428.44 L635.0 428.45 L635.5 428.47 L636.0 428.49 L636.5 428.50 L637.0 428.52 L637.5 428.54 L638.0 428.55 L638.5 428.56 L639.0 428.58 L639.5 428.59 L640.0 428.60 L640.5 428.62 L641.0 428.63 L641.5 428.64 L642.0 428.65 L642.5 428.66 L643.0 428.67 L643.5 428.68 L644.0 428.69 L644.5 428.70 L645.0 428.71 L645.5 428.72 L646.0 428.73 L646.5 428.74 L647.0 428.75 L647.5 428.75 L648.0 428.76 L648.5 428.77 L649.0 428.78 L649.5 428.78 L650.0 428.79 L650.5 428.80 L651.0 428.80 L651.5 428.81 L652.0 428.82 L652.5 428.82 L653.0 428.83 L653.5 428.83 L654.0 428.84 L654.5 428.85 L655.0 428.85 L655.5 428.86 L656.0 428.86 L656.5 428.87 L657.0 428.87 L657.5 428.88 L658.0 428.88 L658.5 428.89 L659.0 428.89 L659.5 428.89 L660.0 428.90 L660.5 428.90 L661.0 428.91 L661.5 428.91 L662.0 428.92 L662.5 428.92 L663.0 428.92 L663.5 428.93 L664.0 428.93 L664.5 428.93 L665.0 428.94 L665.5 428.94 L666.0 428.94 L666.5 428.95 L667.0 428.95 L667.5 428.95 L668.0 428.96 L668.5 428.96 L669.0 428.96 L669.5 428.96 L670.0 428.97 L670.5 428.97 L671.0 428.97 L671.5 428.97 L672.0 428.98 L672.5 428.98 L673.0 428.98 L673.5 428.98 L674.0 428.99 L674.5 428.99 L675.0 428.99 L675.5 428.99 L676.0 429.00 L676.5 429.00 L677.0 429.00 L677.5 429.00 L678.0 429.00 L678.5 429.01 L679.0 429.01 L679.5 429.01 L680.0 429.01 L680.5 429.01 L681.0 429.02 L681.5 429.02 L682.0 429.02 L682.5 429.02 L683.0 429.02 L683.5 429.02 L684.0 429.03 L684.5 429.03 L685.0 429.03 L685.5 429.03 L686.0 429.03 L686.5 429.03 L687.0 429.03 L687.5 429.04 L688.0 429.04 L688.5 429.04 L689.0 429.04 L689.5 429.04 L690.0 429.04 L690.5 429.04 L691.0 429.05 L691.5 429.05 L692.0 429.05 L692.5 429.05 L693.0 429.05 L693.5 429.05 L694.0 429.05 L694.5 429.05 L695.0 429.05 L695.5 429.06 L696.0 429.06 L696.5 429.06 L697.0 429.06 L697.5 429.06 L698.0 429.06 L698.5 429.06 L699.0 429.06 L699.5 429.06 L700.0 429.07 L700.5 429.07 L701.0 429.07 L701.5 429.07 L702.0 429.07 L702.5 429.07 L703.0 429.07 L703.5 429.07 L704.0 429.07 L704.5 429.07 L705.0 429.07 L705.5 429.07 L706.0 429.08 L706.5 429.08 L707.0 429.08 L707.5 429.08 L708.0 429.08 L708.5 429.08 L709.0 429.08 L709.5 429.08 L710.0 429.08 L710.5 429.08 L711.0 429.08 L711.5 429.08 L712.0 429.08 L712.5 429.08 L713.0 429.08 L713.5 429.09 L714.0 429.09 L714.5 429.09 L715.0 429.09 L715.5 429.09 L716.0 429.09 L716.5 429.09 L717.0 429.09 L717.5 429.09 L718.0 429.09 L718.5 429.09 L719.0 429.09 L719.5 429.09 L720.0 429.09 L720.5 429.09 L721.0 429.09 L721.5 429.09 L722.0 429.09 L722.5 429.09 L723.0 429.10 L723.5 429.10 L724.0 429.10 L724.5 429.10 L725.0 429.10 L725.5 429.10 L726.0 429.10 L726.5 429.10 L727.0 429.10 L727.5 429.10 L728.0 429.10 L728.5 429.10 L729.0 429.10 L729.5 429.10 L730.0 429.10 L730.5 429.10 L731.0 429.10 L731.5 429.10 L732.0 429.10 L732.5 429.10 L733.0 429.10 L733.5 429.10 L734.0 429.10 L734.5 429.10 L735.0 429.10 L735.5 429.10 L736.0 429.10 L736.5 429.10 L737.0 429.10 L737.5 429.10 L738.0 429.10 L738.5 429.10 L739.0 429.10 L739.5 429.11 L740.0 429.11 L740.5 429.11 L741.0 429.11 L741.5 429.11 L742.0 429.11 L742.5 429.11 L743.0 429.11 L743.5 429.11 L744.0 429.11 L744.5 429.11 L745.0 429.11 L745.5 429.11 L746.0 429.11 L746.5 429.11 L747.0 429.11 L747.5 429.11 L748.0 429.11 L748.5 429.11 L749.0 429.11 L749.5 429.11 L750.0 429.11 L750.5 429.11 L751.0 429.11 L751.5 429.11 L752.0 429.11 L752.5 429.11 L753.0 429.11 L753.5 429.11 L754.0 429.11 L754.5 429.11 L755.0 429.11 L755.5 429.11 L756.0 429.11 L756.5 429.11 L757.0 429.11 L757.5 429.11 L758.0 429.11 L758.5 429.11 L759.0 429.11 L759.5 429.11 L760.0 429.11 L760.5 429.11 L761.0 429.11 L761.5 429.11 L762.0 429.11 L762.5 429.11 L763.0 429.11 L763.5 429.11 L764.0 429.10 L764.5 429.10 L765.0 429.10 L765.5 429.10 L766.0 429.10 L766.5 429.10 L767.0 429.10 L767.5 429.10 L768.0 429.10 L768.5 429.10 L769.0 429.10 L769.5 429.10 L770.0 429.10 L770.5 429.10 L771.0 429.10 L771.5 429.10 L772.0 429.10 L772.5 429.10 L773.0 429.10 L773.5 429.10 L774.0 429.10 L774.5 429.10 L775.0 429.09 L775.5 429.09 L776.0 429.09 L776.5 429.09 L777.0 429.09 L777.5 429.09 L778.0 429.09 L778.5 429.09 L779.0 429.09 L779.5 429.09 L780.0 429.08 L780.5 429.08 L781.0 429.08 L781.5 429.08 L782.0 429.08 L782.5 429.08 L783.0 429.08 L783.5 429.07 L784.0 429.07 L784.5 429.07 L785.0 429.07 L785.5 429.07 L786.0 429.06 L786.5 429.06 L787.0 429.06 L787.5 429.06 L788.0 429.05 L788.5 429.05 L789.0 429.05 L789.5 429.04 L790.0 429.04 L790.5 429.04 L791.0 429.03 L791.5 429.03 L792.0 429.02 L792.5 429.02 L793.0 429.01 L793.5 429.00 L794.0 429.00 L794.5 428.99 L795.0 428.98 L795.5 428.97 L796.0 428.97 L796.5 428.95 L797.0 428.94 L797.5 428.93 L798.0 428.92 L798.5 428.90 L799.0 428.89 L799.5 428.87 L800.0 428.85 L800.5 428.82 L801.0 428.80 L801.5 428.76 L802.0 428.73 L802.5 428.69 L803.0 428.64 L803.5 428.59 L804.0 428.53 L804.5 428.45 L805.0 428.36 L805.5 428.25 L806.0 428.11 L806.5 427.95 L807.0 427.73 L807.5 427.46 L808.0 427.10 L808.5 426.62 L809.0 425.96 L809.5 425.02 L810.0 423.67 L810.5 421.67 L811.0 418.74 L811.5 414.84 L812.0 410.99 L812.5 409.79 L813.0 412.38 L813.5 416.49 L814.0 420.04 L814.5 422.56 L815.0 424.27 L815.5 425.44 L816.0 426.25 L816.5 426.83 L817.0 427.26 L817.5 427.58 L818.0 427.82 L818.5 428.01 L819.0 428.17 L819.5 428.29 L820.0 428.39 L820.5 428.48 L821.0 428.55 L821.5 428.61 L822.0 428.66 L822.5 428.70 L823.0 428.74 L823.5 428.77 L824.0 428.80 L824.5 428.83 L825.0 428.85 L825.5 428.87 L826.0 428.89 L826.5 428.90 L827.0 428.92 L827.5 428.93 L828.0 428.94 L828.5 428.95 L829.0 428.96 L829.5 428.97 L830.0 428.98 L830.5 428.99 L831.0 428.99 L831.5 429.00 L832.0 429.00 L832.5 429.01 L833.0 429.01 L833.5 429.02 L834.0 429.02 L834.5 429.03 L835.0 429.03 L835.5 429.03 L836.0 429.04 L836.5 429.04 L837.0 429.04 L837.5 429.05 L838.0 429.05 L838.5 429.05 L839.0 429.05 L839.5 429.05 L840.0 429.06 L840.5 429.06 L841.0 429.06 L841.5 429.06 L842.0 429.06 L842.5 429.06 L843.0 429.07 L843.5 429.07 L844.0 429.07 L844.5 429.07 L845.0 429.07 L845.5 429.07 L846.0 429.07 L846.5 429.07 L847.0 429.07 L847.5 429.07 L848.0 429.07 L848.5 429.08 L849.0 429.08 L849.5 429.08 L850.0 429.08 L850.5 429.08 L851.0 429.08 L851.5 429.08 L852.0 429.08 L852.5 429.08 L853.0 429.08 L853.5 429.08 L854.0 429.08 L854.5 429.08 L855.0 429.08 L855.5 429.08 L856.0 429.08 L856.5 429.08 L857.0 429.08 L857.5 429.08 L858.0 429.08 L858.5 429.08 L859.0 429.08 L859.5 429.08 L860.0 429.08 L860.5 429.08 L861.0 429.08 L861.5 429.08 L862.0 429.08 L862.5 429.08 L863.0 429.08 L863.5 429.08 L864.0 429.08 L864.5 429.08 L865.0 429.08 L865.5 429.08 L866.0 429.08 L866.5 429.08 L867.0 429.08 L867.5 429.08 L868.0 429.08 L868.5 429.08 L869.0 429.08 L869.5 429.08 L870.0 429.08 L870.5 429.08 L871.0 429.08 L871.5 429.08 L872.0 429.08 L872.5 429.08 L873.0 429.08 L873.5 429.08 L874.0 429.08 L874.5 429.07 L875.0 429.07 L875.5 429.07 L876.0 429.07 L876.5 429.07 L877.0 429.07 L877.5 429.07 L878.0 429.07 L878.5 429.07 L879.0 429.07 L879.5 429.07 L880.0 429.07 L880.5 429.07 L881.0 429.07 L881.5 429.07 L882.0 429.07 L882.5 429.07 L883.0 429.07 L883.5 429.07 L884.0 429.07 L884.5 429.07 L885.0 429.06 L885.5 429.06 L886.0 429.06 L886.5 429.06 L887.0 429.06 L887.5 429.06 L888.0 429.06 L888.5 429.06 L889.0 429.06 L889.5 429.06 L890.0 429.06 L890.5 429.06 L891.0 429.06 L891.5 429.06 L892.0 429.06 L892.5 429.05 L893.0 429.05 L893.5 429.05 L894.0 429.05 L894.5 429.05 L895.0 429.05 L895.5 429.05 L896.0 429.05 L896.5 429.05 L897.0 429.05 L897.5 429.05 L898.0 429.05 L898.5 429.04 L899.0 429.04 L899.5 429.04 L900.0 429.04 L900.5 429.04 L901.0 429.04 L901.5 429.04 L902.0 429.04 L902.5 429.04 L903.0 429.04 L903.5 429.03 L904.0 429.03 L904.5 429.03 L905.0 429.03 L905.5 429.03 L906.0 429.03 L906.5 429.03 L907.0 429.03 L907.5 429.03 L908.0 429.02 L908.5 429.02 L909.0 429.02 L909.5 429.02 L910.0 429.02 L910.5 429.02 L911.0 429.02 L911.5 429.02 L912.0 429.01 L912.5 429.01 L913.0 429.01 L913.5 429.01 L914.0 429.01 L914.5 429.01 L915.0 429.01 L915.5 429.00 L916.0 429.00 L916.5 429.00 L917.0 429.00 L917.5 429.00 L918.0 429.00 L918.5 429.00 L919.0 428.99 L919.5 428.99 L920.0 428.99 L920.5 428.99 L921.0 428.99 L921.5 428.99 L922.0 428.98 L922.5 428.98 L923.0 428.98 L923.5 428.98 L924.0 428.98 L924.5 428.97 L925.0 428.97 L925.5 428.97 L926.0 428.97 L926.5 428.97 L927.0 428.96 L927.5 428.96 L928.0 428.96 L928.5 428.96 L929.0 428.96 L929.5 428.95 L930.0 428.95 L930.5 428.95 L931.0 428.95 L931.5 428.94 L932.0 428.94 L932.5 428.94 L933.0 428.94 L933.5 428.93 L934.0 428.93 L934.5 428.93 L935.0 428.93 L935.5 428.92 L936.0 428.92 L936.5 428.92 L937.0 428.92 L937.5 428.91 L938.0 428.91 L938.5 428.91 L939.0 428.90 L939.5 428.90 L940.0 428.90 L940.5 428.90 L941.0 428.89 L941.5 428.89 L942.0 428.89 L942.5 428.88 L943.0 428.88 L943.5 428.88 L944.0 428.87 L944.5 428.87 L945.0 428.86 L945.5 428.86 L946.0 428.86 L946.5 428.85 L947.0 428.85 L947.5 428.84 L948.0 428.84 L948.5 428.84 L949.0 428.83 L949.5 428.83 L950.0 428.82 L950.5 428.82 L951.0 428.81 L951.5 428.81 L952.0 428.81 L952.5 428.80 L953.0 428.80 L953.5 428.79 L954.0 428.79 L954.5 428.78 L955.0 428.77 L955.5 428.77 L956.0 428.76 L956.5 428.76 L957.0 428.75 L957.5 428.75 L958.0 428.74 L958.5 428.73 L959.0 428.73 L959.5 428.72 L960.0 428.72 L960.5 428.71 L961.0 428.70 L961.5 428.70 L962.0 428.69 L962.5 428.68 L963.0 428.67 L963.5 428.67 L964.0 428.66 L964.5 428.65 L965.0 428.64 L965.5 428.63 L966.0 428.63 L966.5 428.62 L967.0 428.61 L967.5 428.60 L968.0 428.59 L968.5 428.58 L969.0 428.57 L969.5 428.56 L970.0 428.55 L970.5 428.54 L971.0 428.53 L971.5 428.52 L972.0 428.51 L972.5 428.49 L973.0 428.48 L973.5 428.47 L974.0 428.46 L974.5 428.44 L975.0 428.43 L975.5 428.42 L976.0 428.40 L976.5 428.39 L977.0 428.37 L977.5 428.36 L978.0 428.34 L978.5 428.33 L979.0 428.31 L979.5 428.29 L980.0 428.28 L980.5 428.26 L981.0 428.24 L981.5 428.22 L982.0 428.20 L982.5 428.18 L983.0 428.16 L983.5 428.14 L984.0 428.12 L984.5 428.09 L985.0 428.07 L985.5 428.05 L986.0 428.02 L986.5 427.99 L987.0 427.97 L987.5 427.94 L988.0 427.91 L988.5 427.88 L989.0 427.85 L989.5 427.82 L990.0 427.78 L990.5 427.75 L991.0 427.71 L991.5 427.68 L992.0 427.64 L992.5 427.60 L993.0 427.55 L993.5 427.51 L994.0 427.47 L994.5 427.42 L995.0 427.37 L995.5 427.32 L996.0 427.26 L996.5 427.21 L997.0 427.15 L997.5 427.09 L998.0 427.02 L998.5 426.96 L999.0 426.89 L999.5 426.81 L1000.0 426.74 L1000.5 426.66 L1001.0 426.57 L1001.5 426.48 L1002.0 426.39 L1002.5 426.29 L1003.0 426.18 L1003.5 426.07 L1004.0 425.95 L1004.5 425.82 L1005.0 425.69 L1005.5 425.55 L1006.0 425.40 L1006.5 425.24 L1007.0 425.06 L1007.5 424.88 L1008.0 424.68 L1008.5 424.47 L1009.0 424.24 L1009.5 423.99 L1010.0 423.72 L1010.5 423.42 L1011.0 423.10 L1011.5 422.75 L1012.0 422.37 L1012.5 421.94 L1013.0 421.47 L1013.5 420.95 L1014.0 420.36 L1014.5 419.70 L1015.0 418.95 L1015.5 418.09 L1016.0 417.11 L1016.5 415.97 L1017.0 414.63 L1017.5 413.06 L1018.0 411.18 L1018.5 408.92 L1019.0 406.16 L1019.5 402.76 L1020.0 398.54 L1020.5 393.25 L1021.0 386.61 L1021.5 378.35 L1022.0 368.33 L1022.5 356.90 L1023.0 345.35 L1023.5 336.22 L1024.0 332.50 L1024.5 335.61 L1025.0 344.13 L1025.5 355.06 L1026.0 365.87 L1026.5 375.25 L1027.0 382.87 L1027.5 388.85 L1028.0 393.46 L1028.5 396.98 L1029.0 399.64 L1029.5 401.61 L1030.0 403.02 L1030.5 403.96 L1031.0 404.49 L1031.5 404.64 L1032.0 404.40 L1032.5 403.76 L1033.0 402.65 L1033.5 401.00 L1034.0 398.66 L1034.5 395.43 L1035.0 391.03 L1035.5 385.09 L1036.0 377.18 L1036.5 366.88 L1037.0 354.24 L1037.5 340.52 L1038.0 329.10 L1038.5 324.70 L1039.0 329.76 L1039.5 341.86 L1040.0 356.25 L1040.5 369.58 L1041.0 380.57 L1041.5 389.19 L1042.0 395.86 L1042.5 401.01 L1043.0 405.03 L1043.5 408.21 L1044.0 410.76 L1044.5 412.83 L1045.0 414.53 L1045.5 415.96 L1046.0 417.16 L1046.5 418.18 L1047.0 419.06 L1047.5 419.83 L1048.0 420.50 L1048.5 421.09 L1049.0 421.62 L1049.5 422.09 L1050.0 422.51 L1050.5 422.89 L1051.0 423.24 L1051.5 423.55 L1052.0 423.84 L1052.5 424.10 L1053.0 424.35 L1053.5 424.57 L1054.0 424.78 L1054.5 424.98 L1055.0 425.16 L1055.5 425.32 L1056.0 425.48 L1056.5 425.63 L1057.0 425.77 L1057.5 425.90 L1058.0 426.02 L1058.5 426.13 L1059.0 426.24 L1059.5 426.35 L1060.0 426.44 L1060.5 426.54 L1061.0 426.62 L1061.5 426.71 L1062.0 426.79 L1062.5 426.86 L1063.0 426.93 L1063.5 427.00 L1064.0 427.07 L1064.5 427.13 L1065.0 427.19 L1065.5 427.25 L1066.0 427.30 L1066.5 427.35 L1067.0 427.40 L1067.5 427.45 L1068.0 427.50 L1068.5 427.54 L1069.0 427.58 L1069.5 427.63 L1070.0 427.66 L1070.5 427.70 L1071.0 427.74 L1071.5 427.77 L1072.0 427.81 L1072.5 427.84 L1073.0 427.87 L1073.5 427.90 L1074.0 427.93 L1074.5 427.96 L1075.0 427.99 L1075.5 428.01 L1076.0 428.04 L1076.5 428.07 L1077.0 428.09 L1077.5 428.11 L1078.0 428.13 L1078.5 428.16 L1079.0 428.18 L1079.5 428.20 L1080.0 428.22 L1080.5 428.24 L1081.0 428.26 L1081.5 428.27 L1082.0 428.29 L1082.5 428.31 L1083.0 428.33 L1083.5 428.34 L1084.0 428.36 L1084.5 428.37 L1085.0 428.39 L1085.5 428.40 L1086.0 428.42 L1086.5 428.43 L1087.0 428.44 L1087.5 428.46 L1088.0 428.47 L1088.5 428.48 L1089.0 428.49 L1089.5 428.51 L1090.0 428.52 L1090.5 428.53 L1091.0 428.54 L1091.5 428.55 L1092.0 428.56 L1092.5 428.57 L1093.0 428.58 L1093.5 428.59 L1094.0 428.60 L1094.5 428.61 L1095.0 428.62 L1095.5 428.63 L1096.0 428.64 L1096.5 428.64 L1097.0 428.65 L1097.5 428.66 L1098.0 428.67 L1098.5 428.68 L1099.0 428.68 L1099.5 428.69 L1100.0 428.70 L1100.5 428.71 L1101.0 428.71 L1101.5 428.72 L1102.0 428.73 L1102.5 428.73 L1103.0 428.74 L1103.5 428.74 L1104.0 428.75 L1104.5 428.76 L1105.0 428.76 L1105.5 428.77 L1106.0 428.77 L1106.5 428.78 L1107.0 428.78 L1107.5 428.79 L1108.0 428.80 L1108.5 428.80 L1109.0 428.81 L1109.5 428.81 L1110.0 428.82 L1110.5 428.82 L1111.0 428.82 L1111.5 428.83 L1112.0 428.83 L1112.5 428.84 L1113.0 428.84 L1113.5 428.85 L1114.0 428.85 L1114.5 428.85 L1115.0 428.86 L1115.5 428.86 L1116.0 428.87 L1116.5 428.87 L1117.0 428.87 L1117.5 428.88 L1118.0 428.88 L1118.5 428.89 L1119.0 428.89 L1119.5 428.89 L1120.0 428.90 L1120.5 428.90 L1121.0 428.90 L1121.5 428.91 L1122.0 428.91 L1122.5 428.91 L1123.0 428.91 L1123.5 428.92 L1124.0 428.92 L1124.5 428.92 L1125.0 428.93 L1125.5 428.93 L1126.0 428.93 L1126.5 428.93 L1127.0 428.94 L1127.5 428.94 L1128.0 428.94 L1128.5 428.95 L1129.0 428.95 L1129.5 428.95 L1130.0 428.95 L1130.5 428.96 L1131.0 428.96" fill="none" stroke="#86823a" stroke-width="1.45" stroke-linejoin="round"/>
<text x="431.9" y="393.6" style="font-family:'Liberation Sans', sans-serif;font-size:17.8px" fill="#807428">60 min</text>
<path d="M433.0 485.55 L433.5 485.55 L434.0 485.55 L434.5 485.55 L435.0 485.55 L435.5 485.55 L436.0 485.55 L436.5 485.55 L437.0 485.55 L437.5 485.55 L438.0 485.55 L438.5 485.55 L439.0 485.55 L439.5 485.55 L440.0 485.54 L440.5 485.54 L441.0 485.54 L441.5 485.54 L442.0 485.54 L442.5 485.54 L443.0 485.54 L443.5 485.54 L444.0 485.54 L444.5 485.54 L445.0 485.54 L445.5 485.54 L446.0 485.54 L446.5 485.54 L447.0 485.54 L447.5 485.54 L448.0 485.54 L448.5 485.54 L449.0 485.54 L449.5 485.54 L450.0 485.54 L450.5 485.54 L451.0 485.54 L451.5 485.54 L452.0 485.53 L452.5 485.53 L453.0 485.53 L453.5 485.53 L454.0 485.53 L454.5 485.53 L455.0 485.53 L455.5 485.53 L456.0 485.53 L456.5 485.53 L457.0 485.53 L457.5 485.53 L458.0 485.53 L458.5 485.53 L459.0 485.53 L459.5 485.53 L460.0 485.53 L460.5 485.53 L461.0 485.53 L461.5 485.52 L462.0 485.52 L462.5 485.52 L463.0 485.52 L463.5 485.52 L464.0 485.52 L464.5 485.52 L465.0 485.52 L465.5 485.52 L466.0 485.52 L466.5 485.52 L467.0 485.52 L467.5 485.52 L468.0 485.52 L468.5 485.52 L469.0 485.51 L469.5 485.51 L470.0 485.51 L470.5 485.51 L471.0 485.51 L471.5 485.51 L472.0 485.51 L472.5 485.51 L473.0 485.51 L473.5 485.51 L474.0 485.51 L474.5 485.51 L475.0 485.51 L475.5 485.50 L476.0 485.50 L476.5 485.50 L477.0 485.50 L477.5 485.50 L478.0 485.50 L478.5 485.50 L479.0 485.50 L479.5 485.50 L480.0 485.50 L480.5 485.49 L481.0 485.49 L481.5 485.49 L482.0 485.49 L482.5 485.49 L483.0 485.49 L483.5 485.49 L484.0 485.49 L484.5 485.49 L485.0 485.48 L485.5 485.48 L486.0 485.48 L486.5 485.48 L487.0 485.48 L487.5 485.48 L488.0 485.48 L488.5 485.47 L489.0 485.47 L489.5 485.47 L490.0 485.47 L490.5 485.47 L491.0 485.47 L491.5 485.47 L492.0 485.46 L492.5 485.46 L493.0 485.46 L493.5 485.46 L494.0 485.46 L494.5 485.46 L495.0 485.45 L495.5 485.45 L496.0 485.45 L496.5 485.45 L497.0 485.45 L497.5 485.44 L498.0 485.44 L498.5 485.44 L499.0 485.44 L499.5 485.43 L500.0 485.43 L500.5 485.43 L501.0 485.43 L501.5 485.42 L502.0 485.42 L502.5 485.42 L503.0 485.42 L503.5 485.41 L504.0 485.41 L504.5 485.41 L505.0 485.40 L505.5 485.40 L506.0 485.40 L506.5 485.39 L507.0 485.39 L507.5 485.39 L508.0 485.38 L508.5 485.38 L509.0 485.37 L509.5 485.37 L510.0 485.36 L510.5 485.36 L511.0 485.35 L511.5 485.35 L512.0 485.34 L512.5 485.34 L513.0 485.33 L513.5 485.33 L514.0 485.32 L514.5 485.31 L515.0 485.31 L515.5 485.30 L516.0 485.29 L516.5 485.28 L517.0 485.27 L517.5 485.27 L518.0 485.26 L518.5 485.25 L519.0 485.24 L519.5 485.23 L520.0 485.21 L520.5 485.20 L521.0 485.19 L521.5 485.17 L522.0 485.16 L522.5 485.14 L523.0 485.13 L523.5 485.11 L524.0 485.09 L524.5 485.07 L525.0 485.04 L525.5 485.02 L526.0 484.99 L526.5 484.96 L527.0 484.93 L527.5 484.89 L528.0 484.85 L528.5 484.81 L529.0 484.76 L529.5 484.71 L530.0 484.64 L530.5 484.58 L531.0 484.50 L531.5 484.41 L532.0 484.31 L532.5 484.19 L533.0 484.06 L533.5 483.90 L534.0 483.72 L534.5 483.50 L535.0 483.23 L535.5 482.91 L536.0 482.52 L536.5 482.04 L537.0 481.43 L537.5 480.67 L538.0 479.69 L538.5 478.45 L539.0 476.88 L539.5 474.93 L540.0 472.65 L540.5 470.31 L541.0 468.44 L541.5 467.70 L542.0 468.43 L542.5 470.29 L543.0 472.62 L543.5 474.88 L544.0 476.82 L544.5 478.38 L545.0 479.62 L545.5 480.58 L546.0 481.33 L546.5 481.93 L547.0 482.40 L547.5 482.78 L548.0 483.09 L548.5 483.34 L549.0 483.55 L549.5 483.72 L550.0 483.86 L550.5 483.99 L551.0 484.09 L551.5 484.18 L552.0 484.25 L552.5 484.31 L553.0 484.37 L553.5 484.42 L554.0 484.45 L554.5 484.49 L555.0 484.52 L555.5 484.54 L556.0 484.56 L556.5 484.58 L557.0 484.59 L557.5 484.60 L558.0 484.61 L558.5 484.61 L559.0 484.62 L559.5 484.62 L560.0 484.62 L560.5 484.61 L561.0 484.61 L561.5 484.60 L562.0 484.59 L562.5 484.58 L563.0 484.57 L563.5 484.55 L564.0 484.54 L564.5 484.52 L565.0 484.50 L565.5 484.48 L566.0 484.46 L566.5 484.44 L567.0 484.41 L567.5 484.39 L568.0 484.36 L568.5 484.32 L569.0 484.29 L569.5 484.26 L570.0 484.22 L570.5 484.18 L571.0 484.13 L571.5 484.09 L572.0 484.04 L572.5 483.99 L573.0 483.93 L573.5 483.88 L574.0 483.81 L574.5 483.75 L575.0 483.68 L575.5 483.60 L576.0 483.52 L576.5 483.43 L577.0 483.34 L577.5 483.24 L578.0 483.13 L578.5 483.02 L579.0 482.90 L579.5 482.76 L580.0 482.62 L580.5 482.46 L581.0 482.30 L581.5 482.11 L582.0 481.91 L582.5 481.69 L583.0 481.45 L583.5 481.18 L584.0 480.89 L584.5 480.56 L585.0 480.19 L585.5 479.78 L586.0 479.31 L586.5 478.77 L587.0 478.15 L587.5 477.43 L588.0 476.58 L588.5 475.57 L589.0 474.35 L589.5 472.85 L590.0 470.98 L590.5 468.61 L591.0 465.57 L591.5 461.61 L592.0 456.46 L592.5 449.82 L593.0 441.72 L593.5 433.00 L594.0 425.91 L594.5 423.35 L595.0 426.25 L595.5 432.43 L596.0 438.83 L596.5 443.57 L597.0 445.94 L597.5 445.73 L598.0 443.00 L598.5 438.41 L599.0 434.22 L599.5 434.01 L600.0 439.15 L600.5 447.09 L601.0 454.76 L601.5 460.91 L602.0 465.53 L602.5 468.95 L603.0 471.52 L603.5 473.47 L604.0 475.00 L604.5 476.22 L605.0 477.21 L605.5 478.03 L606.0 478.72 L606.5 479.30 L607.0 479.80 L607.5 480.24 L608.0 480.63 L608.5 480.97 L609.0 481.27 L609.5 481.54 L610.0 481.79 L610.5 482.01 L611.0 482.21 L611.5 482.40 L612.0 482.57 L612.5 482.72 L613.0 482.87 L613.5 483.00 L614.0 483.13 L614.5 483.24 L615.0 483.35 L615.5 483.45 L616.0 483.54 L616.5 483.63 L617.0 483.71 L617.5 483.78 L618.0 483.86 L618.5 483.92 L619.0 483.99 L619.5 484.05 L620.0 484.11 L620.5 484.16 L621.0 484.21 L621.5 484.26 L622.0 484.31 L622.5 484.35 L623.0 484.39 L623.5 484.43 L624.0 484.47 L624.5 484.50 L625.0 484.54 L625.5 484.57 L626.0 484.60 L626.5 484.63 L627.0 484.66 L627.5 484.68 L628.0 484.71 L628.5 484.74 L629.0 484.76 L629.5 484.78 L630.0 484.80 L630.5 484.82 L631.0 484.85 L631.5 484.86 L632.0 484.88 L632.5 484.90 L633.0 484.92 L633.5 484.93 L634.0 484.95 L634.5 484.97 L635.0 484.98 L635.5 485.00 L636.0 485.01 L636.5 485.02 L637.0 485.04 L637.5 485.05 L638.0 485.06 L638.5 485.07 L639.0 485.08 L639.5 485.09 L640.0 485.10 L640.5 485.11 L641.0 485.12 L641.5 485.13 L642.0 485.14 L642.5 485.15 L643.0 485.16 L643.5 485.17 L644.0 485.18 L644.5 485.19 L645.0 485.19 L645.5 485.20 L646.0 485.21 L646.5 485.21 L647.0 485.22 L647.5 485.23 L648.0 485.23 L648.5 485.24 L649.0 485.25 L649.5 485.25 L650.0 485.26 L650.5 485.26 L651.0 485.27 L651.5 485.28 L652.0 485.28 L652.5 485.29 L653.0 485.29 L653.5 485.30 L654.0 485.30 L654.5 485.30 L655.0 485.31 L655.5 485.31 L656.0 485.32 L656.5 485.32 L657.0 485.33 L657.5 485.33 L658.0 485.33 L658.5 485.34 L659.0 485.34 L659.5 485.34 L660.0 485.35 L660.5 485.35 L661.0 485.36 L661.5 485.36 L662.0 485.36 L662.5 485.36 L663.0 485.37 L663.5 485.37 L664.0 485.37 L664.5 485.38 L665.0 485.38 L665.5 485.38 L666.0 485.38 L666.5 485.39 L667.0 485.39 L667.5 485.39 L668.0 485.40 L668.5 485.40 L669.0 485.40 L669.5 485.40 L670.0 485.40 L670.5 485.41 L671.0 485.41 L671.5 485.41 L672.0 485.41 L672.5 485.42 L673.0 485.42 L673.5 485.42 L674.0 485.42 L674.5 485.42 L675.0 485.42 L675.5 485.43 L676.0 485.43 L676.5 485.43 L677.0 485.43 L677.5 485.43 L678.0 485.44 L678.5 485.44 L679.0 485.44 L679.5 485.44 L680.0 485.44 L680.5 485.44 L681.0 485.44 L681.5 485.45 L682.0 485.45 L682.5 485.45 L683.0 485.45 L683.5 485.45 L684.0 485.45 L684.5 485.45 L685.0 485.46 L685.5 485.46 L686.0 485.46 L686.5 485.46 L687.0 485.46 L687.5 485.46 L688.0 485.46 L688.5 485.46 L689.0 485.47 L689.5 485.47 L690.0 485.47 L690.5 485.47 L691.0 485.47 L691.5 485.47 L692.0 485.47 L692.5 485.47 L693.0 485.47 L693.5 485.47 L694.0 485.48 L694.5 485.48 L695.0 485.48 L695.5 485.48 L696.0 485.48 L696.5 485.48 L697.0 485.48 L697.5 485.48 L698.0 485.48 L698.5 485.48 L699.0 485.48 L699.5 485.48 L700.0 485.49 L700.5 485.49 L701.0 485.49 L701.5 485.49 L702.0 485.49 L702.5 485.49 L703.0 485.49 L703.5 485.49 L704.0 485.49 L704.5 485.49 L705.0 485.49 L705.5 485.49 L706.0 485.49 L706.5 485.49 L707.0 485.50 L707.5 485.50 L708.0 485.50 L708.5 485.50 L709.0 485.50 L709.5 485.50 L710.0 485.50 L710.5 485.50 L711.0 485.50 L711.5 485.50 L712.0 485.50 L712.5 485.50 L713.0 485.50 L713.5 485.50 L714.0 485.50 L714.5 485.50 L715.0 485.50 L715.5 485.50 L716.0 485.50 L716.5 485.51 L717.0 485.51 L717.5 485.51 L718.0 485.51 L718.5 485.51 L719.0 485.51 L719.5 485.51 L720.0 485.51 L720.5 485.51 L721.0 485.51 L721.5 485.51 L722.0 485.51 L722.5 485.51 L723.0 485.51 L723.5 485.51 L724.0 485.51 L724.5 485.51 L725.0 485.51 L725.5 485.51 L726.0 485.51 L726.5 485.51 L727.0 485.51 L727.5 485.51 L728.0 485.51 L728.5 485.51 L729.0 485.51 L729.5 485.51 L730.0 485.51 L730.5 485.52 L731.0 485.52 L731.5 485.52 L732.0 485.52 L732.5 485.52 L733.0 485.52 L733.5 485.52 L734.0 485.52 L734.5 485.52 L735.0 485.52 L735.5 485.52 L736.0 485.52 L736.5 485.52 L737.0 485.52 L737.5 485.52 L738.0 485.52 L738.5 485.52 L739.0 485.52 L739.5 485.52 L740.0 485.52 L740.5 485.52 L741.0 485.52 L741.5 485.52 L742.0 485.52 L742.5 485.52 L743.0 485.52 L743.5 485.52 L744.0 485.52 L744.5 485.52 L745.0 485.52 L745.5 485.52 L746.0 485.52 L746.5 485.52 L747.0 485.52 L747.5 485.52 L748.0 485.52 L748.5 485.52 L749.0 485.52 L749.5 485.52 L750.0 485.52 L750.5 485.52 L751.0 485.52 L751.5 485.52 L752.0 485.52 L752.5 485.52 L753.0 485.52 L753.5 485.52 L754.0 485.52 L754.5 485.52 L755.0 485.52 L755.5 485.52 L756.0 485.52 L756.5 485.52 L757.0 485.52 L757.5 485.52 L758.0 485.52 L758.5 485.52 L759.0 485.52 L759.5 485.52 L760.0 485.52 L760.5 485.52 L761.0 485.52 L761.5 485.52 L762.0 485.52 L762.5 485.52 L763.0 485.52 L763.5 485.52 L764.0 485.52 L764.5 485.52 L765.0 485.52 L765.5 485.52 L766.0 485.52 L766.5 485.52 L767.0 485.52 L767.5 485.52 L768.0 485.52 L768.5 485.52 L769.0 485.52 L769.5 485.52 L770.0 485.52 L770.5 485.52 L771.0 485.52 L771.5 485.52 L772.0 485.52 L772.5 485.51 L773.0 485.51 L773.5 485.51 L774.0 485.51 L774.5 485.51 L775.0 485.51 L775.5 485.51 L776.0 485.51 L776.5 485.51 L777.0 485.51 L777.5 485.51 L778.0 485.51 L778.5 485.51 L779.0 485.51 L779.5 485.51 L780.0 485.51 L780.5 485.50 L781.0 485.50 L781.5 485.50 L782.0 485.50 L782.5 485.50 L783.0 485.50 L783.5 485.50 L784.0 485.50 L784.5 485.50 L785.0 485.49 L785.5 485.49 L786.0 485.49 L786.5 485.49 L787.0 485.49 L787.5 485.49 L788.0 485.48 L788.5 485.48 L789.0 485.48 L789.5 485.48 L790.0 485.47 L790.5 485.47 L791.0 485.47 L791.5 485.47 L792.0 485.46 L792.5 485.46 L793.0 485.45 L793.5 485.45 L794.0 485.44 L794.5 485.44 L795.0 485.43 L795.5 485.43 L796.0 485.42 L796.5 485.41 L797.0 485.40 L797.5 485.40 L798.0 485.39 L798.5 485.37 L799.0 485.36 L799.5 485.35 L800.0 485.33 L800.5 485.31 L801.0 485.29 L801.5 485.27 L802.0 485.24 L802.5 485.21 L803.0 485.17 L803.5 485.12 L804.0 485.07 L804.5 485.00 L805.0 484.92 L805.5 484.83 L806.0 484.70 L806.5 484.54 L807.0 484.33 L807.5 484.05 L808.0 483.66 L808.5 483.10 L809.0 482.28 L809.5 481.03 L810.0 479.08 L810.5 476.07 L811.0 472.15 L811.5 469.40 L812.0 470.70 L812.5 474.56 L813.0 478.01 L813.5 480.35 L814.0 481.85 L814.5 482.81 L815.0 483.46 L815.5 483.91 L816.0 484.23 L816.5 484.46 L817.0 484.64 L817.5 484.78 L818.0 484.88 L818.5 484.97 L819.0 485.04 L819.5 485.10 L820.0 485.15 L820.5 485.19 L821.0 485.22 L821.5 485.25 L822.0 485.28 L822.5 485.30 L823.0 485.32 L823.5 485.33 L824.0 485.35 L824.5 485.36 L825.0 485.37 L825.5 485.38 L826.0 485.39 L826.5 485.40 L827.0 485.41 L827.5 485.42 L828.0 485.42 L828.5 485.43 L829.0 485.43 L829.5 485.44 L830.0 485.44 L830.5 485.45 L831.0 485.45 L831.5 485.45 L832.0 485.46 L832.5 485.46 L833.0 485.46 L833.5 485.46 L834.0 485.47 L834.5 485.47 L835.0 485.47 L835.5 485.47 L836.0 485.47 L836.5 485.48 L837.0 485.48 L837.5 485.48 L838.0 485.48 L838.5 485.48 L839.0 485.48 L839.5 485.48 L840.0 485.48 L840.5 485.49 L841.0 485.49 L841.5 485.49 L842.0 485.49 L842.5 485.49 L843.0 485.49 L843.5 485.49 L844.0 485.49 L844.5 485.49 L845.0 485.49 L845.5 485.49 L846.0 485.49 L846.5 485.49 L847.0 485.49 L847.5 485.49 L848.0 485.49 L848.5 485.49 L849.0 485.49 L849.5 485.49 L850.0 485.49 L850.5 485.49 L851.0 485.49 L851.5 485.49 L852.0 485.49 L852.5 485.49 L853.0 485.49 L853.5 485.49 L854.0 485.49 L854.5 485.49 L855.0 485.49 L855.5 485.49 L856.0 485.49 L856.5 485.49 L857.0 485.49 L857.5 485.49 L858.0 485.49 L858.5 485.49 L859.0 485.49 L859.5 485.49 L860.0 485.49 L860.5 485.49 L861.0 485.49 L861.5 485.49 L862.0 485.49 L862.5 485.49 L863.0 485.49 L863.5 485.49 L864.0 485.49 L864.5 485.49 L865.0 485.49 L865.5 485.49 L866.0 485.49 L866.5 485.49 L867.0 485.49 L867.5 485.49 L868.0 485.49 L868.5 485.49 L869.0 485.49 L869.5 485.49 L870.0 485.49 L870.5 485.49 L871.0 485.49 L871.5 485.49 L872.0 485.49 L872.5 485.49 L873.0 485.49 L873.5 485.48 L874.0 485.48 L874.5 485.48 L875.0 485.48 L875.5 485.48 L876.0 485.48 L876.5 485.48 L877.0 485.48 L877.5 485.48 L878.0 485.48 L878.5 485.48 L879.0 485.48 L879.5 485.48 L880.0 485.48 L880.5 485.48 L881.0 485.48 L881.5 485.48 L882.0 485.48 L882.5 485.48 L883.0 485.47 L883.5 485.47 L884.0 485.47 L884.5 485.47 L885.0 485.47 L885.5 485.47 L886.0 485.47 L886.5 485.47 L887.0 485.47 L887.5 485.47 L888.0 485.47 L888.5 485.47 L889.0 485.47 L889.5 485.47 L890.0 485.47 L890.5 485.46 L891.0 485.46 L891.5 485.46 L892.0 485.46 L892.5 485.46 L893.0 485.46 L893.5 485.46 L894.0 485.46 L894.5 485.46 L895.0 485.46 L895.5 485.46 L896.0 485.46 L896.5 485.45 L897.0 485.45 L897.5 485.45 L898.0 485.45 L898.5 485.45 L899.0 485.45 L899.5 485.45 L900.0 485.45 L900.5 485.45 L901.0 485.45 L901.5 485.45 L902.0 485.44 L902.5 485.44 L903.0 485.44 L903.5 485.44 L904.0 485.44 L904.5 485.44 L905.0 485.44 L905.5 485.44 L906.0 485.44 L906.5 485.43 L907.0 485.43 L907.5 485.43 L908.0 485.43 L908.5 485.43 L909.0 485.43 L909.5 485.43 L910.0 485.43 L910.5 485.42 L911.0 485.42 L911.5 485.42 L912.0 485.42 L912.5 485.42 L913.0 485.42 L913.5 485.42 L914.0 485.42 L914.5 485.41 L915.0 485.41 L915.5 485.41 L916.0 485.41 L916.5 485.41 L917.0 485.41 L917.5 485.40 L918.0 485.40 L918.5 485.40 L919.0 485.40 L919.5 485.40 L920.0 485.40 L920.5 485.40 L921.0 485.39 L921.5 485.39 L922.0 485.39 L922.5 485.39 L923.0 485.39 L923.5 485.38 L924.0 485.38 L924.5 485.38 L925.0 485.38 L925.5 485.38 L926.0 485.38 L926.5 485.37 L927.0 485.37 L927.5 485.37 L928.0 485.37 L928.5 485.36 L929.0 485.36 L929.5 485.36 L930.0 485.36 L930.5 485.36 L931.0 485.35 L931.5 485.35 L932.0 485.35 L932.5 485.35 L933.0 485.34 L933.5 485.34 L934.0 485.34 L934.5 485.34 L935.0 485.33 L935.5 485.33 L936.0 485.33 L936.5 485.33 L937.0 485.32 L937.5 485.32 L938.0 485.32 L938.5 485.31 L939.0 485.31 L939.5 485.31 L940.0 485.31 L940.5 485.30 L941.0 485.30 L941.5 485.30 L942.0 485.29 L942.5 485.29 L943.0 485.29 L943.5 485.28 L944.0 485.28 L944.5 485.28 L945.0 485.27 L945.5 485.27 L946.0 485.26 L946.5 485.26 L947.0 485.26 L947.5 485.25 L948.0 485.25 L948.5 485.24 L949.0 485.24 L949.5 485.24 L950.0 485.23 L950.5 485.23 L951.0 485.22 L951.5 485.22 L952.0 485.21 L952.5 485.21 L953.0 485.20 L953.5 485.20 L954.0 485.19 L954.5 485.19 L955.0 485.18 L955.5 485.18 L956.0 485.17 L956.5 485.17 L957.0 485.16 L957.5 485.16 L958.0 485.15 L958.5 485.14 L959.0 485.14 L959.5 485.13 L960.0 485.12 L960.5 485.12 L961.0 485.11 L961.5 485.10 L962.0 485.10 L962.5 485.09 L963.0 485.08 L963.5 485.08 L964.0 485.07 L964.5 485.06 L965.0 485.05 L965.5 485.04 L966.0 485.04 L966.5 485.03 L967.0 485.02 L967.5 485.01 L968.0 485.00 L968.5 484.99 L969.0 484.98 L969.5 484.97 L970.0 484.96 L970.5 484.95 L971.0 484.94 L971.5 484.93 L972.0 484.92 L972.5 484.91 L973.0 484.89 L973.5 484.88 L974.0 484.87 L974.5 484.86 L975.0 484.84 L975.5 484.83 L976.0 484.82 L976.5 484.80 L977.0 484.79 L977.5 484.77 L978.0 484.76 L978.5 484.74 L979.0 484.73 L979.5 484.71 L980.0 484.69 L980.5 484.67 L981.0 484.66 L981.5 484.64 L982.0 484.62 L982.5 484.60 L983.0 484.58 L983.5 484.56 L984.0 484.53 L984.5 484.51 L985.0 484.49 L985.5 484.46 L986.0 484.44 L986.5 484.41 L987.0 484.39 L987.5 484.36 L988.0 484.33 L988.5 484.30 L989.0 484.27 L989.5 484.24 L990.0 484.20 L990.5 484.17 L991.0 484.13 L991.5 484.10 L992.0 484.06 L992.5 484.02 L993.0 483.98 L993.5 483.93 L994.0 483.89 L994.5 483.84 L995.0 483.79 L995.5 483.74 L996.0 483.69 L996.5 483.63 L997.0 483.58 L997.5 483.52 L998.0 483.45 L998.5 483.39 L999.0 483.32 L999.5 483.24 L1000.0 483.17 L1000.5 483.09 L1001.0 483.00 L1001.5 482.91 L1002.0 482.82 L1002.5 482.72 L1003.0 482.62 L1003.5 482.51 L1004.0 482.39 L1004.5 482.26 L1005.0 482.13 L1005.5 481.99 L1006.0 481.84 L1006.5 481.68 L1007.0 481.51 L1007.5 481.33 L1008.0 481.13 L1008.5 480.92 L1009.0 480.69 L1009.5 480.44 L1010.0 480.17 L1010.5 479.88 L1011.0 479.56 L1011.5 479.21 L1012.0 478.83 L1012.5 478.41 L1013.0 477.94 L1013.5 477.41 L1014.0 476.83 L1014.5 476.17 L1015.0 475.42 L1015.5 474.56 L1016.0 473.57 L1016.5 472.43 L1017.0 471.09 L1017.5 469.50 L1018.0 467.60 L1018.5 465.30 L1019.0 462.49 L1019.5 459.01 L1020.0 454.66 L1020.5 449.16 L1021.0 442.18 L1021.5 433.39 L1022.0 422.55 L1022.5 409.94 L1023.0 396.94 L1023.5 386.48 L1024.0 382.20 L1024.5 385.87 L1025.0 395.73 L1025.5 408.12 L1026.0 420.11 L1026.5 430.32 L1027.0 438.48 L1027.5 444.80 L1028.0 449.63 L1028.5 453.28 L1029.0 456.02 L1029.5 458.04 L1030.0 459.47 L1030.5 460.42 L1031.0 460.94 L1031.5 461.06 L1032.0 460.77 L1032.5 460.05 L1033.0 458.82 L1033.5 456.98 L1034.0 454.35 L1034.5 450.69 L1035.0 445.66 L1035.5 438.81 L1036.0 429.60 L1036.5 417.71 L1037.0 403.63 L1037.5 389.87 L1038.0 381.43 L1038.5 382.84 L1039.0 393.48 L1039.5 408.33 L1040.0 422.79 L1040.5 434.85 L1041.0 444.28 L1041.5 451.47 L1042.0 456.97 L1042.5 461.21 L1043.0 464.52 L1043.5 467.15 L1044.0 469.27 L1044.5 471.00 L1045.0 472.44 L1045.5 473.65 L1046.0 474.67 L1046.5 475.55 L1047.0 476.32 L1047.5 476.98 L1048.0 477.57 L1048.5 478.09 L1049.0 478.56 L1049.5 478.98 L1050.0 479.35 L1050.5 479.70 L1051.0 480.01 L1051.5 480.29 L1052.0 480.55 L1052.5 480.79 L1053.0 481.02 L1053.5 481.22 L1054.0 481.41 L1054.5 481.59 L1055.0 481.76 L1055.5 481.91 L1056.0 482.06 L1056.5 482.20 L1057.0 482.33 L1057.5 482.45 L1058.0 482.56 L1058.5 482.67 L1059.0 482.77 L1059.5 482.87 L1060.0 482.96 L1060.5 483.05 L1061.0 483.13 L1061.5 483.21 L1062.0 483.28 L1062.5 483.35 L1063.0 483.42 L1063.5 483.49 L1064.0 483.55 L1064.5 483.61 L1065.0 483.66 L1065.5 483.72 L1066.0 483.77 L1066.5 483.82 L1067.0 483.87 L1067.5 483.91 L1068.0 483.96 L1068.5 484.00 L1069.0 484.04 L1069.5 484.08 L1070.0 484.12 L1070.5 484.15 L1071.0 484.19 L1071.5 484.22 L1072.0 484.25 L1072.5 484.28 L1073.0 484.32 L1073.5 484.34 L1074.0 484.37 L1074.5 484.40 L1075.0 484.43 L1075.5 484.45 L1076.0 484.48 L1076.5 484.50 L1077.0 484.52 L1077.5 484.55 L1078.0 484.57 L1078.5 484.59 L1079.0 484.61 L1079.5 484.63 L1080.0 484.65 L1080.5 484.67 L1081.0 484.68 L1081.5 484.70 L1082.0 484.72 L1082.5 484.74 L1083.0 484.75 L1083.5 484.77 L1084.0 484.78 L1084.5 484.80 L1085.0 484.81 L1085.5 484.83 L1086.0 484.84 L1086.5 484.85 L1087.0 484.87 L1087.5 484.88 L1088.0 484.89 L1088.5 484.90 L1089.0 484.91 L1089.5 484.93 L1090.0 484.94 L1090.5 484.95 L1091.0 484.96 L1091.5 484.97 L1092.0 484.98 L1092.5 484.99 L1093.0 485.00 L1093.5 485.01 L1094.0 485.02 L1094.5 485.03 L1095.0 485.03 L1095.5 485.04 L1096.0 485.05 L1096.5 485.06 L1097.0 485.07 L1097.5 485.08 L1098.0 485.08 L1098.5 485.09 L1099.0 485.10 L1099.5 485.10 L1100.0 485.11 L1100.5 485.12 L1101.0 485.13 L1101.5 485.13 L1102.0 485.14 L1102.5 485.14 L1103.0 485.15 L1103.5 485.16 L1104.0 485.16 L1104.5 485.17 L1105.0 485.17 L1105.5 485.18 L1106.0 485.19 L1106.5 485.19 L1107.0 485.20 L1107.5 485.20 L1108.0 485.21 L1108.5 485.21 L1109.0 485.22 L1109.5 485.22 L1110.0 485.23 L1110.5 485.23 L1111.0 485.23 L1111.5 485.24 L1112.0 485.24 L1112.5 485.25 L1113.0 485.25 L1113.5 485.26 L1114.0 485.26 L1114.5 485.26 L1115.0 485.27 L1115.5 485.27 L1116.0 485.28 L1116.5 485.28 L1117.0 485.28 L1117.5 485.29 L1118.0 485.29 L1118.5 485.29 L1119.0 485.30 L1119.5 485.30 L1120.0 485.30 L1120.5 485.31 L1121.0 485.31 L1121.5 485.31 L1122.0 485.32 L1122.5 485.32 L1123.0 485.32 L1123.5 485.33 L1124.0 485.33 L1124.5 485.33 L1125.0 485.33 L1125.5 485.34 L1126.0 485.34 L1126.5 485.34 L1127.0 485.34 L1127.5 485.35 L1128.0 485.35 L1128.5 485.35 L1129.0 485.35 L1129.5 485.36 L1130.0 485.36 L1130.5 485.36 L1131.0 485.36" fill="none" stroke="#6c1026" stroke-width="1.45" stroke-linejoin="round"/>
<text x="431.9" y="449.9" style="font-family:'Liberation Sans', sans-serif;font-size:17.8px" fill="#6e1628">30 min</text>
<line x1="433" y1="518.6" x2="1131" y2="518.6" stroke="#777" stroke-width="1.3"/>
<path d="M441.0 518.6 v4.0 M455.5 518.6 v1.8 M470.0 518.6 v4.0 M484.5 518.6 v1.8 M498.9 518.6 v4.0 M513.4 518.6 v1.8 M527.9 518.6 v4.0 M542.4 518.6 v1.8 M556.9 518.6 v4.0 M571.4 518.6 v1.8 M585.9 518.6 v4.0 M600.3 518.6 v1.8 M614.8 518.6 v4.0 M629.3 518.6 v1.8 M643.8 518.6 v4.0 M658.3 518.6 v1.8 M672.8 518.6 v4.0 M687.2 518.6 v1.8 M701.7 518.6 v4.0 M716.2 518.6 v1.8 M730.7 518.6 v4.0 M745.2 518.6 v1.8 M759.7 518.6 v4.0 M774.2 518.6 v1.8 M788.6 518.6 v4.0 M803.1 518.6 v1.8 M817.6 518.6 v4.0 M832.1 518.6 v1.8 M846.6 518.6 v4.0 M861.1 518.6 v1.8 M875.5 518.6 v4.0 M890.0 518.6 v1.8 M904.5 518.6 v4.0 M919.0 518.6 v1.8 M933.5 518.6 v4.0 M948.0 518.6 v1.8 M962.5 518.6 v4.0 M976.9 518.6 v1.8 M991.4 518.6 v4.0 M1005.9 518.6 v1.8 M1020.4 518.6 v4.0 M1034.9 518.6 v1.8 M1049.4 518.6 v4.0 M1063.9 518.6 v1.8 M1078.3 518.6 v4.0 M1092.8 518.6 v1.8 M1107.3 518.6 v4.0" stroke="#777" stroke-width="1.1" fill="none"/>
<g style="font-family:'Liberation Sans', sans-serif;font-size:9.6px" fill="#333"><text x="441.0" y="531.6" text-anchor="middle">8.0</text><text x="470.0" y="531.6" text-anchor="middle">7.8</text><text x="498.9" y="531.6" text-anchor="middle">7.6</text><text x="527.9" y="531.6" text-anchor="middle">7.4</text><text x="556.9" y="531.6" text-anchor="middle">7.2</text><text x="585.9" y="531.6" text-anchor="middle">7.0</text><text x="614.8" y="531.6" text-anchor="middle">6.8</text><text x="643.8" y="531.6" text-anchor="middle">6.6</text><text x="672.8" y="531.6" text-anchor="middle">6.4</text><text x="701.7" y="531.6" text-anchor="middle">6.2</text><text x="730.7" y="531.6" text-anchor="middle">6.0</text><text x="759.7" y="531.6" text-anchor="middle">5.8</text><text x="788.6" y="531.6" text-anchor="middle">5.6</text><text x="817.6" y="531.6" text-anchor="middle">5.4</text><text x="846.6" y="531.6" text-anchor="middle">5.2</text><text x="875.5" y="531.6" text-anchor="middle">5.0</text><text x="904.5" y="531.6" text-anchor="middle">4.8</text><text x="933.5" y="531.6" text-anchor="middle">4.6</text><text x="962.5" y="531.6" text-anchor="middle">4.4</text><text x="991.4" y="531.6" text-anchor="middle">4.2</text><text x="1020.4" y="531.6" text-anchor="middle">4.0</text><text x="1049.4" y="531.6" text-anchor="middle">3.8</text><text x="1078.3" y="531.6" text-anchor="middle">3.6</text><text x="1107.3" y="531.6" text-anchor="middle">3.4</text></g>
<text x="787" y="541.8" text-anchor="middle" style="font-family:'Liberation Sans', sans-serif;font-size:7px" fill="#555">ppm</text>
<path d="M156.7 566.8 H151.6 V803.7 H446.3" fill="none" stroke="#000" stroke-width="1.8"/>
<path d="M151.7 610.3 H156.7 M151.7 653.3 H156.7 M151.7 696.3 H156.7 M151.7 739.3 H156.7 M151.7 782.3 H156.7 M196.8 803.7 V799 M242.1 803.7 V799 M287.5 803.7 V799 M332.8 803.7 V799 M378.1 803.7 V799 M423.5 803.7 V799" stroke="#000" stroke-width="1.6" fill="none"/>
<g style="font-family:'Liberation Sans', sans-serif;font-size:13.6px"><text x="151.6" y="819.8" text-anchor="middle">0</text><text x="196.9" y="819.8" text-anchor="middle">10</text><text x="242.3" y="819.8" text-anchor="middle">20</text><text x="287.6" y="819.8" text-anchor="middle">30</text><text x="333.0" y="819.8" text-anchor="middle">40</text><text x="378.4" y="819.8" text-anchor="middle">50</text><text x="423.7" y="819.8" text-anchor="middle">60</text></g>
<text x="298.8" y="841.8" text-anchor="middle" style="font-family:'Liberation Sans', sans-serif;font-size:14.6px">[TFA] (mM)</text>
<text x="163" y="593.5" style="font-family:'Liberation Sans', sans-serif;font-size:15.6px">Slope<tspan dy="3.5" style="font-size:10.5px">H</tspan><tspan dy="-3.5"> = 0.132, Slope</tspan><tspan dy="3.5" style="font-size:10.5px">D</tspan><tspan dy="-3.5"> = 0.166</tspan></text>
<text x="196" y="675.5" style="font-family:'Liberation Sans', sans-serif;font-size:15.6px">i<tspan dy="3.5" style="font-size:10.5px">c</tspan><tspan dy="-3.5">/i</tspan><tspan dy="3.5" style="font-size:10.5px">p</tspan><tspan dy="-3.5"> = 2</tspan></text>
<line x1="256.4" y1="652" x2="256.4" y2="690" stroke="#000" stroke-width="1.6"/>
<path d="M256.4 645.5 L259.6 658.5 L256.4 656 L253.2 658.5 Z M256.4 696.7 L259.6 683.7 L256.4 686.2 L253.2 683.7 Z" fill="#000"/>
<line x1="181.2" y1="779.9" x2="418.2" y2="634.6" stroke="#0a14f0" stroke-width="2.5"/>
<line x1="181.2" y1="779.0" x2="417.7" y2="593.1" stroke="#ee3a3c" stroke-width="2.5"/>
<circle cx="181.2" cy="787.2" r="3.7" fill="#0a14f0"/><circle cx="211.3" cy="758.1" r="3.7" fill="#0a14f0"/><circle cx="241.4" cy="740.6" r="3.7" fill="#0a14f0"/><circle cx="300.0" cy="701.9" r="3.7" fill="#0a14f0"/><circle cx="358.9" cy="669.5" r="3.7" fill="#0a14f0"/><circle cx="417.9" cy="634.5" r="3.7" fill="#0a14f0"/>
<circle cx="181.2" cy="786.6" r="3.7" fill="#ee4444"/><circle cx="211.3" cy="756.5" r="3.7" fill="#ee4444"/><circle cx="241.1" cy="725.2" r="3.7" fill="#ee4444"/><circle cx="299.9" cy="684.5" r="3.7" fill="#ee4444"/><circle cx="358.9" cy="635.4" r="3.7" fill="#ee4444"/><circle cx="417.9" cy="598.2" r="3.7" fill="#ee4444"/>
<circle cx="343.9" cy="730.4" r="3.7" fill="#0a14f0"/><circle cx="343.9" cy="752.8" r="3.7" fill="#ee4444"/>
<text x="365" y="736.3" style="font-family:'Liberation Sans', sans-serif;font-size:15.6px">CF<tspan dy="3.8" style="font-size:10.5px">3</tspan><tspan dy="-3.8">COOH</tspan></text>
<text x="365" y="758.8" style="font-family:'Liberation Sans', sans-serif;font-size:15.6px">CF<tspan dy="3.8" style="font-size:10.5px">3</tspan><tspan dy="-3.8">COOD</tspan></text>
<text x="-1.9" y="600.6" style="font-family:'Liberation Sans', sans-serif;font-weight:bold;font-size:35px">(b)</text>
<path d="M104.6 612.2 V1107.1 H717" fill="none" stroke="#000" stroke-width="3.4" stroke-linecap="butt" stroke-linejoin="miter"/>
<text x="94.4" y="1064.1" text-anchor="end" style="font-family:'Liberation Sans', sans-serif;font-size:21px">0</text>
<text x="94.4" y="1012.3" text-anchor="end" style="font-family:'Liberation Sans', sans-serif;font-size:21px">3</text>
<text x="94.4" y="960.6" text-anchor="end" style="font-family:'Liberation Sans', sans-serif;font-size:21px">6</text>
<text x="94.4" y="908.8" text-anchor="end" style="font-family:'Liberation Sans', sans-serif;font-size:21px">9</text>
<text x="94.4" y="857.1" text-anchor="end" style="font-family:'Liberation Sans', sans-serif;font-size:21px">12</text>
<text x="94.4" y="805.3" text-anchor="end" style="font-family:'Liberation Sans', sans-serif;font-size:21px">15</text>
<text x="94.4" y="753.6" text-anchor="end" style="font-family:'Liberation Sans', sans-serif;font-size:21px">18</text>
<text x="94.4" y="701.8" text-anchor="end" style="font-family:'Liberation Sans', sans-serif;font-size:21px">21</text>
<text x="94.4" y="650.1" text-anchor="end" style="font-family:'Liberation Sans', sans-serif;font-size:21px">24</text>
<path d="M105 1057.8 H114.5 M105 1006.0 H114.5 M105 954.3 H114.5 M105 902.5 H114.5 M105 850.8 H114.5 M105 799.0 H114.5 M105 747.3 H114.5 M105 695.5 H114.5 M105 643.8 H114.5" stroke="#000" stroke-width="3" fill="none"/>
<text transform="translate(49.3 883.5) rotate(-90)" style="font-family:'Liberation Sans', sans-serif;font-size:29.5px">i<tspan dy="7" style="font-size:20px">cat</tspan><tspan dy="-7" dx="-2.5"> (A)</tspan></text>
<text x="281.5" y="1151.3" style="font-family:'Liberation Sans', sans-serif;font-size:30.3px">Potential (V), vs Fc<tspan dy="-12" style="font-size:20px">+/0</tspan></text>
<g style="font-family:'Liberation Sans', sans-serif;font-size:26px"><text x="116.3" y="938.8">6.5 mM</text><text x="116.8" y="969.8">to 58.8 mM</text><text x="117" y="1001">acid</text></g>
<line x1="253.5" y1="1000" x2="253.5" y2="920" stroke="#000" stroke-width="2.4"/>
<path d="M253.5 908.5 L258 926 L249 926 Z" fill="#000"/>
<text x="307.5" y="1083.7" style="font-family:'Liberation Sans', sans-serif;font-size:30.5px">TFA</text>
<text x="595.3" y="1084" style="font-family:'Liberation Sans', sans-serif;font-size:30.5px">d<tspan dy="-12" style="font-size:20px">1</tspan><tspan dy="12">-TFA</tspan></text>
<text x="468.4" y="704.5" style="font-family:'Liberation Sans', sans-serif;font-size:30.4px">KIE<tspan dy="7.5" style="font-size:20.5px">avg</tspan><tspan dy="-7.5"> = 0.51(9)</tspan></text>
<path d="M141.70 1065.00 C143.37 1063.33 152.95 1062.67 160.00 1062.00 C167.05 1061.33 176.33 1061.50 184.00 1061.00 C191.67 1060.50 199.33 1059.92 206.00 1059.00 C212.67 1058.08 218.33 1056.58 224.00 1055.50 C229.67 1054.42 234.67 1053.33 240.00 1052.50 C245.33 1051.67 251.00 1051.17 256.00 1050.50 C261.00 1049.83 265.67 1049.25 270.00 1048.50 C274.33 1047.75 278.33 1047.08 282.00 1046.00 C285.67 1044.92 289.00 1043.67 292.00 1042.00 C295.00 1040.33 297.33 1038.50 300.00 1036.00 C302.67 1033.50 305.67 1029.67 308.00 1027.00 C310.33 1024.33 312.25 1021.83 314.00 1020.00 C315.75 1018.17 316.83 1016.83 318.50 1016.00 C320.17 1015.17 321.92 1014.92 324.00 1015.00 C326.08 1015.08 328.33 1015.75 331.00 1016.50 C333.67 1017.25 335.67 1018.25 340.00 1019.50 C344.33 1020.75 351.67 1022.92 357.00 1024.00 C362.33 1025.08 366.78 1025.37 372.00 1026.00 C377.22 1026.63 388.30 1027.22 388.30 1027.80 C388.30 1028.38 377.05 1029.05 372.00 1029.50 C366.95 1029.95 362.08 1030.30 358.00 1030.50 C353.92 1030.70 352.17 1030.37 347.50 1030.70 C342.83 1031.03 334.92 1031.87 330.00 1032.50 C325.08 1033.13 321.42 1033.85 318.00 1034.50 C314.58 1035.15 312.50 1035.48 309.50 1036.40 C306.50 1037.32 303.25 1038.73 300.00 1040.00 C296.75 1041.27 294.17 1042.58 290.00 1044.00 C285.83 1045.42 280.33 1047.17 275.00 1048.50 C269.67 1049.83 263.83 1050.92 258.00 1052.00 C252.17 1053.08 245.67 1054.00 240.00 1055.00 C234.33 1056.00 229.00 1056.33 224.00 1058.00 C219.00 1059.67 214.00 1061.83 210.00 1065.00 C206.00 1068.17 203.00 1073.17 200.00 1077.00 C197.00 1080.83 194.67 1085.25 192.00 1088.00 C189.33 1090.75 186.67 1093.33 184.00 1093.50 C181.33 1093.67 179.50 1091.25 176.00 1089.00 C172.50 1086.75 167.33 1082.83 163.00 1080.00 C158.67 1077.17 153.55 1074.50 150.00 1072.00 C146.45 1069.50 140.03 1066.67 141.70 1065.00Z" fill="none" stroke="#fae4e4" stroke-width="3.00" stroke-linejoin="round"/>
<path d="M141.70 1065.00 C143.37 1063.17 152.95 1061.83 160.00 1061.00 C167.05 1060.17 176.33 1060.67 184.00 1060.00 C191.67 1059.33 199.33 1058.33 206.00 1057.00 C212.67 1055.67 218.33 1053.50 224.00 1052.00 C229.67 1050.50 234.67 1049.00 240.00 1048.00 C245.33 1047.00 251.00 1047.08 256.00 1046.00 C261.00 1044.92 266.00 1043.67 270.00 1041.50 C274.00 1039.33 277.17 1036.58 280.00 1033.00 C282.83 1029.42 285.08 1023.67 287.00 1020.00 C288.92 1016.33 290.07 1013.23 291.50 1011.00 C292.93 1008.77 294.43 1007.38 295.60 1006.60 C296.77 1005.82 297.43 1006.40 298.50 1006.30 C299.57 1006.20 300.58 1006.55 302.00 1006.00 C303.42 1005.45 305.17 1004.67 307.00 1003.00 C308.83 1001.33 311.08 998.17 313.00 996.00 C314.92 993.83 316.72 991.50 318.50 990.00 C320.28 988.50 322.12 987.33 323.70 987.00 C325.28 986.67 326.12 987.08 328.00 988.00 C329.88 988.92 331.75 990.77 335.00 992.50 C338.25 994.23 343.33 996.65 347.50 998.40 C351.67 1000.15 355.92 1001.65 360.00 1003.00 C364.08 1004.35 368.33 1005.42 372.00 1006.50 C375.67 1007.58 379.28 1008.72 382.00 1009.50 C384.72 1010.28 388.30 1010.70 388.30 1011.20 C388.30 1011.70 385.63 1012.10 382.00 1012.50 C378.37 1012.90 371.50 1013.10 366.50 1013.60 C361.50 1014.10 356.75 1014.87 352.00 1015.50 C347.25 1016.13 342.50 1016.73 338.00 1017.40 C333.50 1018.07 328.97 1018.55 325.00 1019.50 C321.03 1020.45 317.37 1021.77 314.20 1023.10 C311.03 1024.43 308.37 1026.08 306.00 1027.50 C303.63 1028.92 302.33 1030.02 300.00 1031.60 C297.67 1033.18 294.83 1035.27 292.00 1037.00 C289.17 1038.73 286.67 1040.50 283.00 1042.00 C279.33 1043.50 274.67 1044.83 270.00 1046.00 C265.33 1047.17 260.33 1048.00 255.00 1049.00 C249.67 1050.00 243.50 1051.00 238.00 1052.00 C232.50 1053.00 227.00 1053.33 222.00 1055.00 C217.00 1056.67 212.17 1058.83 208.00 1062.00 C203.83 1065.17 200.17 1070.00 197.00 1074.00 C193.83 1078.00 191.33 1083.08 189.00 1086.00 C186.67 1088.92 185.50 1091.33 183.00 1091.50 C180.50 1091.67 177.50 1089.08 174.00 1087.00 C170.50 1084.92 166.00 1081.50 162.00 1079.00 C158.00 1076.50 153.38 1074.33 150.00 1072.00 C146.62 1069.67 140.03 1066.83 141.70 1065.00Z" fill="none" stroke="#f8d5d6" stroke-width="3.00" stroke-linejoin="round"/>
<path d="M141.70 1065.00 C143.37 1063.08 152.95 1061.50 160.00 1060.50 C167.05 1059.50 176.33 1059.92 184.00 1059.00 C191.67 1058.08 199.33 1056.67 206.00 1055.00 C212.67 1053.33 218.33 1050.67 224.00 1049.00 C229.67 1047.33 234.67 1046.08 240.00 1045.00 C245.33 1043.92 251.33 1043.83 256.00 1042.50 C260.67 1041.17 264.67 1039.17 268.00 1037.00 C271.33 1034.83 273.67 1032.33 276.00 1029.50 C278.33 1026.67 280.17 1023.58 282.00 1020.00 C283.83 1016.42 285.50 1011.33 287.00 1008.00 C288.50 1004.67 289.70 1002.25 291.00 1000.00 C292.30 997.75 293.80 995.42 294.80 994.50 C295.80 993.58 296.28 994.35 297.00 994.50 C297.72 994.65 298.10 995.65 299.10 995.40 C300.10 995.15 301.18 994.65 303.00 993.00 C304.82 991.35 307.83 988.17 310.00 985.50 C312.17 982.83 314.17 979.42 316.00 977.00 C317.83 974.58 319.40 972.50 321.00 971.00 C322.60 969.50 324.27 968.42 325.60 968.00 C326.93 967.58 327.77 967.83 329.00 968.50 C330.23 969.17 331.50 970.50 333.00 972.00 C334.50 973.50 335.67 975.33 338.00 977.50 C340.33 979.67 343.83 982.78 347.00 985.00 C350.17 987.22 353.83 989.22 357.00 990.80 C360.17 992.38 362.83 993.40 366.00 994.50 C369.17 995.60 373.17 996.65 376.00 997.40 C378.83 998.15 380.95 998.53 383.00 999.00 C385.05 999.47 388.47 999.70 388.30 1000.20 C388.13 1000.70 384.38 1001.40 382.00 1002.00 C379.62 1002.60 376.58 1003.30 374.00 1003.80 C371.42 1004.30 370.17 1004.47 366.50 1005.00 C362.83 1005.53 356.75 1006.37 352.00 1007.00 C347.25 1007.63 342.00 1008.22 338.00 1008.80 C334.00 1009.38 331.17 1009.70 328.00 1010.50 C324.83 1011.30 321.67 1012.43 319.00 1013.60 C316.33 1014.77 314.17 1016.27 312.00 1017.50 C309.83 1018.73 308.00 1019.75 306.00 1021.00 C304.00 1022.25 302.17 1023.42 300.00 1025.00 C297.83 1026.58 295.50 1028.58 293.00 1030.50 C290.50 1032.42 288.00 1034.75 285.00 1036.50 C282.00 1038.25 279.17 1039.58 275.00 1041.00 C270.83 1042.42 265.17 1043.83 260.00 1045.00 C254.83 1046.17 249.33 1046.83 244.00 1048.00 C238.67 1049.17 233.67 1050.00 228.00 1052.00 C222.33 1054.00 215.33 1056.83 210.00 1060.00 C204.67 1063.17 200.00 1067.17 196.00 1071.00 C192.00 1074.83 189.00 1080.50 186.00 1083.00 C183.00 1085.50 181.67 1086.67 178.00 1086.00 C174.33 1085.33 168.67 1081.33 164.00 1079.00 C159.33 1076.67 153.72 1074.33 150.00 1072.00 C146.28 1069.67 140.03 1066.92 141.70 1065.00Z" fill="none" stroke="#f6c6c7" stroke-width="3.00" stroke-linejoin="round"/>
<path d="M141.70 1065.00 C143.20 1063.17 149.95 1061.17 157.00 1060.00 C164.05 1058.83 175.83 1059.17 184.00 1058.00 C192.17 1056.83 199.33 1055.17 206.00 1053.00 C212.67 1050.83 218.33 1047.00 224.00 1045.00 C229.67 1043.00 234.67 1041.78 240.00 1041.00 C245.33 1040.22 251.83 1041.63 256.00 1040.30 C260.17 1038.97 262.13 1035.73 265.00 1033.00 C267.87 1030.27 271.12 1026.65 273.20 1023.90 C275.28 1021.15 276.07 1019.08 277.50 1016.50 C278.93 1013.92 280.55 1011.48 281.80 1008.40 C283.05 1005.32 283.97 1001.73 285.00 998.00 C286.03 994.27 286.92 989.83 288.00 986.00 C289.08 982.17 290.50 977.92 291.50 975.00 C292.50 972.08 293.17 970.10 294.00 968.50 C294.83 966.90 295.58 965.90 296.50 965.40 C297.42 964.90 298.35 965.25 299.50 965.50 C300.65 965.75 302.15 966.98 303.40 966.90 C304.65 966.82 305.45 966.15 307.00 965.00 C308.55 963.85 310.87 962.17 312.70 960.00 C314.53 957.83 316.13 955.00 318.00 952.00 C319.87 949.00 322.07 944.92 323.90 942.00 C325.73 939.08 327.57 936.58 329.00 934.50 C330.43 932.42 331.48 930.67 332.50 929.50 C333.52 928.33 334.27 927.75 335.10 927.50 C335.93 927.25 336.75 927.63 337.50 928.00 C338.25 928.37 338.52 928.45 339.60 929.70 C340.68 930.95 342.50 933.45 344.00 935.50 C345.50 937.55 346.77 939.67 348.60 942.00 C350.43 944.33 352.75 947.25 355.00 949.50 C357.25 951.75 359.77 953.75 362.10 955.50 C364.43 957.25 366.58 958.68 369.00 960.00 C371.42 961.32 374.27 962.48 376.60 963.40 C378.93 964.32 381.05 964.87 383.00 965.50 C384.95 966.13 388.30 966.53 388.30 967.20 C388.30 967.87 384.95 968.83 383.00 969.50 C381.05 970.17 379.35 970.50 376.60 971.20 C373.85 971.90 370.10 972.82 366.50 973.70 C362.90 974.58 358.97 975.55 355.00 976.50 C351.03 977.45 346.03 978.52 342.70 979.40 C339.37 980.28 337.37 980.85 335.00 981.80 C332.63 982.75 330.83 983.65 328.50 985.10 C326.17 986.55 323.38 988.60 321.00 990.50 C318.62 992.40 316.53 994.17 314.20 996.50 C311.87 998.83 309.37 1001.82 307.00 1004.50 C304.63 1007.18 302.03 1009.93 300.00 1012.60 C297.97 1015.27 296.63 1017.93 294.80 1020.50 C292.97 1023.07 291.13 1025.75 289.00 1028.00 C286.87 1030.25 284.83 1032.17 282.00 1034.00 C279.17 1035.83 276.33 1037.33 272.00 1039.00 C267.67 1040.67 261.33 1042.58 256.00 1044.00 C250.67 1045.42 245.00 1046.33 240.00 1047.50 C235.00 1048.67 231.33 1049.17 226.00 1051.00 C220.67 1052.83 213.67 1055.67 208.00 1058.50 C202.33 1061.33 196.33 1065.08 192.00 1068.00 C187.67 1070.92 185.33 1074.33 182.00 1076.00 C178.67 1077.67 175.67 1078.00 172.00 1078.00 C168.33 1078.00 164.00 1077.17 160.00 1076.00 C156.00 1074.83 151.05 1072.83 148.00 1071.00 C144.95 1069.17 140.20 1066.83 141.70 1065.00Z" fill="none" stroke="#f4b3b5" stroke-width="3.00" stroke-linejoin="round"/>
<path d="M141.70 1065.00 C143.70 1063.25 149.95 1060.83 157.00 1059.50 C164.05 1058.17 175.83 1058.42 184.00 1057.00 C192.17 1055.58 199.33 1053.67 206.00 1051.00 C212.67 1048.33 218.67 1043.58 224.00 1041.00 C229.33 1038.42 233.40 1036.77 238.00 1035.50 C242.60 1034.23 248.27 1034.48 251.60 1033.40 C254.93 1032.32 255.85 1030.87 258.00 1029.00 C260.15 1027.13 262.67 1024.37 264.50 1022.20 C266.33 1020.03 267.55 1018.30 269.00 1016.00 C270.45 1013.70 271.78 1011.15 273.20 1008.40 C274.62 1005.65 276.07 1002.67 277.50 999.50 C278.93 996.33 280.47 992.90 281.80 989.40 C283.13 985.90 284.35 981.97 285.50 978.50 C286.65 975.03 287.53 972.05 288.70 968.60 C289.87 965.15 291.28 961.23 292.50 957.80 C293.72 954.37 294.88 950.72 296.00 948.00 C297.12 945.28 298.10 942.87 299.20 941.50 C300.30 940.13 301.47 939.88 302.60 939.80 C303.73 939.72 304.78 940.43 306.00 941.00 C307.22 941.57 308.65 943.20 309.90 943.20 C311.15 943.20 312.30 942.13 313.50 941.00 C314.70 939.87 315.68 938.40 317.10 936.40 C318.52 934.40 320.50 931.43 322.00 929.00 C323.50 926.57 324.60 924.55 326.10 921.80 C327.60 919.05 329.50 915.48 331.00 912.50 C332.50 909.52 333.77 906.32 335.10 903.90 C336.43 901.48 337.78 899.50 339.00 898.00 C340.22 896.50 341.32 895.15 342.40 894.90 C343.48 894.65 344.47 895.57 345.50 896.50 C346.53 897.43 347.35 898.42 348.60 900.50 C349.85 902.58 351.50 905.82 353.00 909.00 C354.50 912.18 355.93 916.43 357.60 919.60 C359.27 922.77 361.13 925.38 363.00 928.00 C364.87 930.62 366.80 933.38 368.80 935.30 C370.80 937.22 372.75 938.18 375.00 939.50 C377.25 940.82 380.08 942.25 382.30 943.20 C384.52 944.15 388.30 943.90 388.30 945.20 C388.30 946.50 384.18 949.57 382.30 951.00 C380.42 952.43 378.88 952.87 377.00 953.80 C375.12 954.73 372.93 955.75 371.00 956.60 C369.07 957.45 367.27 958.15 365.40 958.90 C363.53 959.65 361.67 960.35 359.80 961.10 C357.93 961.85 356.07 962.65 354.20 963.40 C352.33 964.15 350.47 964.85 348.60 965.60 C346.73 966.35 344.87 967.15 343.00 967.90 C341.13 968.65 339.48 969.08 337.40 970.10 C335.32 971.12 332.75 972.60 330.50 974.00 C328.25 975.40 325.68 976.67 323.90 978.50 C322.12 980.33 321.28 982.42 319.80 985.00 C318.32 987.58 316.47 991.42 315.00 994.00 C313.53 996.58 312.22 998.58 311.00 1000.50 C309.78 1002.42 309.03 1003.50 307.70 1005.50 C306.37 1007.50 304.43 1010.30 303.00 1012.50 C301.57 1014.70 300.43 1016.78 299.10 1018.70 C297.77 1020.62 296.43 1022.27 295.00 1024.00 C293.57 1025.73 292.33 1027.35 290.50 1029.10 C288.67 1030.85 286.42 1032.93 284.00 1034.50 C281.58 1036.07 279.17 1037.33 276.00 1038.50 C272.83 1039.67 268.33 1040.67 265.00 1041.50 C261.67 1042.33 260.17 1042.67 256.00 1043.50 C251.83 1044.33 245.00 1045.42 240.00 1046.50 C235.00 1047.58 231.33 1048.17 226.00 1050.00 C220.67 1051.83 214.00 1054.83 208.00 1057.50 C202.00 1060.17 195.00 1063.50 190.00 1066.00 C185.00 1068.50 182.17 1070.67 178.00 1072.50 C173.83 1074.33 169.33 1076.58 165.00 1077.00 C160.67 1077.42 155.33 1076.17 152.00 1075.00 C148.67 1073.83 146.72 1071.67 145.00 1070.00 C143.28 1068.33 139.70 1066.75 141.70 1065.00Z" fill="none" stroke="#f2a3a6" stroke-width="3.00" stroke-linejoin="round"/>
<path d="M141.70 1064.50 C142.53 1063.00 147.45 1061.50 150.00 1060.50 C152.55 1059.50 153.67 1059.17 157.00 1058.50 C160.33 1057.83 165.50 1057.10 170.00 1056.50 C174.50 1055.90 179.67 1055.73 184.00 1054.90 C188.33 1054.07 192.38 1052.70 196.00 1051.50 C199.62 1050.30 202.53 1049.28 205.70 1047.70 C208.87 1046.12 212.00 1043.95 215.00 1042.00 C218.00 1040.05 219.87 1038.00 223.70 1036.00 C227.53 1034.00 233.78 1031.33 238.00 1030.00 C242.22 1028.67 246.00 1028.92 249.00 1028.00 C252.00 1027.08 253.42 1026.83 256.00 1024.50 C258.58 1022.17 261.92 1017.75 264.50 1014.00 C267.08 1010.25 269.18 1006.67 271.50 1002.00 C273.82 997.33 276.48 991.17 278.40 986.00 C280.32 980.83 281.60 975.83 283.00 971.00 C284.40 966.17 285.63 961.17 286.80 957.00 C287.97 952.83 288.87 949.62 290.00 946.00 C291.13 942.38 292.43 939.05 293.60 935.30 C294.77 931.55 295.77 926.80 297.00 923.50 C298.23 920.20 299.52 917.27 301.00 915.50 C302.48 913.73 304.40 913.07 305.90 912.90 C307.40 912.73 308.60 913.85 310.00 914.50 C311.40 915.15 312.97 916.80 314.30 916.80 C315.63 916.80 316.97 915.35 318.00 914.50 C319.03 913.65 319.33 913.45 320.50 911.70 C321.67 909.95 323.50 906.80 325.00 904.00 C326.50 901.20 328.00 898.07 329.50 894.90 C331.00 891.73 332.50 888.37 334.00 885.00 C335.50 881.63 337.17 877.70 338.50 874.70 C339.83 871.70 340.88 869.25 342.00 867.00 C343.12 864.75 343.92 862.72 345.20 861.20 C346.48 859.68 348.40 858.18 349.70 857.90 C351.00 857.62 352.07 858.77 353.00 859.50 C353.93 860.23 354.47 860.72 355.30 862.30 C356.13 863.88 356.87 866.18 358.00 869.00 C359.13 871.82 360.77 876.28 362.10 879.20 C363.43 882.12 364.52 884.07 366.00 886.50 C367.48 888.93 369.33 891.72 371.00 893.80 C372.67 895.88 374.50 897.50 376.00 899.00 C377.50 900.50 378.67 901.63 380.00 902.80 C381.33 903.97 382.68 904.98 384.00 906.00 C385.32 907.02 388.07 907.65 387.90 908.90 C387.73 910.15 384.82 912.02 383.00 913.50 C381.18 914.98 379.00 916.42 377.00 917.80 C375.00 919.18 372.93 920.65 371.00 921.80 C369.07 922.95 367.27 923.75 365.40 924.70 C363.53 925.65 361.67 926.57 359.80 927.50 C357.93 928.43 356.07 929.37 354.20 930.30 C352.33 931.23 350.30 932.10 348.60 933.10 C346.90 934.10 345.50 935.18 344.00 936.30 C342.50 937.42 341.18 938.52 339.60 939.80 C338.02 941.08 336.18 942.50 334.50 944.00 C332.82 945.50 331.02 947.13 329.50 948.80 C327.98 950.47 326.72 952.13 325.40 954.00 C324.08 955.87 322.83 957.67 321.60 960.00 C320.37 962.33 319.13 965.25 318.00 968.00 C316.87 970.75 315.80 973.52 314.80 976.50 C313.80 979.48 313.13 982.90 312.00 985.90 C310.87 988.90 309.43 991.62 308.00 994.50 C306.57 997.38 304.90 1000.28 303.40 1003.20 C301.90 1006.12 300.43 1009.12 299.00 1012.00 C297.57 1014.88 296.30 1018.00 294.80 1020.50 C293.30 1023.00 291.45 1025.13 290.00 1027.00 C288.55 1028.87 287.77 1030.20 286.10 1031.70 C284.43 1033.20 282.15 1034.70 280.00 1036.00 C277.85 1037.30 275.87 1038.58 273.20 1039.50 C270.53 1040.42 266.88 1040.92 264.00 1041.50 C261.12 1042.08 258.73 1042.50 255.90 1043.00 C253.07 1043.50 249.88 1043.93 247.00 1044.50 C244.12 1045.07 241.43 1045.82 238.60 1046.40 C235.77 1046.98 232.48 1047.48 230.00 1048.00 C227.52 1048.52 226.37 1048.67 223.70 1049.50 C221.03 1050.33 217.00 1051.80 214.00 1053.00 C211.00 1054.20 208.87 1055.20 205.70 1056.70 C202.53 1058.20 198.60 1060.20 195.00 1062.00 C191.40 1063.80 187.77 1065.58 184.10 1067.50 C180.43 1069.42 176.62 1072.00 173.00 1073.50 C169.38 1075.00 165.90 1076.58 162.40 1076.50 C158.90 1076.42 154.90 1074.17 152.00 1073.00 C149.10 1071.83 146.72 1070.92 145.00 1069.50 C143.28 1068.08 140.87 1066.00 141.70 1064.50Z" fill="none" stroke="#f0969a" stroke-width="3.00" stroke-linejoin="round"/>
<path d="M439.60 1063.00 C440.77 1062.08 445.60 1061.83 450.00 1061.50 C454.40 1061.17 460.33 1061.25 466.00 1061.00 C471.67 1060.75 478.33 1060.42 484.00 1060.00 C489.67 1059.58 494.00 1059.17 500.00 1058.50 C506.00 1057.83 513.33 1056.75 520.00 1056.00 C526.67 1055.25 533.33 1054.58 540.00 1054.00 C546.67 1053.42 554.17 1053.17 560.00 1052.50 C565.83 1051.83 570.33 1051.58 575.00 1050.00 C579.67 1048.42 583.92 1046.00 588.00 1043.00 C592.08 1040.00 596.50 1034.83 599.50 1032.00 C602.50 1029.17 603.63 1027.70 606.00 1026.00 C608.37 1024.30 610.83 1022.68 613.70 1021.80 C616.57 1020.92 620.15 1020.67 623.20 1020.70 C626.25 1020.73 628.03 1021.28 632.00 1022.00 C635.97 1022.72 641.33 1024.03 647.00 1025.00 C652.67 1025.97 661.17 1027.10 666.00 1027.80 C670.83 1028.50 672.68 1028.72 676.00 1029.20 C679.32 1029.68 685.90 1030.20 685.90 1030.70 C685.90 1031.20 679.32 1031.73 676.00 1032.20 C672.68 1032.67 670.33 1033.03 666.00 1033.50 C661.67 1033.97 654.75 1034.52 650.00 1035.00 C645.25 1035.48 642.17 1035.93 637.50 1036.40 C632.83 1036.87 626.75 1037.33 622.00 1037.80 C617.25 1038.27 612.67 1038.67 609.00 1039.20 C605.33 1039.73 603.17 1040.03 600.00 1041.00 C596.83 1041.97 593.33 1043.75 590.00 1045.00 C586.67 1046.25 584.67 1047.08 580.00 1048.50 C575.33 1049.92 567.83 1052.17 562.00 1053.50 C556.17 1054.83 550.67 1055.67 545.00 1056.50 C539.33 1057.33 533.00 1057.75 528.00 1058.50 C523.00 1059.25 518.83 1059.75 515.00 1061.00 C511.17 1062.25 508.00 1063.83 505.00 1066.00 C502.00 1068.17 499.83 1071.33 497.00 1074.00 C494.17 1076.67 491.17 1080.08 488.00 1082.00 C484.83 1083.92 481.00 1085.33 478.00 1085.50 C475.00 1085.67 473.00 1084.58 470.00 1083.00 C467.00 1081.42 463.33 1078.00 460.00 1076.00 C456.67 1074.00 452.83 1072.50 450.00 1071.00 C447.17 1069.50 444.73 1068.33 443.00 1067.00 C441.27 1065.67 438.43 1063.92 439.60 1063.00Z" fill="none" stroke="#f08a8d" stroke-width="3.00" stroke-linejoin="round"/>
<path d="M439.60 1063.00 C440.43 1062.00 443.60 1061.50 448.00 1061.00 C452.40 1060.50 460.00 1060.42 466.00 1060.00 C472.00 1059.58 479.00 1059.08 484.00 1058.50 C489.00 1057.92 492.00 1057.42 496.00 1056.50 C500.00 1055.58 504.00 1054.17 508.00 1053.00 C512.00 1051.83 514.67 1050.50 520.00 1049.50 C525.33 1048.50 533.33 1047.75 540.00 1047.00 C546.67 1046.25 554.17 1046.00 560.00 1045.00 C565.83 1044.00 570.83 1042.67 575.00 1041.00 C579.17 1039.33 582.17 1037.33 585.00 1035.00 C587.83 1032.67 589.58 1030.17 592.00 1027.00 C594.42 1023.83 597.17 1019.83 599.50 1016.00 C601.83 1012.17 603.63 1007.42 606.00 1004.00 C608.37 1000.58 611.70 997.33 613.70 995.50 C615.70 993.67 616.42 993.47 618.00 993.00 C619.58 992.53 621.70 992.45 623.20 992.70 C624.70 992.95 625.42 993.55 627.00 994.50 C628.58 995.45 630.53 997.15 632.70 998.40 C634.87 999.65 637.62 1000.90 640.00 1002.00 C642.38 1003.10 644.33 1004.00 647.00 1005.00 C649.67 1006.00 652.83 1007.05 656.00 1008.00 C659.17 1008.95 662.67 1009.90 666.00 1010.70 C669.33 1011.50 672.68 1012.17 676.00 1012.80 C679.32 1013.43 685.57 1014.00 685.90 1014.50 C686.23 1015.00 680.53 1015.48 678.00 1015.80 C675.47 1016.12 674.03 1015.95 670.70 1016.40 C667.37 1016.85 661.95 1017.87 658.00 1018.50 C654.05 1019.13 650.50 1019.70 647.00 1020.20 C643.50 1020.70 640.17 1021.02 637.00 1021.50 C633.83 1021.98 631.17 1022.35 628.00 1023.10 C624.83 1023.85 621.17 1024.90 618.00 1026.00 C614.83 1027.10 611.83 1028.37 609.00 1029.70 C606.17 1031.03 603.38 1032.57 601.00 1034.00 C598.62 1035.43 597.20 1036.97 594.70 1038.30 C592.20 1039.63 589.28 1040.88 586.00 1042.00 C582.72 1043.12 579.33 1044.00 575.00 1045.00 C570.67 1046.00 565.17 1047.08 560.00 1048.00 C554.83 1048.92 549.33 1049.67 544.00 1050.50 C538.67 1051.33 532.83 1052.00 528.00 1053.00 C523.17 1054.00 518.83 1054.83 515.00 1056.50 C511.17 1058.17 508.17 1060.42 505.00 1063.00 C501.83 1065.58 499.00 1069.00 496.00 1072.00 C493.00 1075.00 490.00 1078.83 487.00 1081.00 C484.00 1083.17 480.83 1084.83 478.00 1085.00 C475.17 1085.17 473.00 1083.50 470.00 1082.00 C467.00 1080.50 463.33 1077.83 460.00 1076.00 C456.67 1074.17 452.83 1072.50 450.00 1071.00 C447.17 1069.50 444.73 1068.33 443.00 1067.00 C441.27 1065.67 438.77 1064.00 439.60 1063.00Z" fill="none" stroke="#ee7378" stroke-width="3.00" stroke-linejoin="round"/>
<path d="M439.60 1063.00 C440.43 1061.75 443.60 1061.17 448.00 1060.50 C452.40 1059.83 460.00 1059.58 466.00 1059.00 C472.00 1058.42 479.00 1057.75 484.00 1057.00 C489.00 1056.25 492.00 1055.67 496.00 1054.50 C500.00 1053.33 504.00 1051.58 508.00 1050.00 C512.00 1048.42 515.50 1046.33 520.00 1045.00 C524.50 1043.67 529.67 1042.83 535.00 1042.00 C540.33 1041.17 546.83 1040.83 552.00 1040.00 C557.17 1039.17 561.67 1038.67 566.00 1037.00 C570.33 1035.33 574.67 1032.83 578.00 1030.00 C581.33 1027.17 583.67 1024.17 586.00 1020.00 C588.33 1015.83 590.33 1009.00 592.00 1005.00 C593.67 1001.00 594.83 998.08 596.00 996.00 C597.17 993.92 598.10 993.22 599.00 992.50 C599.90 991.78 600.57 992.12 601.40 991.70 C602.23 991.28 602.90 991.12 604.00 990.00 C605.10 988.88 606.50 987.00 608.00 985.00 C609.50 983.00 611.25 980.17 613.00 978.00 C614.75 975.83 616.83 973.75 618.50 972.00 C620.17 970.25 621.58 968.53 623.00 967.50 C624.42 966.47 625.83 965.97 627.00 965.80 C628.17 965.63 629.00 965.80 630.00 966.50 C631.00 967.20 631.75 968.48 633.00 970.00 C634.25 971.52 635.67 973.93 637.50 975.60 C639.33 977.27 641.63 978.58 644.00 980.00 C646.37 981.42 648.87 982.68 651.70 984.10 C654.53 985.52 657.83 987.07 661.00 988.50 C664.17 989.93 667.87 991.58 670.70 992.70 C673.53 993.82 675.47 994.42 678.00 995.20 C680.53 995.98 685.57 996.72 685.90 997.40 C686.23 998.08 681.73 998.82 680.00 999.30 C678.27 999.78 677.83 999.73 675.50 1000.30 C673.17 1000.87 669.17 1001.92 666.00 1002.70 C662.83 1003.48 659.67 1004.37 656.50 1005.00 C653.33 1005.63 650.17 1006.02 647.00 1006.50 C643.83 1006.98 640.67 1007.32 637.50 1007.90 C634.33 1008.48 631.17 1009.22 628.00 1010.00 C624.83 1010.78 621.33 1011.60 618.50 1012.60 C615.67 1013.60 613.38 1014.73 611.00 1016.00 C608.62 1017.27 606.37 1018.62 604.20 1020.20 C602.03 1021.78 599.90 1023.60 598.00 1025.50 C596.10 1027.40 594.97 1029.77 592.80 1031.60 C590.63 1033.43 587.97 1035.02 585.00 1036.50 C582.03 1037.98 579.17 1039.25 575.00 1040.50 C570.83 1041.75 565.00 1043.00 560.00 1044.00 C555.00 1045.00 550.00 1045.58 545.00 1046.50 C540.00 1047.42 534.50 1048.25 530.00 1049.50 C525.50 1050.75 521.67 1052.25 518.00 1054.00 C514.33 1055.75 511.33 1057.67 508.00 1060.00 C504.67 1062.33 501.00 1065.50 498.00 1068.00 C495.00 1070.50 492.67 1072.92 490.00 1075.00 C487.33 1077.08 484.67 1079.50 482.00 1080.50 C479.33 1081.50 477.00 1081.42 474.00 1081.00 C471.00 1080.58 467.67 1079.33 464.00 1078.00 C460.33 1076.67 455.50 1074.67 452.00 1073.00 C448.50 1071.33 445.07 1069.67 443.00 1068.00 C440.93 1066.33 438.77 1064.25 439.60 1063.00Z" fill="none" stroke="#ec6166" stroke-width="3.00" stroke-linejoin="round"/>
<path d="M439.60 1063.00 C440.43 1061.67 443.60 1060.83 448.00 1060.00 C452.40 1059.17 460.00 1058.67 466.00 1058.00 C472.00 1057.33 479.00 1056.83 484.00 1056.00 C489.00 1055.17 492.00 1054.50 496.00 1053.00 C500.00 1051.50 504.00 1049.08 508.00 1047.00 C512.00 1044.92 516.00 1042.25 520.00 1040.50 C524.00 1038.75 527.00 1037.50 532.00 1036.50 C537.00 1035.50 545.00 1035.25 550.00 1034.50 C555.00 1033.75 558.33 1033.58 562.00 1032.00 C565.67 1030.42 569.00 1028.00 572.00 1025.00 C575.00 1022.00 577.67 1018.17 580.00 1014.00 C582.33 1009.83 584.33 1004.33 586.00 1000.00 C587.67 995.67 588.67 992.00 590.00 988.00 C591.33 984.00 592.67 979.08 594.00 976.00 C595.33 972.92 596.77 970.83 598.00 969.50 C599.23 968.17 600.23 968.50 601.40 968.00 C602.57 967.50 603.73 967.62 605.00 966.50 C606.27 965.38 607.50 963.22 609.00 961.30 C610.50 959.38 612.42 957.05 614.00 955.00 C615.58 952.95 617.00 951.25 618.50 949.00 C620.00 946.75 621.58 943.83 623.00 941.50 C624.42 939.17 625.83 936.75 627.00 935.00 C628.17 933.25 629.08 932.00 630.00 931.00 C630.92 930.00 631.67 929.25 632.50 929.00 C633.33 928.75 634.08 928.97 635.00 929.50 C635.92 930.03 636.75 930.53 638.00 932.20 C639.25 933.87 641.00 937.03 642.50 939.50 C644.00 941.97 645.42 944.92 647.00 947.00 C648.58 949.08 650.42 950.40 652.00 952.00 C653.58 953.60 654.67 955.10 656.50 956.60 C658.33 958.10 660.63 959.58 663.00 961.00 C665.37 962.42 668.20 963.80 670.70 965.10 C673.20 966.40 675.47 967.68 678.00 968.80 C680.53 969.92 685.57 970.80 685.90 971.80 C686.23 972.80 681.73 974.02 680.00 974.80 C678.27 975.58 677.83 975.72 675.50 976.50 C673.17 977.28 669.17 978.55 666.00 979.50 C662.83 980.45 659.67 981.32 656.50 982.20 C653.33 983.08 650.17 984.00 647.00 984.80 C643.83 985.60 640.33 986.25 637.50 987.00 C634.67 987.75 632.38 988.52 630.00 989.30 C627.62 990.08 625.20 990.75 623.20 991.70 C621.20 992.65 619.58 993.88 618.00 995.00 C616.42 996.12 615.20 996.98 613.70 998.40 C612.20 999.82 610.58 1001.60 609.00 1003.50 C607.42 1005.40 605.78 1007.72 604.20 1009.80 C602.62 1011.88 601.08 1013.95 599.50 1016.00 C597.92 1018.05 596.62 1020.02 594.70 1022.10 C592.78 1024.18 590.45 1026.60 588.00 1028.50 C585.55 1030.40 583.00 1032.00 580.00 1033.50 C577.00 1035.00 574.00 1036.25 570.00 1037.50 C566.00 1038.75 561.00 1039.83 556.00 1041.00 C551.00 1042.17 545.17 1043.25 540.00 1044.50 C534.83 1045.75 529.67 1046.83 525.00 1048.50 C520.33 1050.17 516.17 1052.25 512.00 1054.50 C507.83 1056.75 503.67 1059.42 500.00 1062.00 C496.33 1064.58 493.33 1067.83 490.00 1070.00 C486.67 1072.17 483.33 1073.92 480.00 1075.00 C476.67 1076.08 473.67 1076.33 470.00 1076.50 C466.33 1076.67 461.67 1076.58 458.00 1076.00 C454.33 1075.42 450.50 1074.33 448.00 1073.00 C445.50 1071.67 444.40 1069.67 443.00 1068.00 C441.60 1066.33 438.77 1064.33 439.60 1063.00Z" fill="none" stroke="#ea5056" stroke-width="3.00" stroke-linejoin="round"/>
<path d="M439.60 1063.00 C440.43 1061.50 443.60 1060.08 448.00 1059.00 C452.40 1057.92 460.00 1057.33 466.00 1056.50 C472.00 1055.67 479.00 1055.08 484.00 1054.00 C489.00 1052.92 492.00 1051.92 496.00 1050.00 C500.00 1048.08 504.00 1045.00 508.00 1042.50 C512.00 1040.00 516.00 1036.92 520.00 1035.00 C524.00 1033.08 527.00 1031.92 532.00 1031.00 C537.00 1030.08 545.33 1030.33 550.00 1029.50 C554.67 1028.67 557.00 1027.92 560.00 1026.00 C563.00 1024.08 565.50 1021.33 568.00 1018.00 C570.50 1014.67 573.00 1010.17 575.00 1006.00 C577.00 1001.83 578.50 997.67 580.00 993.00 C581.50 988.33 582.78 983.00 584.00 978.00 C585.22 973.00 586.22 967.33 587.30 963.00 C588.38 958.67 589.47 955.23 590.50 952.00 C591.53 948.77 592.42 946.18 593.50 943.60 C594.58 941.02 595.80 938.40 597.00 936.50 C598.20 934.60 599.57 933.08 600.70 932.20 C601.83 931.32 602.75 931.23 603.80 931.20 C604.85 931.17 605.95 931.65 607.00 932.00 C608.05 932.35 609.10 933.22 610.10 933.30 C611.10 933.38 611.97 933.20 613.00 932.50 C614.03 931.80 615.13 930.52 616.30 929.10 C617.47 927.68 618.80 925.72 620.00 924.00 C621.20 922.28 622.25 921.13 623.50 918.80 C624.75 916.47 626.12 913.12 627.50 910.00 C628.88 906.88 630.55 903.02 631.80 900.10 C633.05 897.18 633.97 894.92 635.00 892.50 C636.03 890.08 637.00 887.38 638.00 885.60 C639.00 883.82 640.05 882.67 641.00 881.80 C641.95 880.93 642.87 880.53 643.70 880.40 C644.53 880.27 645.22 880.48 646.00 881.00 C646.78 881.52 647.48 882.00 648.40 883.50 C649.32 885.00 650.47 887.75 651.50 890.00 C652.53 892.25 653.43 894.67 654.60 897.00 C655.77 899.33 657.12 901.75 658.50 904.00 C659.88 906.25 661.32 908.33 662.90 910.50 C664.48 912.67 666.27 914.93 668.00 917.00 C669.73 919.07 671.47 921.23 673.30 922.90 C675.13 924.57 677.10 925.78 679.00 927.00 C680.90 928.22 684.53 929.12 684.70 930.20 C684.87 931.28 682.12 932.28 680.00 933.50 C677.88 934.72 674.67 936.17 672.00 937.50 C669.33 938.83 666.67 940.25 664.00 941.50 C661.33 942.75 658.83 943.75 656.00 945.00 C653.17 946.25 649.67 947.83 647.00 949.00 C644.33 950.17 642.38 950.90 640.00 952.00 C637.62 953.10 634.78 954.35 632.70 955.60 C630.62 956.85 629.08 958.07 627.50 959.50 C625.92 960.93 624.78 962.28 623.20 964.20 C621.62 966.12 619.58 968.78 618.00 971.00 C616.42 973.22 615.03 975.17 613.70 977.50 C612.37 979.83 611.10 982.63 610.00 985.00 C608.90 987.37 608.27 989.37 607.10 991.70 C605.93 994.03 604.27 996.62 603.00 999.00 C601.73 1001.38 600.75 1003.67 599.50 1006.00 C598.25 1008.33 596.77 1010.63 595.50 1013.00 C594.23 1015.37 593.48 1017.87 591.90 1020.20 C590.32 1022.53 588.15 1024.95 586.00 1027.00 C583.85 1029.05 581.67 1030.92 579.00 1032.50 C576.33 1034.08 573.50 1035.25 570.00 1036.50 C566.50 1037.75 562.17 1038.92 558.00 1040.00 C553.83 1041.08 549.67 1041.92 545.00 1043.00 C540.33 1044.08 535.00 1045.08 530.00 1046.50 C525.00 1047.92 519.50 1049.50 515.00 1051.50 C510.50 1053.50 506.83 1056.08 503.00 1058.50 C499.17 1060.92 495.83 1063.83 492.00 1066.00 C488.17 1068.17 484.00 1070.00 480.00 1071.50 C476.00 1073.00 471.67 1074.25 468.00 1075.00 C464.33 1075.75 461.17 1076.42 458.00 1076.00 C454.83 1075.58 451.50 1073.83 449.00 1072.50 C446.50 1071.17 444.57 1069.58 443.00 1068.00 C441.43 1066.42 438.77 1064.50 439.60 1063.00Z" fill="none" stroke="#e73f46" stroke-width="3.00" stroke-linejoin="round"/>
<path d="M439.60 1062.50 C439.77 1061.17 442.60 1060.27 444.00 1059.50 C445.40 1058.73 445.83 1058.48 448.00 1057.90 C450.17 1057.32 454.00 1056.50 457.00 1056.00 C460.00 1055.50 463.00 1055.23 466.00 1054.90 C469.00 1054.57 471.98 1054.40 475.00 1054.00 C478.02 1053.60 481.60 1053.08 484.10 1052.50 C486.60 1051.92 488.00 1051.30 490.00 1050.50 C492.00 1049.70 494.10 1048.95 496.10 1047.70 C498.10 1046.45 500.00 1044.60 502.00 1043.00 C504.00 1041.40 506.10 1039.68 508.10 1038.10 C510.10 1036.52 512.00 1034.90 514.00 1033.50 C516.00 1032.10 518.10 1030.78 520.10 1029.70 C522.10 1028.62 524.00 1027.72 526.00 1027.00 C528.00 1026.28 529.60 1025.85 532.10 1025.40 C534.60 1024.95 537.98 1024.60 541.00 1024.30 C544.02 1024.00 547.47 1024.32 550.20 1023.60 C552.93 1022.88 555.27 1021.52 557.40 1020.00 C559.53 1018.48 561.20 1016.50 563.00 1014.50 C564.80 1012.50 566.62 1010.42 568.20 1008.00 C569.78 1005.58 571.10 1003.00 572.50 1000.00 C573.90 997.00 575.27 993.67 576.60 990.00 C577.93 986.33 579.25 982.00 580.50 978.00 C581.75 974.00 582.97 969.92 584.10 966.00 C585.23 962.08 586.25 958.25 587.30 954.50 C588.35 950.75 589.37 947.08 590.40 943.50 C591.43 939.92 592.47 936.25 593.50 933.00 C594.53 929.75 595.60 926.75 596.60 924.00 C597.60 921.25 598.47 918.70 599.50 916.50 C600.53 914.30 601.57 912.30 602.80 910.80 C604.03 909.30 605.62 907.88 606.90 907.50 C608.18 907.12 609.28 908.03 610.50 908.50 C611.72 908.97 612.95 910.30 614.20 910.30 C615.45 910.30 616.78 909.52 618.00 908.50 C619.22 907.48 620.25 906.12 621.50 904.20 C622.75 902.28 624.13 899.58 625.50 897.00 C626.87 894.42 628.28 891.70 629.70 888.70 C631.12 885.70 632.62 882.10 634.00 879.00 C635.38 875.90 636.83 872.93 638.00 870.10 C639.17 867.27 639.97 864.60 641.00 862.00 C642.03 859.40 643.12 856.67 644.20 854.50 C645.28 852.33 646.45 850.37 647.50 849.00 C648.55 847.63 649.58 846.55 650.50 846.30 C651.42 846.05 652.15 846.80 653.00 847.50 C653.85 848.20 654.77 849.17 655.60 850.50 C656.43 851.83 657.13 853.45 658.00 855.50 C658.87 857.55 659.80 860.47 660.80 862.80 C661.80 865.13 662.97 867.43 664.00 869.50 C665.03 871.57 665.83 873.37 667.00 875.20 C668.17 877.03 669.62 878.77 671.00 880.50 C672.38 882.23 673.80 883.93 675.30 885.60 C676.80 887.27 678.43 888.95 680.00 890.50 C681.57 892.05 684.53 893.40 684.70 894.90 C684.87 896.40 682.05 898.28 681.00 899.50 C679.95 900.72 679.73 901.03 678.40 902.20 C677.07 903.37 674.72 905.12 673.00 906.50 C671.28 907.88 670.27 909.12 668.10 910.50 C665.93 911.88 662.60 913.42 660.00 914.80 C657.40 916.18 654.67 917.52 652.50 918.80 C650.33 920.08 648.72 921.30 647.00 922.50 C645.28 923.70 643.70 924.95 642.20 926.00 C640.70 927.05 639.22 927.93 638.00 928.80 C636.78 929.67 636.15 930.17 634.90 931.20 C633.65 932.23 631.88 933.62 630.50 935.00 C629.12 936.38 627.93 937.33 626.60 939.50 C625.27 941.67 623.85 944.92 622.50 948.00 C621.15 951.08 619.92 954.33 618.50 958.00 C617.08 961.67 615.58 965.92 614.00 970.00 C612.42 974.08 610.63 978.17 609.00 982.50 C607.37 986.83 605.78 992.25 604.20 996.00 C602.62 999.75 601.03 1002.17 599.50 1005.00 C597.97 1007.83 596.58 1010.50 595.00 1013.00 C593.42 1015.50 591.67 1017.92 590.00 1020.00 C588.33 1022.08 586.63 1023.88 585.00 1025.50 C583.37 1027.12 582.03 1028.42 580.20 1029.70 C578.37 1030.98 576.00 1032.20 574.00 1033.20 C572.00 1034.20 570.70 1034.87 568.20 1035.70 C565.70 1036.53 562.00 1037.40 559.00 1038.20 C556.00 1039.00 553.70 1039.62 550.20 1040.50 C546.70 1041.38 542.02 1042.50 538.00 1043.50 C533.98 1044.50 529.60 1045.50 526.10 1046.50 C522.60 1047.50 520.00 1048.30 517.00 1049.50 C514.00 1050.70 510.60 1052.28 508.10 1053.70 C505.60 1055.12 504.00 1056.60 502.00 1058.00 C500.00 1059.40 498.43 1060.77 496.10 1062.10 C493.77 1063.43 490.60 1064.80 488.00 1066.00 C485.40 1067.20 483.00 1068.30 480.50 1069.30 C478.00 1070.30 475.42 1071.20 473.00 1072.00 C470.58 1072.80 468.77 1073.55 466.00 1074.10 C463.23 1074.65 459.40 1075.70 456.40 1075.30 C453.40 1074.90 450.23 1073.00 448.00 1071.70 C445.77 1070.40 444.40 1069.03 443.00 1067.50 C441.60 1065.97 439.43 1063.83 439.60 1062.50Z" fill="none" stroke="#e4323a" stroke-width="3.00" stroke-linejoin="round"/>
<line x1="348.8" y1="857.4" x2="702" y2="857.4" stroke="#000" stroke-width="2.4" stroke-dasharray="3.1 2.1"/>
<line x1="342.4" y1="894.9" x2="702" y2="894.9" stroke="#000" stroke-width="2.4" stroke-dasharray="3.1 2.1"/>
<text x="768.9" y="606.4" style="font-family:'Liberation Sans', sans-serif;font-weight:bold;font-size:35px">(c)</text>
<rect x="841.4" y="718.2" width="124" height="34.6" rx="11" fill="#bfdffa" transform="rotate(-14.5 903.4 735.5)"/>
<mask id="m1" maskUnits="userSpaceOnUse" x="0" y="0" width="1498" height="1158"><rect width="1498" height="1158" fill="#fff"/><path d="M843.0 717.2 L864.2 675.7 L923.6 644.6" stroke="#000" stroke-width="11.5" fill="none" stroke-linecap="butt"/><path d="M851.2 780.6 L876.6 807.6 L923.0 807.6" stroke="#000" stroke-width="11.5" fill="none" stroke-linecap="butt"/><path d="M863.5 745.8 L921.6 732.0" stroke="#000" stroke-width="11.5" fill="none" stroke-linecap="butt"/></mask>
<path d="M852.6 643.9 L823.9 669.1 L831.7 704.5 L866.6 717.3 L889.2 702.2 M852.6 643.9 L888.4 654.0 L901.6 640.0 L924.6 638.1 M888.4 654.0 L896.9 683.5 M866.6 717.3 L894.8 782.1 L924.0 801.1 M854.2 651.7 L883.0 659.4 M831.7 671.1 L837.9 700.2 M865.1 709.6 L884.9 696.0" stroke="#7f7f7f" stroke-width="1.7" fill="none" stroke-linejoin="miter" mask="url(#m1)"/>
<path d="M843.0 717.6 L804.2 721.9 L791.2 756.5 L813.7 785.0 L851.7 779.8 L863.8 745.2Z" stroke="#000" stroke-width="5.2" fill="none" stroke-linejoin="miter"/>
<path d="M838.7 727.1 L855.1 748.7 M811.1 729.7 L800.7 754.7 M817.1 777.2 L844.8 773.4" stroke="#000" stroke-width="1.6" fill="none"/>
<path d="M843.0 717.2 L864.2 675.7 L923.6 644.6 M851.2 780.6 L876.6 807.6 L923.0 807.6 M863.5 745.8 L921.6 732.0" stroke="#000" stroke-width="5.2" fill="none" stroke-linejoin="miter"/>
<path d="M960.1 736.1 L993.1 743.9" stroke="#000" stroke-width="4.8" fill="none"/>
<path d="M934.3 651.0 L933.7 717.5 M933.4 740.0 L932.9 796.3" stroke="#000" stroke-width="1.5" fill="none"/>
<path d="M911.0 705.5 L907.1 710.6 M916.0 709.3 L912.1 714.4 M920.9 713.2 L917.0 718.3 M925.9 717.0 L922.0 722.1" stroke="#000" stroke-width="2.1" fill="none"/>
<path d="M960.3 712.0 L963.4 716.7 M964.7 709.0 L967.9 713.8 M969.1 706.0 L972.3 710.8 M973.4 703.0 L976.8 707.9 M977.8 699.9 L981.2 705.0 M982.2 696.9 L985.7 702.1 M986.6 693.9 L990.1 699.2" stroke="#000" stroke-width="2.0" fill="none"/>
<g style="font-family:'Liberation Sans', sans-serif;font-size:20px"><text x="933.8" y="646.8" text-anchor="middle">S</text><text x="932.9" y="815.4" text-anchor="middle">S</text><text x="899.9" y="702.5" text-anchor="middle">N</text><text x="993.4" y="696.7">NCMe</text></g>
<text x="925.6" y="735.9" style="font-family:'Liberation Sans', sans-serif;font-size:20px;font-weight:bold" fill="#0c7c0c">Ni<tspan dx="0.8" dy="-7.7" style="font-size:14.8px">III</tspan></text>
<text x="996.6" y="754.7" style="font-family:'Liberation Sans', sans-serif;font-size:20px;font-weight:bold">H</text>
<path d="M1025.5 624.3 H1061.3 V661.4" stroke="#000" stroke-width="1.8" fill="none"/>
<text x="1065.3" y="637.5" style="font-family:'Liberation Sans', sans-serif;font-size:20px">+</text>
<rect x="841.4" y="997.2" width="124" height="34.6" rx="11" fill="#fbcdfa" transform="rotate(-14.5 903.4 1014.5)"/>
<mask id="m2" maskUnits="userSpaceOnUse" x="0" y="0" width="1498" height="1158"><rect width="1498" height="1158" fill="#fff"/><path d="M843.0 996.2 L864.2 954.7 L923.6 923.6" stroke="#000" stroke-width="11.5" fill="none" stroke-linecap="butt"/><path d="M851.2 1059.6 L876.6 1086.6 L923.0 1086.6" stroke="#000" stroke-width="11.5" fill="none" stroke-linecap="butt"/><path d="M863.5 1024.8 L921.6 1011.0" stroke="#000" stroke-width="11.5" fill="none" stroke-linecap="butt"/></mask>
<path d="M852.6 922.9 L823.9 948.1 L831.7 983.5 L866.6 996.3 L889.2 981.2 M852.6 922.9 L888.4 933.0 L901.6 919.0 L924.6 917.1 M888.4 933.0 L896.9 962.5 M866.6 996.3 L894.8 1061.1 L924.0 1080.1 M854.2 930.7 L883.0 938.4 M831.7 950.1 L837.9 979.2 M865.1 988.6 L884.9 975.0" stroke="#7f7f7f" stroke-width="1.7" fill="none" stroke-linejoin="miter" mask="url(#m2)"/>
<path d="M843.0 996.6 L804.2 1000.9 L791.2 1035.5 L813.7 1064.0 L851.7 1058.8 L863.8 1024.2Z" stroke="#000" stroke-width="5.2" fill="none" stroke-linejoin="miter"/>
<path d="M838.7 1006.1 L855.1 1027.7 M811.1 1008.7 L800.7 1033.7 M817.1 1056.2 L844.8 1052.4" stroke="#000" stroke-width="1.6" fill="none"/>
<path d="M843.0 996.2 L864.2 954.7 L923.6 923.6 M851.2 1059.6 L876.6 1086.6 L923.0 1086.6 M863.5 1024.8 L921.6 1011.0" stroke="#000" stroke-width="5.2" fill="none" stroke-linejoin="miter"/>
<path d="M960.1 1015.1 L993.1 1022.9" stroke="#000" stroke-width="4.8" fill="none"/>
<path d="M934.3 930.0 L933.7 996.5 M933.4 1019.0 L932.9 1075.3" stroke="#000" stroke-width="1.5" fill="none"/>
<path d="M911.0 984.5 L907.1 989.6 M916.0 988.3 L912.1 993.4 M920.9 992.2 L917.0 997.3 M925.9 996.0 L922.0 1001.1" stroke="#000" stroke-width="2.1" fill="none"/>
<path d="M960.3 991.0 L963.4 995.7 M964.7 988.0 L967.9 992.8 M969.1 985.0 L972.3 989.8 M973.4 982.0 L976.8 986.9 M977.8 978.9 L981.2 984.0 M982.2 975.9 L985.7 981.1 M986.6 972.9 L990.1 978.2" stroke="#000" stroke-width="2.0" fill="none"/>
<g style="font-family:'Liberation Sans', sans-serif;font-size:20px"><text x="933.8" y="925.8" text-anchor="middle">S</text><text x="932.9" y="1094.4" text-anchor="middle">S</text><text x="899.9" y="981.5" text-anchor="middle">N</text><text x="993.4" y="975.7">NCMe</text></g>
<text x="925.6" y="1014.9" style="font-family:'Liberation Sans', sans-serif;font-size:20px;font-weight:bold" fill="#0c7c0c">Ni<tspan dx="0.8" dy="-7.7" style="font-size:14.8px">III</tspan></text>
<text x="996.6" y="1033.7" style="font-family:'Liberation Sans', sans-serif;font-size:20px;font-weight:bold">D</text>
<path d="M1025.5 911.7 H1061.3 V948.8" stroke="#000" stroke-width="1.8" fill="none"/>
<text x="1065.3" y="924.9" style="font-family:'Liberation Sans', sans-serif;font-size:20px">+</text>
<rect x="1272.4" y="738.2" width="67" height="30" rx="11" fill="#bfdffa" transform="rotate(-14.5 1305.9 753.2)"/>
<mask id="m3" maskUnits="userSpaceOnUse" x="0" y="0" width="1498" height="1158"><rect width="1498" height="1158" fill="#fff"/><path d="M1268.8 726.2 L1290.0 684.7 L1349.4 653.6" stroke="#000" stroke-width="11.5" fill="none"/><path d="M1277.0 789.6 L1302.4 816.6 L1348.8 816.6" stroke="#000" stroke-width="11.5" fill="none"/><path d="M1289.4 755.6 L1313.8 750.0" stroke="#000" stroke-width="11.5" fill="none"/></mask>
<path d="M1278.4 652.9 L1249.7 678.1 L1257.5 713.5 L1292.4 726.3 L1315.0 711.2 M1278.4 652.9 L1314.2 663.0 L1327.4 649.0 L1350.4 647.1 M1314.2 663.0 L1322.7 692.5 M1292.4 726.3 L1320.6 791.1 L1349.8 810.1 M1280.0 660.7 L1308.8 668.4 M1257.5 680.1 L1263.7 709.2 M1290.9 718.6 L1310.7 705.0" stroke="#7f7f7f" stroke-width="1.7" fill="none" mask="url(#m3)"/>
<path d="M1268.8 726.6 L1230.0 730.9 L1217.0 765.5 L1239.5 794.0 L1277.5 788.8 L1289.6 754.2Z" stroke="#000" stroke-width="5.2" fill="none" stroke-linejoin="miter"/>
<path d="M1264.5 736.1 L1280.9 757.7 M1236.9 738.7 L1226.5 763.7 M1242.9 786.2 L1270.6 782.4" stroke="#000" stroke-width="1.6" fill="none"/>
<path d="M1268.8 726.2 L1290.0 684.7 L1349.4 653.6 M1277.0 789.6 L1302.4 816.6 L1348.8 816.6" stroke="#000" stroke-width="5.2" fill="none" stroke-linejoin="miter"/>
<path d="M1289.4 755.6 L1313.8 750.0" stroke="#000" stroke-width="5" fill="none"/>
<path d="M1382.9 742.9 L1412.2 749.5" stroke="#000" stroke-width="4.8" fill="none"/>
<path d="M1360.6 659.9 L1360.4 727.5 M1361.0 748.5 L1359.8 807.0 M1335.9 713.5 L1350.6 728.2" stroke="#000" stroke-width="1.5" fill="none"/>
<path d="M1383.8 722.7 L1386.5 726.8 M1387.5 720.1 L1390.3 724.4 M1391.2 717.6 L1394.1 722.0 M1394.9 715.0 L1397.9 719.6 M1398.6 712.5 L1401.7 717.2 M1402.3 709.9 L1405.5 714.8 M1406.0 707.4 L1409.3 712.4 M1409.7 704.9 L1413.1 710.0" stroke="#000" stroke-width="1.9" fill="none"/>
<g style="font-family:'Liberation Sans', sans-serif;font-size:20px"><text x="1359.6" y="655.8" text-anchor="middle">S</text><text x="1358.7" y="824.4" text-anchor="middle">S</text><text x="1325.7" y="711.5" text-anchor="middle">N</text><text x="1416.0" y="708.1">NCMe</text><text x="1318.0" y="753.9">H</text></g>
<text x="1352.0" y="744.6" style="font-family:'Liberation Sans', sans-serif;font-size:20px;font-weight:bold" fill="#f00000">Ni<tspan dx="0.5" dy="-7.9" style="font-size:14.2px">II</tspan></text>
<text x="1416.6" y="759.0" style="font-family:'Liberation Sans', sans-serif;font-size:20px;font-weight:bold">H</text>
<path d="M1446.7 624.4 H1483.0 V661.4" stroke="#000" stroke-width="1.8" fill="none"/>
<text x="1486.5" y="637.5" style="font-family:'Liberation Sans', sans-serif;font-size:20px">+</text>
<rect x="1273.8" y="1017.2" width="67" height="30" rx="11" fill="#fbcdfa" transform="rotate(-14.5 1307.3 1032.2)"/>
<mask id="m4" maskUnits="userSpaceOnUse" x="0" y="0" width="1498" height="1158"><rect width="1498" height="1158" fill="#fff"/><path d="M1270.2 1005.2 L1291.4 963.7 L1350.8 932.6" stroke="#000" stroke-width="11.5" fill="none"/><path d="M1278.4 1068.6 L1303.8 1095.6 L1350.2 1095.6" stroke="#000" stroke-width="11.5" fill="none"/><path d="M1290.8 1034.6 L1315.2 1029.0" stroke="#000" stroke-width="11.5" fill="none"/></mask>
<path d="M1279.8 931.9 L1251.1 957.1 L1258.9 992.5 L1293.8 1005.3 L1316.4 990.2 M1279.8 931.9 L1315.6 942.0 L1328.8 928.0 L1351.8 926.1 M1315.6 942.0 L1324.1 971.5 M1293.8 1005.3 L1322.0 1070.1 L1351.2 1089.1 M1281.4 939.7 L1310.2 947.4 M1258.9 959.1 L1265.1 988.2 M1292.3 997.6 L1312.1 984.0" stroke="#7f7f7f" stroke-width="1.7" fill="none" mask="url(#m4)"/>
<path d="M1270.2 1005.6 L1231.4 1009.9 L1218.4 1044.5 L1240.9 1073.0 L1278.9 1067.8 L1291.0 1033.2Z" stroke="#000" stroke-width="5.2" fill="none" stroke-linejoin="miter"/>
<path d="M1265.9 1015.1 L1282.3 1036.7 M1238.3 1017.7 L1227.9 1042.7 M1244.3 1065.2 L1272.0 1061.4" stroke="#000" stroke-width="1.6" fill="none"/>
<path d="M1270.2 1005.2 L1291.4 963.7 L1350.8 932.6 M1278.4 1068.6 L1303.8 1095.6 L1350.2 1095.6" stroke="#000" stroke-width="5.2" fill="none" stroke-linejoin="miter"/>
<path d="M1290.8 1034.6 L1315.2 1029.0" stroke="#000" stroke-width="5" fill="none"/>
<path d="M1384.3 1021.9 L1413.6 1028.5" stroke="#000" stroke-width="4.8" fill="none"/>
<path d="M1362.0 938.9 L1361.8 1006.5 M1362.4 1027.5 L1361.2 1086.0 M1337.3 992.5 L1352.0 1007.2" stroke="#000" stroke-width="1.5" fill="none"/>
<path d="M1385.2 1001.7 L1387.9 1005.8 M1388.9 999.1 L1391.7 1003.4 M1392.6 996.6 L1395.5 1001.0 M1396.3 994.0 L1399.3 998.6 M1400.0 991.5 L1403.1 996.2 M1403.7 988.9 L1406.9 993.8 M1407.4 986.4 L1410.7 991.4 M1411.1 983.9 L1414.5 989.0" stroke="#000" stroke-width="1.9" fill="none"/>
<g style="font-family:'Liberation Sans', sans-serif;font-size:20px"><text x="1361.0" y="934.8" text-anchor="middle">S</text><text x="1360.1" y="1103.4" text-anchor="middle">S</text><text x="1327.1" y="990.5" text-anchor="middle">N</text><text x="1417.4" y="987.1">NCMe</text><text x="1319.4" y="1032.9">D</text></g>
<text x="1353.4" y="1023.6" style="font-family:'Liberation Sans', sans-serif;font-size:20px;font-weight:bold" fill="#f00000">Ni<tspan dx="0.5" dy="-7.9" style="font-size:14.2px">II</tspan></text>
<text x="1418.8" y="1040.3" style="font-family:'Liberation Sans', sans-serif;font-size:20px;font-weight:bold">D</text>
<path d="M1446.7 912.0 H1483.0 V949.0" stroke="#000" stroke-width="1.8" fill="none"/>
<text x="1486.5" y="925.1" style="font-family:'Liberation Sans', sans-serif;font-size:20px">+</text>
<path d="M1070.7 732.1 H1178" stroke="#000" stroke-width="2"/>
<path d="M1191.8 732.1 L1171.2 726.0 L1173.8 732.1 L1171.2 738.2 Z" fill="#000"/>
<text x="1103.6" y="722.6" style="font-family:'Liberation Sans', sans-serif;font-size:20.6px">e<tspan dy="-6.6" dx="0.3" style="font-size:15px">-</tspan><tspan dy="6.6">/H</tspan><tspan dy="-6.6" dx="0.8" style="font-size:15.5px">+</tspan></text>
<path d="M1070.7 1010.6 H1178" stroke="#000" stroke-width="2"/>
<path d="M1191.8 1010.6 L1171.2 1004.5 L1173.8 1010.6 L1171.2 1016.7 Z" fill="#000"/>
<text x="1103.6" y="1001.1" style="font-family:'Liberation Sans', sans-serif;font-size:20.6px">e<tspan dy="-6.6" dx="0.3" style="font-size:15px">-</tspan><tspan dy="6.6">/D</tspan><tspan dy="-6.6" dx="0.8" style="font-size:15.5px">+</tspan></text>
</svg>
</body></html>
